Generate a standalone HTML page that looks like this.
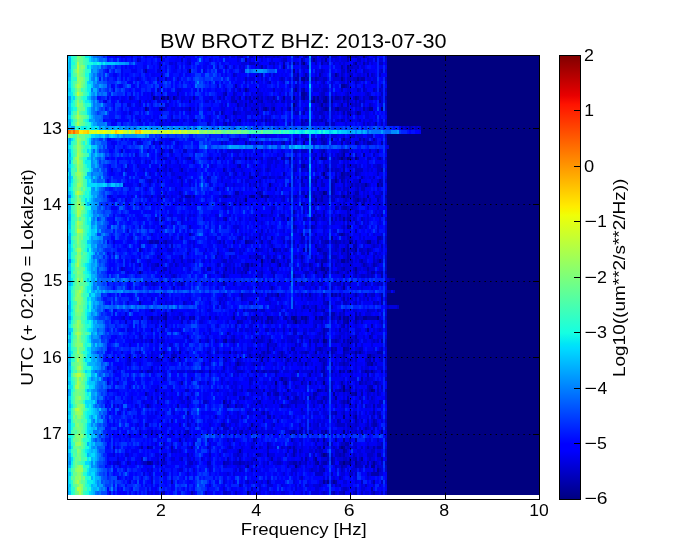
<!DOCTYPE html>
<html><head><meta charset="utf-8"><title>BW BROTZ BHZ spectrogram</title>
<style>html,body{margin:0;padding:0;background:#fff;width:673px;height:554px;overflow:hidden}svg{display:block}</style>
</head><body>
<svg width="673" height="554" viewBox="0 0 673 554">
<defs><clipPath id="dclip"><rect x="67" y="55" width="473" height="440"/></clipPath></defs>
<g clip-path="url(#dclip)">
<rect x="67" y="55" width="473" height="440" fill="#000080"/>
<g stroke-width="3.802" fill="none" shape-rendering="crispEdges"><path stroke="#000097" d="M327 55.86h2m18 0h2m-104 3.8h2m66 0h2m10 0h2m-34 3.8h2m60 0h2m-74 3.81h2m62 0h2m-56 3.8h2m40 3.8h2m-36 3.8h4m36 0h2m14 0h2m-18 7.61h4m-100 3.8h2m48 0h2m4 3.8h4m-144 3.8h4m8 0h2m108 0h2m18 0h2m8 0h2m2 0h2m6 0h2m16 0h2m10 0h2m14 0h2m-62 3.8h2m10 0h4m4 0h2m-12 3.81h2m-178 3.8h2m118 0h2m6 0h2m50 0h2m10 0h2m30 0h4m-16 3.8h2m-120 7.6h2m102 19.02h2m-42 3.8h2m50 0h2m-14 11.4h2m18 0h2m-120 3.81h2m42 0h2m32 0h4m22 0h2m-48 7.6h2m36 7.6h2m-18 3.8h2m8 3.81h2m22 0h2m-92 3.8h2m94 0h2m-42 7.6h2m-102 3.81h2m24 0h4m12 0h2m98 0h2m-54 3.8h2m40 0h2m-72 19.01h2m22 0h2m30 0h2m2 7.6h2m-8 7.61h2m-12 3.8h2m-88 3.8h2m102 0h2m16 0h4m-98 7.6h2m28 0h2m38 0h2m10 0h2m-86 11.41h4m66 0h4m34 0h2m-134 3.8h2m30 0h2m40 0h2m-2 3.8h4m30 0h2m-218 3.81h2m174 0h2m8 0h2m-4 3.8h2m18 0h2m-2 11.4h2m-68 7.61h2m52 0h2m-182 22.81h2m12 0h2m66 0h2m32 0h2m22 0h2m2 0h2m4 0h2m2 0h2m8 0h2m4 0h2m16 0h2m2 0h2m2 0h2m6 0h2m6 0h4m-20 3.8h2m18 7.6h2m-144 11.41h2m98 0h2m16 7.61h2m-182 3.8h2m14 0h2m48 0h2m84 0h2m10 0h2m26 0h2m2 0h2m8 3.8h2m-110 3.8h2m-26 3.8h2m66 0h2m64 0h2m-34 7.61h2m8 0h2m14 0h2m4 0h2m-92 7.6h2m2 3.8h2m22 0h2m-24 7.61h2m28 0h2m54 0h2m-42 3.8h2m20 0h2m-70 3.8h2m46 0h2m-114 3.8h2m122 0h2m6 15.21h2m-106 7.61h2m40 7.6h2m30 0h2m34 0h2m18 0h2m-60 7.6h2m18 0h2m10 0h2m-210 7.61h2m194 0h2m-106 3.8h2m102 0h2m-20 3.8h2m-12 3.8h2m44 0h2m-216 3.81h4m166 0h2m30 0h2m4 0h2m16 0h2m-128 3.8h2m122 0h4m2 3.8h2m-56 11.4h2m2 0h2m4 0h2"/><path stroke="#0000ae" d="M159 55.86h2m136 0h2m6 0h2m42 0h2m4 0h2m-56 3.8h2m44 0h2m-66 3.8h2m16 0h2m18 0h2m40 0h2m-104 3.81h2m78 0h2m-198 3.8h2m200 0h2m-52 3.8h2m6 0h2m12 0h2m46 0h2m-74 3.8h4m8 0h2m6 0h2m44 0h4m6 3.81h2m-138 3.8h2m108 0h2m-44 3.8h2m-80 3.8h2m78 0h2m-114 3.8h2m44 0h2m4 0h2m2 0h2m6 0h2m14 0h2m26 0h2m20 0h2m6 0h2m2 0h4m8 0h2m8 0h2m10 0h2m14 0h2m-198 3.8h2m44 0h2m14 0h2m8 0h2m54 0h2m28 0h2m30 0h2m-144 3.81h2m6 0h2m94 0h2m4 0h2m-190 3.8h4m26 0h2m72 0h2m24 0h2m2 0h2m28 0h2m2 0h2m6 0h2m26 0h2m-144 3.8h2m10 0h2m22 0h2m44 0h2m38 0h2m2 0h4m8 0h2m-136 3.8h2m-34 3.8h2m70 0h2m34 0h2m2 0h2m14 0h2m18 0h2m-118 3.81h2m74 0h2m22 0h2m48 0h2m32 3.8h2m-116 11.41h2m8 0h4m2 0h2m8 0h2m36 0h2m2 0h2m8 0h2m-216 3.8h2m84 0h2m36 0h2m38 0h2m16 0h2m14 0h2m8 0h4m10 0h2m-222 7.6h2m148 0h2m10 0h2m18 0h2m32 0h2m-58 3.8h2m-134 3.81h2m26 0h2m30 0h2m30 0h4m8 0h2m18 0h2m4 0h2m18 0h2m2 0h2m12 0h2m20 0h2m-142 7.6h2m60 0h2m22 0h2m16 0h2m-188 3.8h2m22 0h2m40 0h2m102 0h2m14 0h2m36 0h2m-100 3.8h2m58 0h2m2 0h2m6 0h2m-178 3.8h2m68 0h4m52 0h2m10 0h2m8 0h2m6 0h2m4 0h4m16 0h2m-62 3.81h2m12 0h2m24 0h2m36 0h2m-92 3.8h2m40 0h2m18 0h2m28 0h2m-66 3.8h2m12 0h2m-98 3.8h4m20 0h2m70 0h2m14 0h2m6 0h4m-196 3.81h2m20 0h6m2 0h2m28 0h2m24 0h2m14 0h2m28 0h2m16 0h2m6 0h2m18 0h2m4 0h2m4 0h2m30 0h2m-66 3.8h2m32 0h2m6 0h2m12 0h2m-24 3.8h2m6 0h2m-30 3.8h2m6 0h4m-54 3.8h2m-34 3.8h2m50 0h2m8 0h2m14 0h2m40 0h2m-158 3.81h2m28 0h2m16 0h2m18 0h2m18 0h2m16 0h2m14 0h4m-58 7.6h2m16 0h2m36 0h2m4 3.8h2m-168 3.81h2m110 0h2m36 0h2m2 0h2m-74 3.8h2m104 0h4m-232 3.8h4m2 0h4m6 0h2m66 0h2m12 0h2m12 0h2m62 0h4m6 0h2m14 0h2m2 0h2m20 0h2m-64 3.8h2m30 0h2m4 0h4m-218 3.8h2m166 0h2m8 0h4m26 0h2m18 0h2m-46 3.8h4m20 0h2m18 0h2m-112 3.81h2m24 0h2m16 0h2m22 0h2m20 0h2m-34 3.8h2m4 0h6m20 0h2m12 0h2m-206 3.8h2m86 0h2m4 0h2m8 0h2m46 0h2m52 0h2m8 0h2m-168 3.8h4m14 0h2m20 0h2m78 0h2m14 0h2m22 0h2m-124 3.81h2m90 0h2m8 0h2m6 0h2m14 0h4m6 0h2m2 0h2m-164 3.8h2m68 0h2m86 0h2m6 3.8h6m-214 3.8h2m40 0h2m118 0h2m20 0h2m-96 3.8h2m114 3.8h4m-150 3.81h2m66 0h2m12 0h2m10 0h2m2 0h2m14 0h2m8 0h2m14 0h2m-40 3.8h2m36 0h2m-244 3.8h2m186 0h2m52 0h2m-80 3.8h2m10 0h2m-166 3.8h2m156 0h2m4 0h2m6 0h2m18 0h2m-180 3.81h2m164 0h4m20 0h2m-216 3.8h2m20 0h2m24 0h2m2 0h2m14 0h2m40 0h4m2 0h2m10 0h4m12 0h2m16 0h2m14 0h2m10 0h2m12 0h2m10 0h2m8 0h10m-140 3.8h2m28 0h2m2 0h2m20 0h2m10 0h2m36 0h4m8 0h2m-192 3.8h2m176 0h2m26 0h2m-50 3.8h2m14 0h2m-114 3.81h2m94 0h2m-24 3.8h2m20 0h2m30 0h2m12 0h2m-220 3.8h2m70 0h2m8 0h2m34 0h2m38 0h2m6 0h2m16 0h2m6 0h2m2 0h2m2 0h2m28 0h2m-116 3.8h2m86 0h2m-90 3.81h2m22 0h4m24 0h2m10 0h2m2 0h2m8 0h4m-86 3.8h2m2 0h2m12 0h2m22 0h2m24 0h2m10 0h2m32 0h6m-134 3.8h2m8 0h2m20 0h2m60 0h2m10 0h2m10 0h2m-198 3.8h2m114 0h2m10 0h2m18 0h2m48 0h2m2 0h2m-52 3.8h2m6 0h2m10 0h2m22 0h4m-48 3.8h2m-178 3.81h2m60 0h2m40 0h2m4 0h2m4 0h2m10 0h2m20 0h2m12 0h2m8 0h4m6 0h2m10 0h2m2 0h2m18 0h2m12 0h2m2 0h2m-78 3.8h2m12 0h2m42 0h2m-8 3.8h2m22 0h2m-206 3.8h2m100 0h2m16 0h2m38 0h2m16 0h2m14 0h2m-28 3.81h2m18 0h4m-218 3.8h2m106 0h2m54 0h2m4 0h2m4 0h2m6 0h2m8 0h2m18 0h2m14 0h2m-242 3.8h2m120 0h2m6 0h4m34 0h4m34 0h4m6 0h2m-176 3.8h2m54 0h2m50 0h2m12 0h2m2 0h2m8 0h2m22 0h2m-90 3.8h2m60 0h2m20 0h2m-198 3.81h2m28 0h2m48 0h2m6 0h2m44 0h2m40 0h2m24 0h2m4 0h2m16 0h2m-188 7.6h2m74 0h2m70 0h2m36 0h2m-108 3.8h4m108 0h2m-44 3.8h2m16 0h2m16 0h2m-154 3.81h4m148 0h4m-128 3.8h2m50 0h2m62 0h2m-216 3.8h2m34 0h2m52 0h2m48 0h2m6 0h2m8 0h2m10 0h2m48 0h2m-194 7.6h2m72 0h2m36 0h2m24 0h2m16 0h2m-10 3.8h2m16 0h4m-208 3.81h2m28 0h2m18 0h2m58 0h2m14 0h2m20 0h2m2 0h2m24 0h2m18 0h2m26 0h2m4 0h2m2 0h4m-88 3.8h2m50 0h2m-90 3.8h2m8 0h2m24 0h2m26 0h2m16 0h2m2 0h2m32 0h4m-218 3.8h2m106 0h2m32 0h2m24 0h2m16 0h2m4 0h2m24 0h2m-232 3.81h2m70 0h2m14 0h2m52 0h4m2 0h2m14 0h2m6 0h4m4 0h2m6 0h4m2 0h4m18 0h2m16 0h2m-46 3.8h2m12 0h2m8 0h2m-44 3.8h2m46 3.8h8m-208 7.6h2m94 0h2m66 0h2m36 0h2m-4 7.61h2m-210 3.8h2m26 0h2m140 0h2m8 0h2m10 0h2m16 0h2"/><path stroke="#0000c5" d="M157 55.86h2m24 0h2m52 0h6m6 0h4m6 0h4m2 0h2m6 0h2m2 0h2m16 0h2m6 0h2m6 0h6m6 0h4m4 0h6m14 0h4m2 0h2m6 0h2m8 0h2m8 0h2m-250 3.8h2m42 0h2m100 0h4m24 0h2m2 0h2m4 0h2m34 0h4m6 0h2m6 0h2m-218 3.8h2m28 0h2m58 0h6m2 0h2m10 0h2m2 0h2m22 0h2m16 0h2m10 0h2m24 0h2m12 0h2m10 0h4m-224 3.81h2m64 0h2m80 0h2m40 0h4m4 0h2m-38 3.8h2m18 0h4m4 0h2m4 0h2m6 0h2m16 0h2m-222 3.8h2m70 0h2m22 0h2m2 0h2m30 0h2m42 0h2m2 0h2m6 0h4m18 0h2m6 0h2m-224 3.8h2m6 0h2m78 0h2m34 0h2m10 0h2m10 0h2m4 0h2m4 0h2m4 0h4m16 0h2m2 0h4m2 0h4m2 0h2m24 0h2m-118 3.81h2m32 0h2m18 0h2m22 0h2m6 0h2m-62 3.8h2m50 0h2m14 0h2m16 0h2m-226 3.8h2m80 0h2m6 0h2m8 0h2m14 0h2m18 0h2m6 0h2m20 0h4m14 0h2m14 0h2m4 0h2m8 0h2m4 0h2m4 0h2m-236 3.8h2m24 0h2m44 0h2m8 0h2m86 0h4m22 0h2m18 0h2m12 0h2m-254 3.8h2m24 0h4m6 0h2m8 0h2m42 0h2m2 0h2m6 0h4m18 0h2m6 0h2m4 0h2m36 0h4m6 0h2m4 0h2m4 0h2m10 0h2m4 0h2m2 0h2m2 0h2m8 0h2m8 0h4m2 0h2m-242 3.8h2m90 0h4m14 0h2m6 0h4m10 0h2m2 0h2m4 0h4m10 0h2m18 0h2m2 0h2m6 0h2m14 0h2m10 0h2m2 0h2m2 0h2m20 0h2m-92 3.81h2m22 0h2m4 0h2m4 0h2m18 0h2m2 0h2m2 0h2m8 0h2m14 0h2m-240 3.8h2m14 0h2m44 0h2m40 0h2m4 0h2m8 0h2m2 0h2m8 0h2m4 0h2m16 0h2m8 0h2m4 0h2m8 0h2m6 0h10m18 0h2m16 0h2m-152 3.8h2m58 0h4m20 0h4m32 0h2m-34 3.8h2m22 0h2m-210 3.8h2m30 0h2m4 0h2m16 0h2m36 0h2m2 0h2m14 0h2m6 0h2m6 0h2m2 0h2m18 0h2m12 0h2m6 0h2m2 0h2m4 0h2m10 0h2m4 0h2m4 0h2m8 0h2m-200 3.81h2m44 0h2m14 0h2m4 0h2m42 0h2m14 0h2m2 0h2m8 0h2m22 0h2m2 0h4m28 0h2m2 0h2m12 0h2m18 3.8h2m2 0h2m4 0h2m2 0h2m2 0h2m-172 7.6h2m50 0h2m18 0h4m26 0h4m16 0h2m12 0h2m-150 3.81h2m74 0h4m6 0h4m14 0h2m6 0h2m-198 3.8h2m66 0h2m26 0h2m6 0h2m2 0h2m8 0h2m8 0h2m6 0h2m4 0h2m16 0h2m6 0h2m2 0h2m20 0h2m14 0h2m6 0h2m-252 7.6h2m46 0h4m10 0h4m74 0h2m30 0h4m4 0h6m14 0h2m18 0h2m2 0h4m20 0h2m-88 3.8h2m30 0h2m8 0h2m10 0h2m2 0h2m6 0h2m4 0h2m16 0h2m-212 3.81h4m8 0h2m10 0h2m20 0h2m12 0h2m8 0h2m4 0h2m20 0h2m8 0h2m2 0h2m24 0h2m2 0h2m26 0h2m2 0h2m6 0h2m4 0h2m14 0h4m6 0h2m6 0h2m-194 3.8h2m38 0h2m54 0h2m-126 3.8h2m70 0h2m56 0h2m8 0h2m40 0h4m4 0h2m20 0h4m-212 3.8h2m62 0h2m32 0h2m24 0h4m4 0h2m4 0h2m6 0h2m8 0h2m4 0h2m2 0h4m16 0h8m14 0h4m-146 3.8h2m6 0h2m4 0h2m6 0h2m62 0h2m12 0h2m8 0h2m2 0h2m6 0h2m18 0h2m-172 3.8h2m54 0h4m2 0h2m8 0h2m12 0h2m2 0h2m2 0h2m12 0h2m22 0h2m8 0h2m22 0h2m-226 3.81h2m6 0h2m22 0h2m76 0h2m50 0h2m8 0h2m8 0h4m2 0h2m4 0h2m2 0h2m32 0h2m2 0h2m-248 3.8h2m40 0h2m42 0h2m22 0h2m4 0h2m44 0h4m10 0h2m4 0h4m8 0h2m8 0h2m10 0h4m2 0h4m2 0h2m10 0h2m-164 3.8h2m56 0h2m56 0h2m8 0h2m2 0h2m8 0h2m2 0h4m-186 3.8h2m76 0h2m2 0h2m38 0h4m2 0h2m4 0h2m4 0h4m10 0h2m6 0h2m30 0h2m6 0h2m-232 3.81h2m28 0h2m44 0h4m14 0h2m12 0h2m2 0h2m18 0h2m4 0h2m2 0h2m12 0h2m6 0h2m10 0h2m2 0h2m2 0h4m6 0h2m2 0h2m4 0h4m16 0h6m-202 3.8h2m54 0h2m28 0h2m16 0h2m4 0h2m28 0h2m10 0h4m10 0h2m6 0h2m4 0h2m4 0h2m2 0h2m14 0h2m-166 3.8h4m8 0h2m4 0h2m60 0h4m6 0h2m2 0h2m26 0h2m16 0h2m22 0h2m-162 3.8h2m46 0h2m32 0h2m4 0h2m22 0h2m2 0h2m4 0h2m2 0h2m14 0h2m8 0h2m-108 3.8h2m30 0h2m10 0h2m6 0h2m22 0h2m6 0h4m-78 3.8h4m32 0h4m26 0h4m22 0h2m2 0h2m-224 3.81h2m4 0h2m60 0h2m58 0h2m18 0h4m8 0h2m6 0h2m10 0h2m2 0h2m12 0h2m6 0h2m22 0h2m-72 3.8h2m30 0h2m6 0h2m-196 3.8h2m26 0h2m104 0h2m8 0h2m6 0h2m28 0h2m14 0h2m-100 3.8h2m-4 3.81h2m46 0h2m6 0h2m30 0h2m-168 3.8h2m56 0h2m18 0h2m40 0h4m16 0h2m24 0h4m30 0h2m2 0h2m-234 3.8h2m8 0h2m54 0h2m2 0h2m24 0h4m16 0h2m12 0h2m4 0h2m2 0h2m6 0h2m4 0h2m2 0h2m8 0h4m6 0h4m2 0h4m2 0h2m20 0h2m18 0h2m-216 3.8h2m98 0h2m24 0h2m24 0h2m10 0h4m34 0h2m6 0h2m-154 3.8h4m24 0h2m16 0h2m2 0h2m4 0h2m34 0h2m12 0h2m4 0h2m8 0h4m4 0h4m6 0h2m-184 3.8h2m28 0h2m122 0h2m10 0h2m6 0h4m10 0h2m-220 3.81h2m22 0h2m32 0h2m12 0h2m18 0h2m4 0h2m2 0h2m6 0h2m4 0h2m20 0h2m14 0h2m2 0h2m6 0h2m6 0h6m12 0h2m22 0h2m10 0h2m-214 3.8h2m6 0h2m10 0h2m28 0h4m50 0h2m8 0h2m12 0h2m14 0h2m18 0h2m6 0h2m4 0h2m6 0h2m12 0h2m2 0h2m2 0h2m2 0h2m-248 3.8h2m14 0h2m18 0h2m40 0h2m22 0h2m34 0h2m8 0h2m14 0h2m6 0h2m18 0h2m2 0h2m28 0h2m8 0h2m8 0h2m-266 3.8h2m40 0h4m66 0h2m8 0h4m24 0h2m28 0h2m8 0h2m2 0h2m2 0h2m4 0h2m14 0h2m10 0h2m30 0h2m-218 3.81h2m46 0h2m4 0h2m8 0h2m6 0h2m18 0h2m8 0h4m30 0h4m14 0h2m6 0h2m2 0h2m30 0h2m8 0h4m-208 3.8h2m86 0h2m10 0h2m30 0h2m48 0h2m4 0h4m2 0h2m2 0h2m14 3.8h2m-244 3.8h2m6 0h2m78 0h2m22 0h2m36 0h2m4 0h4m6 0h2m6 0h4m14 0h4m8 0h2m26 0h2m2 0h2m-210 3.8h2m140 0h2m8 0h2m4 0h2m60 3.8h2m-232 3.81h2m58 0h2m32 0h2m8 0h2m2 0h2m2 0h2m24 0h2m2 0h2m26 0h2m8 0h2m26 0h4m-134 3.8h2m22 0h4m54 0h2m22 0h2m18 0h2m16 0h2m-204 3.8h2m34 0h2m28 0h4m70 0h4m16 0h4m8 0h2m16 0h2m2 0h2m-98 3.8h2m24 0h2m22 0h2m54 0h2m8 0h2m-228 3.8h2m62 0h2m6 0h2m6 0h6m4 0h4m56 0h2m44 0h2m8 0h2m-146 3.81h2m90 0h4m10 0h2m2 0h2m14 0h2m-238 3.8h2m24 0h2m6 0h2m18 0h2m2 0h4m6 0h2m22 0h2m28 0h2m8 0h2m4 0h2m14 0h2m4 0h2m22 0h2m14 0h4m6 0h2m2 0h2m20 0h4m22 0h2m-262 3.8h2m38 0h2m14 0h2m56 0h4m10 0h2m6 0h2m2 0h2m20 0h2m8 0h4m20 0h2m14 0h2m22 0h2m18 0h2m-148 3.8h2m78 0h2m24 0h2m4 0h2m-198 3.8h2m104 0h2m6 0h4m4 0h2m8 0h2m4 0h2m2 0h4m28 0h4m18 0h2m30 0h2m-88 3.81h4m6 0h2m14 0h2m50 0h2m-186 3.8h2m44 0h2m26 0h2m36 0h2m38 0h2m30 0h2m-212 3.8h2m36 0h2m6 0h2m6 0h2m14 0h2m20 0h2m2 0h6m28 0h2m8 0h2m10 0h4m14 0h4m2 0h2m10 0h2m4 0h4m14 0h2m2 0h2m6 0h2m-112 3.8h2m18 0h2m2 0h2m8 0h2m4 0h2m6 0h4m14 0h2m4 0h2m36 0h2m-114 3.81h2m40 0h4m2 0h2m10 0h2m24 0h4m18 0h2m-244 3.8h2m32 0h2m32 0h2m8 0h2m4 0h2m10 0h2m4 0h2m18 0h2m6 0h2m8 0h2m8 0h2m4 0h2m4 0h4m2 0h2m12 0h2m10 0h2m10 0h4m2 0h4m2 0h2m2 0h2m-234 3.8h2m40 0h6m86 0h2m66 0h2m38 0h4m6 0h2m-254 3.8h2m26 0h2m20 0h2m28 0h2m14 0h2m10 0h2m28 0h2m24 0h4m24 0h6m16 0h2m2 0h2m6 0h2m8 0h4m12 0h2m2 0h2m-184 3.8h2m30 0h2m2 0h2m12 0h2m8 0h2m20 0h2m14 0h2m22 0h2m12 0h4m2 0h4m26 0h2m8 0h2m-236 3.8h2m70 0h2m10 0h2m78 0h2m-176 3.81h2m6 0h4m40 0h2m4 0h4m34 0h6m18 0h2m2 0h2m2 0h6m2 0h2m16 0h2m18 0h2m24 0h2m8 0h2m8 0h4m4 0h2m2 0h2m-100 3.8h2m48 0h2m-164 3.8h2m26 0h2m56 0h4m26 0h2m2 0h4m4 0h6m6 0h2m18 0h2m42 0h2m-162 3.8h2m40 0h2m64 0h2m14 0h2m14 0h2m12 0h2m2 0h2m6 0h2m2 0h2m-104 3.81h2m8 0h2m8 0h2m28 0h2m4 0h2m8 0h2m24 0h2m8 0h2m2 0h2m-212 3.8h2m12 0h4m28 0h2m22 0h2m4 0h6m20 0h4m44 0h2m12 0h4m2 0h2m2 0h4m6 0h2m4 0h2m4 0h2m8 0h2m-216 3.8h2m68 0h4m32 0h2m2 0h2m8 0h2m82 0h2m8 0h2m6 0h2m-236 3.8h2m86 0h2m56 0h2m26 0h2m32 0h2m6 0h2m2 0h2m12 0h2m-230 3.8h2m44 0h4m18 0h2m2 0h2m26 0h2m14 0h2m16 0h6m6 0h2m12 0h4m4 0h2m14 0h2m2 0h2m2 0h2m10 0h2m16 0h4m-196 3.81h2m52 0h2m44 0h2m6 0h2m16 0h2m20 0h2m6 0h2m20 0h2m10 0h4m-80 3.8h2m70 0h2m-128 3.8h2m12 0h2m4 0h2m62 0h4m8 0h2m4 0h2m4 0h2m20 0h4m-166 3.8h2m24 0h2m30 0h2m52 0h2m24 0h2m16 0h2m-202 3.8h2m90 0h2m12 0h2m60 0h2m8 0h2m10 0h2m4 0h2m6 0h2m8 0h2m-242 3.81h2m32 0h2m6 0h2m84 0h2m24 0h2m8 0h2m6 0h2m18 0h8m2 0h4m4 0h2m10 0h2m2 0h2m-156 3.8h2m4 0h6m26 0h2m94 0h2m6 0h2m6 0h2m4 0h2m10 0h2m-248 3.8h2m30 0h2m12 0h2m28 0h2m18 0h2m2 0h2m10 0h2m36 0h2m4 0h2m4 0h2m2 0h2m4 0h2m10 0h2m22 0h2m6 0h2m-228 3.8h2m76 3.8h2m18 0h2m4 0h2m20 0h2m56 0h2m34 0h2m26 0h2m6 0h2m-224 3.8h2m28 0h2m72 0h2m46 0h2m6 0h2m6 0h2m8 0h4m36 0h2m-270 3.81h2m34 0h4m8 0h2m44 0h2m20 0h2m28 0h2m20 0h2m4 0h2m28 0h2m14 0h2m12 0h4m4 0h2m4 0h2m18 0h2m-212 3.8h2m94 0h2m18 0h2m6 0h2m2 0h2m14 0h2m2 0h4m12 0h4m32 0h4m10 0h2m-224 3.8h4m20 0h2m20 0h2m26 0h2m20 0h2m24 0h2m26 0h2m12 0h2m2 0h2m2 0h4m2 0h2m10 0h2m12 0h6m12 0h2m-246 3.8h2m38 0h2m44 0h2m10 0h2m12 0h2m46 0h2m10 0h2m12 0h2m4 0h2m8 0h4m6 0h2m4 0h2m8 0h2m-254 3.81h2m8 0h2m14 0h4m10 0h2m2 0h4m24 0h4m14 0h4m14 0h4m4 0h6m2 0h4m2 0h2m2 0h2m14 0h2m8 0h4m8 0h4m12 0h2m14 0h2m10 0h2m22 0h4m10 0h2m2 0h2m4 0h2m-138 3.8h2m40 0h2m8 0h2m20 0h4m12 0h2m6 0h4m10 0h6m4 0h2m8 0h2m6 0h2m-148 3.8h2m10 0h2m58 0h2m6 0h4m18 0h2m30 0h2m4 0h2m4 0h2m-224 3.8h2m150 0h8m8 0h2m16 0h4m2 0h2m10 0h2m-68 3.8h2m36 0h2m-94 3.8h2m76 0h2m4 0h2m28 0h2m18 0h2m-144 3.81h2m78 0h2m14 0h2m2 0h2m24 0h2m-116 3.8h2m90 0h4m8 0h2m-196 3.8h2m42 0h2m16 0h4m8 0h2m12 0h2m72 0h2m6 0h2m6 0h4m10 0h2m6 0h2m8 0h2m8 0h2m2 0h2"/><path stroke="#0000dc" d="M115 55.86h2m4 0h4m6 0h2m12 0h2m6 0h2m6 0h2m2 0h2m10 0h2m40 0h2m4 0h4m2 0h4m32 0h6m2 0h2m2 0h2m2 0h4m6 0h2m12 0h2m10 0h4m14 0h2m2 0h6m12 0h4m4 0h2m4 0h2m-236 3.8h2m20 0h2m24 0h4m18 0h2m26 0h2m10 0h2m10 0h2m8 0h2m8 0h2m20 0h2m18 0h2m6 0h2m2 0h4m2 0h6m16 0h2m4 0h4m6 0h4m2 0h2m-218 3.8h4m2 0h2m10 0h2m52 0h6m24 0h2m4 0h2m10 0h2m4 0h2m8 0h2m16 0h4m6 0h2m4 0h2m2 0h2m14 0h2m4 0h2m4 0h2m12 0h2m-212 3.81h2m40 0h2m14 0h2m4 0h2m2 0h2m10 0h2m2 0h2m4 0h2m6 0h2m26 0h6m36 0h2m8 0h4m4 0h4m-222 3.8h2m12 0h4m26 0h2m14 0h2m36 0h4m52 0h2m4 0h2m10 0h2m2 0h2m2 0h2m40 0h4m10 0h2m4 0h2m-152 3.8h2m32 0h2m2 0h2m20 0h2m6 0h2m2 0h2m6 0h2m4 0h2m8 0h4m8 0h2m2 0h2m8 0h4m2 0h2m8 0h2m-238 3.8h2m38 0h2m70 0h6m6 0h2m2 0h2m12 0h2m2 0h2m4 0h2m22 0h2m4 0h4m10 0h8m10 0h2m14 0h4m2 0h4m-132 3.81h2m10 0h2m8 0h2m14 0h2m12 0h2m16 0h2m4 0h2m8 0h2m8 0h4m12 0h2m14 0h4m8 0h2m-170 3.8h2m70 0h2m6 0h2m20 0h2m2 0h4m4 0h2m22 0h2m-180 3.8h4m44 0h2m6 0h2m2 0h2m4 0h2m36 0h2m14 0h2m14 0h6m2 0h2m4 0h2m18 0h4m8 0h2m4 0h2m8 0h2m4 0h2m-148 3.8h2m14 0h2m4 0h6m16 0h2m6 0h2m4 0h2m2 0h2m8 0h2m10 0h2m10 0h2m2 0h2m8 0h2m18 0h2m2 0h2m14 0h2m-256 3.8h2m18 0h2m16 0h2m6 0h2m2 0h4m4 0h2m18 0h4m4 0h2m18 0h2m8 0h2m6 0h2m2 0h2m4 0h2m2 0h4m2 0h2m4 0h2m4 0h4m4 0h4m12 0h2m6 0h2m12 0h2m6 0h2m16 0h2m4 0h4m12 0h2m-278 3.8h2m14 0h2m22 0h2m2 0h2m6 0h4m8 0h2m10 0h2m22 0h4m4 0h2m24 0h4m2 0h2m20 0h4m6 0h2m8 0h4m2 0h2m2 0h2m4 0h2m16 0h2m10 0h8m4 0h2m2 0h4m8 0h2m18 0h2m-256 3.81h4m8 0h2m24 0h4m52 0h2m2 0h2m12 0h4m6 0h2m2 0h6m2 0h4m6 0h4m12 0h2m26 0h4m4 0h2m2 0h2m10 0h2m12 0h2m2 0h2m4 0h2m6 0h2m8 0h2m-218 3.8h2m4 0h4m6 0h2m2 0h4m4 0h2m2 0h2m8 0h2m12 0h4m8 0h2m2 0h2m4 0h4m6 0h4m4 0h2m34 0h2m4 0h2m2 0h2m2 0h2m6 0h2m12 0h2m20 0h2m2 0h2m4 0h2m-238 3.8h2m58 0h2m24 0h4m4 0h2m12 0h4m4 0h6m2 0h4m14 0h2m2 0h2m4 0h2m10 0h2m6 0h2m10 0h6m4 0h2m2 0h2m2 0h4m2 0h2m2 0h2m8 0h2m12 0h4m4 0h2m10 0h2m-216 3.8h2m36 0h2m24 0h2m8 0h2m14 0h2m2 0h2m2 0h2m44 0h4m2 0h2m8 0h2m10 0h2m12 0h2m6 0h4m6 0h2m-262 3.8h2m34 0h2m8 0h2m2 0h2m6 0h4m6 0h2m24 0h2m6 0h2m4 0h2m4 0h2m14 0h2m2 0h4m6 0h2m6 0h2m6 0h2m6 0h2m18 0h2m6 0h4m2 0h2m4 0h2m6 0h2m2 0h2m2 0h2m6 0h2m2 0h2m4 0h2m4 0h2m4 0h4m8 0h2m2 0h2m-228 3.81h2m8 0h2m38 0h2m6 0h2m16 0h2m2 0h2m24 0h2m2 0h2m6 0h2m26 0h4m2 0h2m4 0h2m26 0h2m22 0h2m2 0h2m10 0h2m16 3.8h2m2 0h2m4 0h2m2 0h2m-154 7.6h2m36 0h4m6 0h2m12 0h2m2 0h6m6 0h2m4 0h2m6 0h6m4 0h4m-202 3.81h4m56 0h2m2 0h4m6 0h2m52 0h2m4 0h2m14 0h2m16 0h2m6 0h4m12 0h2m2 0h4m6 0h2m8 0h2m-250 3.8h4m20 0h2m14 0h2m46 0h2m6 0h4m18 0h2m18 0h2m16 0h2m20 0h2m14 0h6m8 0h2m2 0h2m8 0h2m4 0h2m6 0h4m8 0h2m0 3.8h2m-242 3.8h2m14 0h2m30 0h2m24 0h2m4 0h4m2 0h8m2 0h2m10 0h2m14 0h2m8 0h2m14 0h2m20 0h2m4 0h2m12 0h2m10 0h2m8 0h2m12 0h2m8 0h2m-252 3.8h2m22 0h4m8 0h2m8 0h2m38 0h6m10 0h2m6 0h2m30 0h2m16 0h2m4 0h2m10 0h2m16 0h2m2 0h2m2 0h2m-156 3.81h2m20 0h2m2 0h2m22 0h4m12 0h4m4 0h2m6 0h4m2 0h2m12 0h2m6 0h2m34 0h2m2 0h2m44 0h2m-238 3.8h2m2 0h2m18 0h2m6 0h2m82 0h2m4 0h6m2 0h4m4 0h2m10 0h2m4 0h4m6 0h2m2 0h2m6 0h2m6 0h8m4 0h2m2 0h2m18 0h2m16 0h2m-260 3.8h2m8 0h2m40 0h2m30 0h2m32 0h2m6 0h2m12 0h4m4 0h2m6 0h2m4 0h2m2 0h2m12 0h2m6 0h2m2 0h2m2 0h2m2 0h2m2 0h6m4 0h2m8 0h4m4 0h2m6 0h4m2 0h4m4 0h2m-272 3.8h2m12 0h2m16 0h2m18 0h4m4 0h2m6 0h2m14 0h2m28 0h2m4 0h2m8 0h2m14 0h4m4 0h2m2 0h2m32 0h4m16 0h2m8 0h2m4 0h2m8 0h2m16 0h2m2 0h2m12 0h2m-238 3.8h2m8 0h2m4 0h2m4 0h4m10 0h2m38 0h4m4 0h2m20 0h2m36 0h2m30 0h2m12 0h2m10 0h2m6 0h2m-220 3.8h2m34 0h2m2 0h2m26 0h2m10 0h2m6 0h2m2 0h2m18 0h2m6 0h2m8 0h4m2 0h2m2 0h4m18 0h2m2 0h2m14 0h2m20 0h4m14 0h2m4 0h2m10 0h2m2 0h2m-240 3.81h2m2 0h2m18 0h2m16 0h2m16 0h2m12 0h2m18 0h2m2 0h4m26 0h2m16 0h2m12 0h2m4 0h2m38 0h6m12 0h2m4 0h2m-256 3.8h2m24 0h2m38 0h2m18 0h2m22 0h2m18 0h2m4 0h2m10 0h2m10 0h2m8 0h2m12 0h2m4 0h2m32 0h4m2 0h2m4 0h2m8 0h2m-226 3.8h2m28 0h2m46 0h2m32 0h2m2 0h2m4 0h4m10 0h2m54 0h4m4 0h2m8 0h2m20 0h2m-214 3.8h2m14 0h2m58 0h2m46 0h2m6 0h2m12 0h2m2 0h4m24 0h2m4 0h2m2 0h2m8 0h2m2 0h2m10 0h2m4 0h2m-278 3.81h2m20 0h2m6 0h2m4 0h4m8 0h6m4 0h2m2 0h2m18 0h2m26 0h4m10 0h6m18 0h2m10 0h4m2 0h2m2 0h4m14 0h2m4 0h2m6 0h2m4 0h4m2 0h4m6 0h2m4 0h2m10 0h2m6 0h2m2 0h2m-252 3.8h2m10 0h2m22 0h2m6 0h2m22 0h2m4 0h4m2 0h2m20 0h2m22 0h2m2 0h2m12 0h2m14 0h2m6 0h2m10 0h4m16 0h2m2 0h2m4 0h6m14 0h2m2 0h2m12 0h2m16 0h2m-242 3.8h2m34 0h2m10 0h4m34 0h2m8 0h2m4 0h2m18 0h2m50 0h2m4 0h8m10 0h4m12 0h2m14 0h2m4 0h8m-160 3.8h2m4 0h2m40 0h2m10 0h2m18 0h2m20 0h2m22 0h2m2 0h4m-62 3.8h2m10 0h2m24 0h2m14 0h2m10 0h4m10 0h2m2 0h4m-214 3.8h4m8 0h2m6 0h2m2 0h2m20 0h4m10 0h2m22 0h2m8 0h4m2 0h4m6 0h2m12 0h2m20 0h2m14 0h2m2 0h4m2 0h4m6 0h2m2 0h2m10 0h2m2 0h2m6 0h2m-224 3.81h2m4 0h2m16 0h2m4 0h2m14 0h2m12 0h2m20 0h2m8 0h2m30 0h2m12 0h2m20 0h2m2 0h2m2 0h2m14 0h2m2 0h2m8 0h2m6 0h2m2 0h2m10 0h2m-210 3.8h4m6 0h2m78 0h2m30 0h2m32 0h2m2 0h4m8 0h2m12 0h2m4 0h2m2 0h2m10 0h2m-242 3.8h2m22 0h2m68 0h6m32 0h2m42 0h2m6 0h4m14 0h2m18 0h2m2 0h2m10 0h2m6 0h2m-260 3.8h2m106 0h2m30 0h2m14 0h2m8 0h4m14 0h2m10 0h2m8 0h4m6 0h2m32 0h2m6 0h2m-236 3.81h2m38 0h2m48 0h2m2 0h2m14 0h2m2 0h2m22 0h2m8 0h2m22 0h2m2 0h2m8 0h2m6 0h2m12 0h2m6 0h2m4 0h2m6 0h2m2 0h2m-256 3.8h2m38 0h2m6 0h2m34 0h2m20 0h2m2 0h2m6 0h2m2 0h2m10 0h2m14 0h4m26 0h4m4 0h2m4 0h2m8 0h2m6 0h2m6 0h2m6 0h2m2 0h2m-252 3.8h2m24 0h2m6 0h2m18 0h6m16 0h2m2 0h2m22 0h2m18 0h2m14 0h2m4 0h2m6 0h2m18 0h2m10 0h2m2 0h2m8 0h2m2 0h2m22 0h2m2 0h4m12 0h4m6 0h4m4 0h2m-242 3.8h2m24 0h2m26 0h2m28 0h4m18 0h2m22 0h2m18 0h2m2 0h2m12 0h2m8 0h2m2 0h2m2 0h2m6 0h2m10 0h2m16 0h2m6 0h2m2 0h4m6 0h2m-246 3.8h2m14 0h2m8 0h6m16 0h2m14 0h2m10 0h2m14 0h2m4 0h2m2 0h2m10 0h2m2 0h4m4 0h2m8 0h2m4 0h2m2 0h2m34 0h6m2 0h4m2 0h2m6 0h2m2 0h2m12 0h4m4 0h2m8 0h2m-270 3.8h2m46 0h2m40 0h2m34 0h4m24 0h2m6 0h2m4 0h2m16 0h2m6 0h2m10 0h4m4 0h2m2 0h2m4 0h2m4 0h4m2 0h2m4 0h2m16 0h2m4 0h2m4 0h2m-248 3.81h2m18 0h2m18 0h2m40 0h2m10 0h4m14 0h4m6 0h2m6 0h2m4 0h2m16 0h2m4 0h2m2 0h2m32 0h2m4 0h4m8 0h4m6 0h2m10 0h2m2 0h2m-252 3.8h4m12 0h4m10 0h2m2 0h2m20 0h4m12 0h2m4 0h2m10 0h2m6 0h4m30 0h2m2 0h2m6 0h2m6 0h2m4 0h2m28 0h2m6 0h2m2 0h2m2 0h2m2 0h2m8 0h2m4 0h2m6 0h4m8 0h2m-230 3.8h2m2 0h4m6 0h2m6 0h4m4 0h2m4 0h2m34 0h2m4 0h6m2 0h2m8 0h2m4 0h2m2 0h4m12 0h2m14 0h2m6 0h2m6 0h2m2 0h2m30 0h4m2 0h10m8 0h2m4 0h2m2 0h2m4 0h2m-256 3.8h2m26 0h4m14 0h2m18 0h2m12 0h2m18 0h2m4 0h2m6 0h4m20 0h2m6 0h2m6 0h2m16 0h4m10 0h2m6 0h2m12 0h2m4 0h4m4 0h6m6 0h4m2 0h4m2 0h6m4 0h4m-256 3.81h2m8 0h2m2 0h2m16 0h2m2 0h2m38 0h2m10 0h2m8 0h2m2 0h2m6 0h4m2 0h2m12 0h4m14 0h2m12 0h2m2 0h2m8 0h2m8 0h2m2 0h2m2 0h2m4 0h2m4 0h2m4 0h4m2 0h2m6 0h2m2 0h2m10 0h2m-206 3.8h2m4 0h2m2 0h2m32 0h2m10 0h2m2 0h4m12 0h2m14 0h4m26 0h2m6 0h6m16 0h2m6 0h2m14 0h2m10 0h2m4 0h2m4 0h2m2 0h2m2 0h2m10 0h2m-2 3.8h2m-240 3.8h2m2 0h2m2 0h2m14 0h2m4 0h4m2 0h2m18 0h2m16 0h2m2 0h2m16 0h2m16 0h2m6 0h2m6 0h2m20 0h2m12 0h2m16 0h6m10 0h2m12 0h4m2 0h4m2 0h4m2 0h2m4 0h2m-258 3.8h2m86 0h2m28 0h2m10 0h2m8 0h2m2 0h2m30 0h2m2 0h2m30 0h2m14 0h2m2 0h2m8 0h2m12 3.8h2m-162 3.81h2m12 0h2m2 0h10m8 0h2m6 0h2m2 0h2m6 0h4m12 0h2m12 0h2m2 0h2m8 0h2m10 0h2m8 0h2m4 0h2m2 0h2m4 0h2m4 0h2m8 0h2m4 0h2m-236 3.8h2m36 0h2m28 0h4m2 0h2m6 0h2m8 0h4m30 0h4m20 0h2m4 0h6m2 0h2m24 0h2m8 0h2m2 0h2m2 0h2m2 0h2m6 0h2m-246 3.8h2m36 0h2m4 0h2m12 0h2m4 0h2m16 0h2m12 0h2m44 0h2m22 0h2m40 0h6m6 0h2m4 0h2m4 0h2m14 0h2m8 0h2m-170 3.8h2m4 0h2m50 0h2m16 0h2m6 0h2m2 0h2m4 0h4m6 0h2m2 0h4m60 0h8m-268 3.8h2m18 0h2m2 0h2m52 0h4m36 0h4m8 0h2m10 0h6m2 0h2m6 0h2m6 0h2m4 0h2m14 0h4m26 0h2m4 0h4m12 0h6m4 0h2m4 0h2m-262 3.81h2m36 0h2m14 0h4m72 0h2m8 0h2m14 0h4m6 0h2m2 0h2m16 0h4m6 0h2m10 0h2m4 0h2m22 0h6m10 0h2m2 0h2m-266 3.8h2m6 0h2m16 0h2m4 0h4m2 0h4m10 0h4m24 0h4m12 0h2m12 0h2m8 0h4m14 0h2m12 0h4m10 0h2m8 0h4m16 0h2m16 0h2m4 0h2m6 0h4m26 0h2m-230 3.8h2m4 0h2m28 0h2m10 0h4m24 0h2m22 0h2m16 0h2m2 0h4m12 0h4m10 0h2m2 0h2m4 0h8m4 0h2m4 0h2m6 0h2m12 0h2m2 0h2m20 0h2m4 0h2m-232 3.8h2m60 0h2m30 0h4m30 0h2m28 0h2m6 0h2m32 0h2m24 0h2m2 0h2m-260 3.8h2m32 0h4m6 0h2m6 0h2m28 0h2m24 0h2m2 0h4m2 0h4m2 0h2m2 0h2m14 0h2m4 0h2m24 0h4m2 0h6m6 0h2m12 0h2m6 0h4m8 0h6m4 0h2m6 0h2m2 0h2m2 0h2m2 0h2m-248 3.81h2m40 0h2m20 0h2m4 0h2m18 0h2m20 0h2m30 0h2m20 0h2m10 0h2m2 0h2m2 0h2m12 0h6m2 0h2m6 0h4m14 0h2m-236 3.8h4m64 0h2m16 0h2m4 0h2m8 0h2m12 0h4m4 0h2m4 0h2m16 0h8m10 0h4m6 0h6m14 0h4m4 0h2m2 0h8m8 0h2m12 0h6m2 0h2m-254 3.8h2m6 0h2m2 0h2m2 0h2m6 0h2m4 0h2m24 0h2m14 0h2m10 0h2m10 0h2m4 0h4m12 0h2m10 0h2m2 0h2m2 0h2m8 0h4m2 0h4m2 0h4m24 0h2m4 0h2m10 0h2m4 0h2m6 0h2m8 0h4m4 0h2m2 0h2m-248 3.8h2m38 0h4m60 0h2m34 0h6m68 0h4m2 0h2m10 0h2m8 0h2m-194 3.81h2m28 0h2m6 0h2m28 0h6m6 0h2m26 0h2m20 0h2m12 0h4m22 0h2m4 0h4m14 0h2m4 0h2m4 0h2m-266 3.8h2m28 0h2m8 0h2m2 0h2m20 0h2m20 0h2m4 0h2m8 0h4m4 0h2m12 0h4m6 0h2m6 0h2m10 0h2m4 0h2m8 0h2m4 0h2m12 0h2m4 0h2m4 0h2m8 0h2m12 0h2m12 0h2m2 0h10m8 0h2m-246 3.8h2m8 0h2m10 0h2m44 0h2m36 0h2m2 0h2m2 0h4m2 0h2m2 0h4m4 0h2m2 0h4m2 0h4m6 0h4m4 0h2m2 0h2m4 0h6m2 0h2m2 0h2m2 0h2m6 0h8m2 0h2m28 0h6m4 0h2m-260 3.8h2m22 0h2m2 0h2m2 0h4m6 0h2m2 0h2m48 0h2m14 0h2m18 0h2m20 0h2m2 0h2m2 0h2m16 0h4m24 0h2m4 0h2m6 0h4m26 0h2m-254 3.8h4m8 0h2m46 0h2m20 0h2m12 0h2m4 0h2m10 0h4m6 0h2m2 0h6m12 0h4m14 0h2m4 0h4m6 0h2m2 0h2m8 0h2m12 0h2m18 0h2m8 0h2m6 0h2m-258 3.8h2m114 0h2m46 0h2m38 0h2m10 0h2m8 0h4m8 0h2m4 0h2m2 0h4m8 0h6m2 0h2m-274 3.81h2m24 0h2m4 0h2m10 0h2m4 0h2m6 0h2m4 0h8m2 0h6m4 0h2m4 0h2m12 0h2m2 0h4m10 0h2m6 0h2m8 0h4m2 0h2m6 0h2m14 0h6m4 0h2m6 0h10m8 0h2m4 0h2m6 0h2m20 0h2m18 0h2m-212 3.8h2m42 0h2m14 0h2m6 0h2m2 0h2m8 0h2m6 0h2m34 0h4m12 0h2m6 0h2m14 0h2m2 0h2m2 0h2m10 0h2m8 0h2m10 0h2m10 0h2m-222 3.8h2m54 0h2m32 0h2m16 0h2m12 0h2m8 0h2m18 0h6m20 0h2m4 0h8m8 0h2m2 0h4m-266 3.8h2m8 0h2m60 0h2m18 0h2m20 0h2m4 0h2m4 0h4m14 0h2m10 0h4m4 0h2m14 0h2m4 0h2m8 0h4m4 0h2m8 0h2m2 0h2m6 0h2m4 0h2m2 0h2m10 0h2m6 0h2m2 0h4m8 0h2m-252 3.81h2m26 0h2m72 0h2m2 0h2m4 0h2m6 0h2m4 0h4m10 0h2m26 0h2m6 0h2m20 0h2m18 0h2m2 0h2m2 0h2m-250 3.8h2m48 0h2m56 0h2m16 0h4m2 0h2m12 0h8m8 0h4m16 0h2m14 0h2m16 0h2m2 0h2m30 0h2m4 0h2m14 0h2m-236 3.8h2m32 0h2m8 0h2m34 0h2m22 0h2m4 0h6m22 0h2m4 0h6m4 0h2m6 0h2m6 0h2m8 0h2m8 0h2m4 0h2m2 0h4m18 0h2m2 0h2m4 0h2m-250 3.8h2m24 0h2m4 0h2m6 0h2m6 0h4m42 0h2m14 0h2m4 0h2m12 0h2m6 0h2m4 0h4m6 0h2m6 0h2m6 0h2m2 0h2m4 0h2m2 0h2m4 0h2m4 0h2m4 0h2m8 0h2m16 0h2m10 0h2m-232 3.8h2m36 0h4m2 0h4m16 0h2m28 0h2m14 0h2m22 0h2m10 0h2m6 0h6m8 0h4m16 0h6m2 0h2m14 0h2m12 0h6m10 0h2m-274 3.81h2m2 0h2m16 0h2m8 0h2m2 0h2m48 0h2m22 0h4m2 0h2m6 0h4m10 0h2m2 0h2m4 0h2m2 0h2m12 0h2m2 0h4m2 0h2m14 0h2m34 0h2m8 0h2m8 0h2m4 0h4m-244 3.8h2m120 0h2m6 0h2m60 0h2m2 0h2m18 0h2m-226 3.8h2m34 0h2m6 0h2m8 0h2m52 0h2m8 0h2m10 0h4m48 0h4m4 0h2m2 0h6m4 0h4m14 0h2m10 0h2m4 0h2m4 0h2m2 0h4m12 0h2m-200 3.8h2m36 0h2m2 0h2m6 0h2m18 0h4m20 0h2m4 0h2m4 0h2m14 0h2m14 0h2m4 0h2m2 0h2m12 0h2m8 0h2m6 0h2m4 0h2m2 0h2m6 0h2m-200 3.8h2m2 0h2m30 0h2m6 0h8m62 0h2m2 0h2m6 0h2m2 0h4m2 0h2m8 0h2m10 0h4m8 0h2m12 0h2m8 0h2m-246 3.81h2m8 0h2m18 0h2m20 0h2m4 0h2m12 0h2m14 0h2m2 0h2m4 0h2m16 0h2m2 0h2m12 0h2m32 0h2m6 0h4m4 0h4m10 0h2m14 0h4m2 0h2m6 0h2m10 0h2m6 0h2m-154 3.8h2m2 0h2m4 0h2m2 0h2m12 0h2m8 0h2m12 0h2m12 0h2m4 0h2m6 0h6m24 0h2m2 0h4m2 0h4m6 0h2m4 0h2m6 0h2m2 0h2m-236 3.8h2m6 0h2m22 0h2m26 0h2m10 0h2m2 0h4m2 0h2m2 0h2m10 0h4m4 0h12m2 0h10m8 0h4m28 0h2m8 0h2m2 0h2m2 0h2m4 0h2m8 0h4m4 0h2m4 0h2m6 0h2m4 0h2m4 0h2m-240 3.8h2m6 0h2m12 0h2m12 0h2m2 0h2m196 0h2m-202 3.8h2m6 0h2m98 0h2m4 0h4m8 0h2m12 0h2m38 0h2m2 0h2m-216 3.8h2m14 0h2m8 0h2m26 0h2m18 0h2m8 0h2m10 0h4m14 0h2m22 0h4m4 0h2m22 0h2m12 0h2m12 0h4m10 0h2m8 0h4m-242 3.81h2m22 0h2m22 0h4m18 0h2m16 0h2m2 0h2m8 0h2m10 0h2m6 0h2m6 0h4m2 0h2m6 0h2m6 0h2m2 0h2m4 0h2m6 0h2m2 0h2m16 0h2m2 0h2m8 0h2m4 0h4m10 0h2m2 0h4m2 0h2m8 0h2m-214 3.8h4m2 0h2m28 0h2m12 0h4m10 0h2m2 0h2m58 0h2m6 0h4m4 0h2m20 0h4m4 0h2m8 0h4m4 0h6m6 0h4m-268 3.8h2m10 0h4m26 0h4m32 0h2m26 0h2m12 0h4m2 0h4m4 0h2m12 0h2m6 0h6m16 0h2m2 0h2m2 0h2m4 0h4m10 0h2m24 0h4m6 0h2m2 0h4m10 0h2m-258 3.8h2m38 0h2m12 0h4m4 0h2m6 0h4m2 0h2m6 0h2m6 0h2m24 0h2m14 0h2m2 0h2m12 0h2m6 0h4m26 0h2m12 0h6m10 0h6m4 0h2m2 0h2m14 0h2m2 0h4m2 0h4m4 0h2m-278 3.81h2m2 0h4m2 0h2m8 0h2m4 0h2m4 0h2m12 0h2m8 0h2m20 0h2m6 0h2m32 0h2m14 0h2m2 0h2m4 0h4m4 0h2m8 0h4m4 0h2m4 0h2m8 0h2m2 0h4m4 0h2m2 0h2m12 0h2m22 0h2m8 0h4m12 0h2m-260 3.8h2m66 0h4m16 0h4m12 0h4m10 0h4m14 0h2m6 0h2m34 0h2m4 0h2m6 0h4m20 0h4m12 0h2m24 0h4m-236 3.8h2m2 0h2m26 0h4m10 0h2m14 0h2m24 0h2m4 0h2m48 0h6m12 0h2m2 0h4m18 0h2m6 0h2m2 0h2m2 0h6m2 0h2m20 0h2m-240 3.8h2m4 0h2m14 0h2m20 0h2m38 0h2m4 0h2m48 0h2m6 0h2m2 0h2m44 0h4m24 0h2m8 0h4m-266 3.8h2m32 0h2m146 0h2m22 0h2m2 0h2m4 0h2m6 0h2m12 0h2m10 0h2m-240 3.8h2m20 0h2m70 0h2m8 0h2m10 0h2m6 0h2m6 0h2m6 0h2m22 0h2m24 0h4m20 0h4m8 0h2m14 0h2m12 0h2m-178 3.81h2m30 0h2m16 0h2m6 0h6m8 0h2m12 0h2m2 0h2m4 0h4m4 0h6m2 0h2m8 0h2m4 0h2m22 0h2m10 0h2m4 0h2m-158 3.8h2m34 0h2m6 0h2m26 0h2m18 0h4m22 0h2m4 0h2m12 0h4m-256 3.8h2m36 0h2m2 0h2m2 0h4m34 0h2m32 0h4m22 0h2m2 0h4m8 0h2m2 0h2m6 0h4m8 0h2m6 0h2m2 0h2m4 0h8m2 0h2m2 0h2m8 0h2m28 0h4m6 0h4"/><path stroke="#0000f3" d="M109 55.86h2m2 0h2m10 0h2m10 0h4m14 0h2m24 0h2m2 0h6m2 0h2m26 0h2m20 0h4m6 0h2m2 0h2m4 0h2m16 0h2m6 0h2m80 0h2m-248 3.8h2m4 0h2m30 0h2m10 0h4m32 0h2m8 0h2m2 0h4m10 0h2m6 0h2m4 0h2m10 0h2m12 0h2m12 0h4m20 0h4m6 0h2m4 0h2m4 0h2m10 0h2m2 0h2m4 0h2m-212 3.8h2m4 0h2m14 0h2m6 0h2m2 0h2m18 0h4m8 0h2m2 0h2m6 0h2m6 0h4m6 0h2m6 0h2m2 0h2m14 0h2m34 0h4m20 0h4m2 0h2m2 0h4m8 0h2m2 0h2m10 0h4m-252 3.81h2m16 0h4m18 0h2m14 0h2m4 0h2m14 0h4m4 0h2m14 0h2m12 0h2m14 0h2m4 0h2m16 0h2m2 0h2m6 0h2m20 0h2m4 0h2m12 0h6m4 0h2m28 0h2m2 0h4m2 0h2m-280 3.8h2m12 0h2m8 0h6m10 0h2m24 0h4m4 0h2m34 0h4m10 0h2m6 0h2m42 0h2m4 0h2m10 0h2m14 0h2m6 0h4m2 0h2m12 0h2m4 0h4m14 0h6m-262 3.8h4m4 0h2m28 0h4m24 0h2m4 0h2m34 0h2m2 0h2m12 0h2m8 0h2m2 0h4m2 0h2m14 0h4m2 0h2m2 0h2m36 0h4m12 0h2m14 0h2m4 0h2m2 0h2m8 0h2m4 0h2m2 0h2m-252 3.8h2m2 0h2m6 0h2m12 0h2m6 0h2m62 0h2m2 0h4m2 0h2m2 0h2m8 0h2m8 0h2m4 0h4m10 0h2m38 0h2m2 0h2m12 0h2m18 0h2m4 0h2m8 0h2m-254 3.81h4m48 0h2m32 0h2m4 0h2m14 0h4m8 0h2m2 0h2m6 0h2m2 0h2m8 0h2m4 0h2m22 0h2m4 0h2m20 0h2m4 0h2m18 0h2m2 0h2m4 0h2m-260 3.8h2m6 0h4m10 0h2m4 0h2m20 0h2m60 0h2m8 0h2m2 0h2m6 0h2m12 0h4m2 0h2m12 0h2m12 0h2m8 0h2m8 0h4m4 0h2m4 0h2m6 0h4m10 0h2m16 0h4m4 0h2m2 0h2m4 0h2m-274 3.8h2m44 0h2m6 0h2m6 0h2m4 0h2m12 0h2m2 0h2m14 0h2m14 0h2m16 0h2m8 0h2m2 0h2m2 0h6m4 0h4m2 0h2m20 0h2m12 0h2m10 0h2m6 0h2m4 0h2m6 0h4m-226 3.8h2m10 0h2m2 0h2m4 0h2m6 0h2m4 0h6m8 0h4m32 0h2m2 0h2m18 0h2m2 0h2m6 0h4m8 0h2m16 0h2m26 0h2m12 0h2m10 0h4m2 0h2m4 0h4m2 0h6m2 0h2m14 0h2m-274 3.8h2m4 0h2m2 0h2m2 0h4m8 0h2m4 0h2m6 0h2m10 0h2m10 0h2m12 0h4m2 0h2m2 0h4m4 0h6m12 0h2m12 0h2m14 0h2m10 0h2m14 0h2m4 0h2m74 0h2m-260 3.8h2m18 0h2m4 0h2m6 0h2m46 0h2m6 0h2m16 0h2m8 0h6m2 0h2m12 0h2m10 0h2m6 0h4m6 0h2m26 0h2m2 0h2m34 0h2m10 0h2m2 0h2m6 0h8m-260 3.81h2m20 0h4m12 0h2m22 0h2m20 0h2m20 0h2m10 0h2m2 0h2m6 0h2m2 0h2m2 0h2m6 0h2m4 0h6m4 0h2m6 0h2m4 0h2m6 0h2m2 0h2m2 0h4m4 0h2m22 0h2m4 0h2m4 0h2m16 0h2m4 0h2m4 0h2m-260 3.8h2m8 0h2m4 0h2m4 0h2m8 0h2m2 0h2m16 0h6m2 0h2m6 0h2m12 0h2m12 0h2m4 0h2m2 0h2m8 0h2m8 0h2m18 0h2m4 0h2m2 0h2m2 0h2m10 0h2m16 0h2m2 0h2m30 0h4m4 0h2m2 0h2m10 0h4m2 0h2m-258 3.8h4m4 0h2m6 0h2m30 0h2m2 0h4m8 0h2m4 0h2m34 0h4m8 0h4m6 0h2m6 0h4m10 0h2m2 0h2m28 0h2m16 0h2m8 0h2m8 0h2m6 0h2m6 0h4m4 0h2m-236 3.8h4m14 0h2m2 0h2m30 0h4m14 0h2m18 0h4m2 0h2m6 0h4m6 0h2m14 0h2m20 0h2m4 0h2m28 0h4m4 0h4m4 0h2m6 0h2m18 0h4m6 0h2m4 0h2m-256 3.8h2m4 0h2m4 0h2m4 0h2m8 0h2m24 0h2m2 0h4m14 0h2m2 0h2m2 0h2m18 0h2m4 0h2m12 0h4m4 0h2m6 0h2m4 0h2m2 0h2m6 0h2m4 0h2m56 0h4m8 0h4m6 0h2m2 0h2m-270 3.81h4m24 0h4m20 0h6m6 0h2m4 0h2m6 0h6m32 0h2m2 0h2m4 0h2m14 0h2m2 0h4m10 0h2m2 0h2m10 0h2m8 0h2m14 0h4m2 0h6m10 0h2m6 0h2m2 0h4m4 0h2m4 0h2m2 0h2m4 0h2m6 0h2m18 3.8h2m18 3.8h2m-168 3.8h2m6 0h2m4 0h10m4 0h2m12 0h4m12 0h2m12 0h2m10 0h2m2 0h2m12 0h2m22 0h2m-274 3.81h4m10 0h2m16 0h2m20 0h2m2 0h2m6 0h2m16 0h4m44 0h4m2 0h2m46 0h2m6 0h2m50 0h6m12 0h2m8 0h2m-272 3.8h4m16 0h2m8 0h2m12 0h4m6 0h6m4 0h2m46 0h2m12 0h2m8 0h2m2 0h4m4 0h2m4 0h4m4 0h2m4 0h2m4 0h2m24 0h2m6 0h2m18 0h2m12 0h2m6 0h2m-250 3.8h2m60 0h4m206 0h2m-260 3.8h2m64 0h2m2 0h2m16 0h2m2 0h2m10 0h2m12 0h2m2 0h4m6 0h2m4 0h2m16 0h2m22 0h2m4 0h2m2 0h2m12 0h6m12 0h2m4 0h4m6 0h4m2 0h4m4 0h2m-244 3.8h2m18 0h2m10 0h2m22 0h2m14 0h2m24 0h2m12 0h2m2 0h2m2 0h2m20 0h4m20 0h2m6 0h2m6 0h2m2 0h2m2 0h2m28 0h4m6 0h2m6 0h4m6 0h2m-280 3.81h2m24 0h2m2 0h4m10 0h2m6 0h4m4 0h2m8 0h2m2 0h4m8 0h2m20 0h2m2 0h4m4 0h2m12 0h4m2 0h2m6 0h4m26 0h2m10 0h2m4 0h2m2 0h2m2 0h2m2 0h2m10 0h2m24 0h2m4 0h6m6 0h2m2 0h2m-242 3.8h2m2 0h2m20 0h2m24 0h2m2 0h2m28 0h2m8 0h2m12 0h2m2 0h4m26 0h2m12 0h2m2 0h2m8 0h2m16 0h4m16 0h2m12 0h4m12 0h8m-244 3.8h2m10 0h8m4 0h2m4 0h2m2 0h6m4 0h2m24 0h2m2 0h4m6 0h4m2 0h2m2 0h4m20 0h4m12 0h2m6 0h2m14 0h2m14 0h2m24 0h2m16 0h2m4 0h2m20 0h2m-266 3.8h2m4 0h4m8 0h4m4 0h4m4 0h2m4 0h2m20 0h4m2 0h2m2 0h2m14 0h2m24 0h2m2 0h2m2 0h2m10 0h2m4 0h2m10 0h2m6 0h4m26 0h4m2 0h4m20 0h2m8 0h2m10 0h4m2 0h2m4 0h2m-266 3.8h2m8 0h2m4 0h4m2 0h2m8 0h2m6 0h4m20 0h4m2 0h4m2 0h2m22 0h2m6 0h6m16 0h2m2 0h2m12 0h2m6 0h2m2 0h4m2 0h2m6 0h2m8 0h2m4 0h2m12 0h4m18 0h2m14 0h2m6 0h4m2 0h2m4 0h4m2 0h4m2 0h2m-260 3.8h2m10 0h2m2 0h2m6 0h8m4 0h2m6 0h2m2 0h2m8 0h2m36 0h2m2 0h2m8 0h6m4 0h2m10 0h2m6 0h2m6 0h2m10 0h4m20 0h2m6 0h2m12 0h2m2 0h2m12 0h2m2 0h2m2 0h2m4 0h4m2 0h2m-266 3.81h2m18 0h2m16 0h2m14 0h2m6 0h2m8 0h2m6 0h2m2 0h2m16 0h2m6 0h2m6 0h6m18 0h10m2 0h2m2 0h2m16 0h2m10 0h2m6 0h4m10 0h4m2 0h6m16 0h2m2 0h2m12 0h4m6 0h4m-250 3.8h6m4 0h2m18 0h2m10 0h6m4 0h2m12 0h2m16 0h2m14 0h6m2 0h8m2 0h2m4 0h2m8 0h2m4 0h2m4 0h2m2 0h2m16 0h4m6 0h2m4 0h2m6 0h2m4 0h2m8 0h4m2 0h2m30 0h2m10 0h2m-258 3.8h2m26 0h4m2 0h2m14 0h2m34 0h2m28 0h2m2 0h2m52 0h2m2 0h2m2 0h2m8 0h4m2 0h2m6 0h2m4 0h2m6 0h6m4 0h2m4 0h6m8 0h2m4 0h2m-230 3.8h4m10 0h2m2 0h4m30 0h2m10 0h4m8 0h2m4 0h2m10 0h2m20 0h2m4 0h2m46 0h2m6 0h2m14 0h2m6 0h2m4 0h2m4 0h2m2 0h4m-268 3.81h2m4 0h4m6 0h2m14 0h2m4 0h2m14 0h2m6 0h4m2 0h2m2 0h2m18 0h4m8 0h4m12 0h2m6 0h6m10 0h2m16 0h2m2 0h2m6 0h4m12 0h2m58 0h2m2 0h2m2 0h2m2 0h2m6 0h2m-272 3.8h2m16 0h2m30 0h2m6 0h4m2 0h4m6 0h2m4 0h2m4 0h2m6 0h2m14 0h6m4 0h2m4 0h2m2 0h2m10 0h2m4 0h2m2 0h2m4 0h4m2 0h2m20 0h2m2 0h2m2 0h4m2 0h2m22 0h2m2 0h4m6 0h4m14 0h2m2 0h4m6 0h2m-256 3.8h2m12 0h2m2 0h2m6 0h2m4 0h2m20 0h2m2 0h2m6 0h4m6 0h2m2 0h2m10 0h2m24 0h2m2 0h4m10 0h2m2 0h2m4 0h2m2 0h4m6 0h4m2 0h2m2 0h2m6 0h4m8 0h2m8 0h2m2 0h2m2 0h2m4 0h2m2 0h2m2 0h2m6 0h2m6 0h4m2 0h4m-264 3.8h6m10 0h2m12 0h2m22 0h2m4 0h2m18 0h2m2 0h2m34 0h2m6 0h2m12 0h2m14 0h2m22 0h2m2 0h4m4 0h2m4 0h2m14 0h2m2 0h2m24 0h2m6 0h2m6 0h4m2 0h4m2 0h2m-242 3.8h2m2 0h2m18 0h4m16 0h2m4 0h2m14 0h2m12 0h2m28 0h2m2 0h2m12 0h2m4 0h2m2 0h2m4 0h2m8 0h2m10 0h2m4 0h2m2 0h2m2 0h2m14 0h6m6 0h2m10 0h2m6 0h2m2 0h2m6 0h2m-274 3.8h2m6 0h4m12 0h2m22 0h2m4 0h2m8 0h4m2 0h2m2 0h2m2 0h2m2 0h2m6 0h2m4 0h2m16 0h2m4 0h2m14 0h4m6 0h2m6 0h2m20 0h2m8 0h2m2 0h2m16 0h2m4 0h2m16 0h2m6 0h2m20 0h2m-238 3.81h6m6 0h2m18 0h2m10 0h2m22 0h2m6 0h2m2 0h2m12 0h2m6 0h2m2 0h2m4 0h4m2 0h2m2 0h2m2 0h2m2 0h2m18 0h2m16 0h2m10 0h2m6 0h2m4 0h2m2 0h2m12 0h2m12 0h2m2 0h2m-258 3.8h2m40 0h4m24 0h2m2 0h2m4 0h2m14 0h2m6 0h2m6 0h2m2 0h2m4 0h2m2 0h2m6 0h2m4 0h2m2 0h4m2 0h2m4 0h2m12 0h4m14 0h2m20 0h4m8 0h6m8 0h4m12 0h2m10 0h2m2 0h2m2 0h2m-242 3.8h4m4 0h2m10 0h2m20 0h2m2 0h2m16 0h2m4 0h4m4 0h4m12 0h2m4 0h2m6 0h6m2 0h2m2 0h2m2 0h2m2 0h2m8 0h2m12 0h2m8 0h2m12 0h2m4 0h2m2 0h2m6 0h2m4 0h2m10 0h2m4 0h2m6 0h2m-216 3.8h2m16 0h2m6 0h2m2 0h2m26 0h2m22 0h2m8 0h2m6 0h2m12 0h2m2 0h2m2 0h4m16 0h4m10 0h2m10 0h2m4 0h2m14 0h4m12 0h2m4 0h2m-234 3.81h2m26 0h4m4 0h2m6 0h2m4 0h2m4 0h2m12 0h2m8 0h4m8 0h2m2 0h2m14 0h2m2 0h2m2 0h2m8 0h4m12 0h2m2 0h2m4 0h6m6 0h2m6 0h2m4 0h2m4 0h2m4 0h2m16 0h2m2 0h6m16 0h6m-252 3.8h2m22 0h2m12 0h2m38 0h6m10 0h2m20 0h2m4 0h2m2 0h4m4 0h2m8 0h2m2 0h4m8 0h2m2 0h8m14 0h2m6 0h2m2 0h2m4 0h2m6 0h2m2 0h2m6 0h2m12 0h6m-266 3.8h2m18 0h4m10 0h6m12 0h4m12 0h4m2 0h2m4 0h2m2 0h2m14 0h4m4 0h2m4 0h2m6 0h2m8 0h2m22 0h2m14 0h4m32 0h2m36 0h2m2 0h4m14 0h2m4 0h2m-258 3.8h2m30 0h4m26 0h4m6 0h4m8 0h4m4 0h2m14 0h2m6 0h2m18 0h4m2 0h2m4 0h2m6 0h2m20 0h2m14 0h2m10 0h2m8 0h4m12 0h2m8 0h4m-244 3.8h2m18 0h2m28 0h2m8 0h2m20 0h2m16 0h2m6 0h2m4 0h2m20 0h2m6 0h2m28 0h2m12 0h2m22 0h2m38 0h2m4 0h2m-280 3.8h2m46 0h6m8 0h4m46 0h4m12 0h2m16 0h2m8 0h4m12 0h2m2 0h2m8 0h4m4 0h2m8 0h2m2 0h2m16 0h4m28 0h2m10 0h2m2 0h2m-264 3.81h2m32 0h2m6 0h2m8 0h2m2 0h2m10 0h2m28 0h4m10 0h2m32 0h2m14 0h2m2 0h4m8 0h2m14 0h2m2 0h2m2 0h2m4 0h2m22 0h2m6 0h2m2 0h2m2 0h2m6 0h2m2 0h2m-260 3.8h2m2 0h2m18 0h2m12 0h2m2 0h2m6 0h2m2 0h6m2 0h2m6 0h2m8 0h2m14 0h4m12 0h8m4 0h2m4 0h2m2 0h2m2 0h2m4 0h2m2 0h2m8 0h4m10 0h4m2 0h2m2 0h2m4 0h6m18 0h2m18 0h2m2 0h2m-234 3.8h2m8 0h4m42 0h2m2 0h4m26 0h2m14 0h2m30 0h6m6 0h2m4 0h4m22 0h2m4 0h2m4 0h2m2 0h4m14 0h2m10 0h8m8 0h2m8 0h4m-274 3.8h2m8 0h2m4 0h2m4 0h2m12 0h2m8 0h2m4 0h2m8 0h6m4 0h2m4 0h2m12 0h2m12 0h4m8 0h2m2 0h2m20 0h4m2 0h2m12 0h2m14 0h2m2 0h2m8 0h2m8 0h2m36 0h2m8 0h2m-238 3.81h2m2 0h2m30 0h2m8 0h2m2 0h4m2 0h2m4 0h4m14 0h2m20 0h2m2 0h2m18 0h4m8 0h2m14 0h4m2 0h4m8 0h2m10 0h2m8 0h2m22 0h2m4 0h2m10 0h2m2 0h2m8 0h2m-220 3.8h2m8 0h2m10 0h2m26 0h2m34 0h6m2 0h2m16 0h4m10 0h2m4 0h2m16 0h4m4 0h2m2 0h4m4 0h2m4 0h8m4 0h4m8 0h2m18 0h4m-252 7.6h2m10 0h2m14 0h2m4 0h2m40 0h2m2 0h4m4 0h4m14 0h2m4 0h2m16 0h2m4 0h4m2 0h2m6 0h6m4 0h2m14 0h6m4 0h4m4 0h2m16 0h2m2 0h2m4 0h6m-196 3.8h2m18 0h2m6 0h2m36 0h4m4 0h2m2 0h4m6 0h4m8 0h4m18 0h4m8 0h4m8 0h2m4 0h2m2 0h2m4 0h2m8 0h2m2 0h4m4 0h2m4 0h6m2 0h2m2 0h6m6 0h4m6 0h2m4 3.8h2m-264 3.81h4m6 0h4m4 0h4m4 0h2m8 0h4m16 0h2m2 0h2m12 0h2m4 0h2m10 0h2m10 0h2m18 0h4m2 0h2m34 0h2m2 0h2m2 0h2m2 0h2m4 0h2m2 0h2m2 0h2m18 0h2m2 0h2m2 0h4m6 0h2m6 0h2m8 0h2m-248 3.8h2m10 0h2m18 0h4m4 0h2m2 0h4m8 0h2m12 0h2m4 0h2m8 0h2m4 0h2m2 0h2m18 0h2m4 0h2m14 0h2m4 0h2m4 0h4m4 0h2m2 0h2m10 0h2m6 0h2m6 0h2m10 0h2m10 0h2m2 0h2m10 0h2m2 0h2m6 0h2m-234 3.8h2m8 0h2m6 0h4m4 0h4m16 0h2m32 0h2m18 0h2m16 0h2m4 0h4m2 0h6m2 0h4m6 0h2m12 0h4m2 0h2m2 0h4m2 0h2m10 0h2m16 0h2m12 0h8m8 0h2m-172 3.8h2m10 0h2m2 0h2m42 0h6m2 0h4m2 0h2m4 0h2m4 0h4m10 0h2m6 0h2m4 0h2m8 0h4m48 0h2m-274 3.8h2m30 0h2m18 0h2m6 0h4m10 0h4m2 0h2m4 0h2m28 0h2m14 0h2m18 0h2m2 0h2m6 0h2m10 0h6m2 0h4m2 0h4m4 0h4m10 0h2m4 0h2m2 0h2m2 0h4m2 0h2m10 0h2m2 0h6m-254 3.81h2m30 0h2m10 0h2m8 0h2m2 0h4m2 0h2m12 0h4m4 0h2m8 0h4m2 0h2m8 0h2m12 0h4m6 0h2m6 0h2m4 0h2m2 0h2m6 0h4m10 0h2m2 0h2m4 0h4m8 0h2m24 0h2m10 0h4m4 0h2m2 0h2m8 0h2m2 0h4m-266 3.8h2m2 0h4m10 0h2m4 0h4m26 0h6m12 0h2m12 0h2m4 0h4m4 0h2m6 0h2m4 0h4m4 0h4m10 0h2m12 0h4m22 0h2m22 0h2m12 0h2m52 0h2m-244 3.8h2m6 0h2m4 0h4m6 0h2m4 0h4m6 0h2m8 0h2m12 0h2m20 0h2m8 0h2m6 0h2m2 0h2m6 0h2m2 0h2m16 0h4m2 0h2m16 0h2m24 0h2m4 0h2m6 0h2m16 0h2m2 0h2m6 0h4m2 0h2m-250 3.8h4m6 0h2m66 0h2m6 0h2m12 0h2m12 0h2m24 0h2m4 0h2m8 0h2m4 0h4m4 0h4m20 0h2m6 0h4m4 0h2m12 0h2m2 0h2m8 0h2m4 0h2m4 0h2m-260 3.8h4m4 0h4m8 0h2m34 0h2m28 0h2m20 0h2m2 0h2m14 0h2m28 0h4m2 0h2m10 0h2m16 0h2m2 0h2m10 0h4m2 0h2m2 0h2m26 0h2m4 0h2m-220 3.81h2m2 0h4m18 0h2m32 0h2m14 0h2m12 0h2m24 0h2m60 0h4m6 0h2m2 0h2m10 0h2m4 0h2m6 0h4m2 0h2m2 0h2m-272 3.8h2m10 0h2m18 0h2m2 0h2m2 0h4m2 0h4m2 0h2m14 0h2m20 0h2m6 0h4m4 0h4m10 0h2m2 0h2m12 0h2m10 0h4m14 0h4m8 0h4m4 0h2m4 0h2m2 0h2m6 0h2m2 0h2m6 0h2m6 0h2m2 0h2m10 0h6m4 0h2m-260 3.8h2m18 0h2m4 0h6m6 0h2m18 0h2m6 0h10m2 0h2m2 0h2m8 0h4m4 0h2m10 0h2m4 0h2m12 0h4m2 0h4m4 0h2m8 0h2m10 0h2m20 0h2m4 0h4m2 0h2m6 0h2m20 0h2m16 0h2m6 0h4m-216 3.8h4m4 0h4m12 0h2m4 0h2m28 0h2m24 0h2m4 0h2m2 0h2m4 0h4m4 0h2m14 0h2m4 0h2m2 0h4m2 0h2m2 0h2m24 0h2m2 0h6m2 0h2m10 0h2m28 0h2m-276 3.81h2m46 0h4m12 0h4m6 0h2m20 0h2m2 0h2m6 0h2m6 0h2m4 0h2m2 0h2m6 0h2m14 0h2m2 0h6m2 0h4m2 0h4m2 0h2m12 0h8m4 0h2m18 0h2m10 0h2m10 0h2m14 0h6m-266 3.8h2m4 0h2m20 0h4m14 0h2m2 0h2m8 0h2m2 0h2m2 0h4m6 0h2m12 0h2m4 0h2m12 0h4m14 0h4m4 0h2m4 0h2m2 0h2m14 0h2m14 0h2m20 0h4m10 0h2m-198 3.8h2m18 0h2m4 0h6m20 0h2m6 0h2m10 0h2m6 0h2m2 0h2m2 0h2m6 0h6m4 0h4m2 0h2m12 0h2m16 0h2m2 0h2m10 0h2m2 0h2m4 0h2m10 0h2m6 0h2m2 0h2m2 0h2m20 0h2m4 0h2m4 0h8m-234 3.8h4m2 0h2m6 0h4m2 0h2m26 0h2m44 0h4m4 0h2m4 0h2m22 0h2m8 0h2m2 0h2m22 0h2m12 0h2m18 0h2m6 0h2m6 0h2m16 0h2m4 0h2m-254 3.8h2m26 0h8m2 0h4m4 0h4m6 0h2m6 0h2m10 0h2m4 0h2m16 0h2m18 0h2m2 0h2m14 0h2m4 0h2m10 0h2m2 0h2m14 0h2m4 0h2m4 0h6m16 0h2m10 0h4m4 0h6m14 0h6m-276 3.8h2m10 0h2m36 0h2m4 0h2m44 0h2m14 0h2m2 0h2m6 0h2m4 0h2m4 0h2m2 0h2m16 0h2m2 0h2m8 0h4m10 0h4m2 0h2m10 0h4m4 0h2m4 0h2m6 0h2m6 0h4m2 0h2m8 0h2m6 0h4m-260 3.81h2m8 0h2m2 0h2m2 0h4m16 0h4m4 0h2m2 0h2m6 0h2m20 0h2m8 0h4m2 0h6m12 0h6m14 0h2m28 0h2m8 0h4m6 0h2m12 0h2m2 0h2m8 0h2m6 0h4m6 0h2m6 0h2m2 0h2m18 0h4m-228 3.8h2m8 0h2m24 0h2m28 0h2m14 0h2m22 0h4m4 0h2m8 0h2m4 0h2m10 0h2m14 0h4m2 0h2m14 0h2m2 0h2m2 0h2m2 0h6m4 0h2m6 0h2m6 0h2m8 0h2m-256 3.8h2m10 0h2m6 0h4m20 0h4m34 0h2m12 0h2m8 0h2m10 0h2m6 0h2m2 0h2m4 0h2m2 0h2m2 0h2m2 0h2m22 0h4m2 0h4m2 0h2m12 0h2m4 0h12m4 0h2m14 0h2m8 0h2m2 0h2m2 0h2m-254 3.8h4m6 0h2m48 0h2m10 0h4m4 0h2m14 0h2m2 0h2m6 0h4m14 0h2m2 0h2m6 0h4m2 0h2m2 0h2m2 0h2m12 0h6m12 0h2m4 0h2m16 0h2m10 0h2m6 0h2m12 0h2m8 0h2m2 0h2m-236 3.81h6m12 0h4m36 0h2m12 0h2m4 0h2m2 0h2m32 0h2m4 0h2m2 0h2m4 0h2m6 0h4m4 0h6m4 0h6m2 0h2m2 0h4m14 0h2m4 0h2m10 0h2m2 0h4m20 0h2m-276 3.8h4m2 0h2m20 0h2m22 0h4m26 0h2m14 0h2m8 0h4m2 0h4m8 0h2m6 0h2m14 0h2m18 0h2m10 0h2m4 0h2m2 0h2m10 0h2m34 0h2m4 0h2m20 0h2m-264 3.8h2m12 0h2m18 0h2m2 0h4m6 0h2m4 0h2m2 0h2m16 0h2m8 0h6m4 0h2m8 0h4m2 0h4m6 0h4m10 0h2m24 0h4m4 0h2m10 0h2m4 0h2m4 0h2m6 0h2m2 0h4m4 0h2m2 0h2m2 0h4m2 0h2m10 0h4m4 0h2m4 0h2m2 0h2m-264 3.8h2m32 0h4m10 0h2m2 0h6m6 0h2m6 0h2m2 0h2m12 0h4m8 0h4m4 0h2m4 0h2m2 0h4m8 0h2m2 0h4m18 0h4m6 0h4m4 0h2m8 0h2m18 0h2m10 0h2m4 0h4m8 0h2m4 0h4m6 0h2m2 0h2m4 0h2m4 0h2m-276 3.8h2m18 0h2m2 0h2m8 0h2m2 0h2m2 0h4m10 0h2m14 0h2m38 0h2m30 0h2m2 0h2m4 0h2m4 0h6m32 0h2m8 0h2m6 0h2m2 0h2m28 0h2m8 0h2m6 0h4m-274 3.81h2m14 0h2m14 0h2m12 0h2m4 0h2m2 0h4m6 0h2m12 0h2m16 0h2m4 0h2m20 0h2m10 0h2m4 0h2m2 0h2m4 0h2m6 0h6m2 0h2m14 0h2m4 0h8m4 0h4m2 0h4m14 0h2m2 0h2m8 0h2m4 0h2m16 0h2m2 0h2m8 0h2m-266 3.8h2m6 0h2m6 0h4m30 0h4m50 0h2m20 0h2m14 0h2m10 0h2m14 0h2m6 0h2m24 0h2m12 0h4m10 0h4m4 0h2m2 0h6m10 0h2m-274 3.8h2m6 0h2m18 0h4m6 0h2m2 0h2m4 0h2m12 0h2m6 0h2m2 0h2m4 0h2m10 0h4m2 0h6m12 0h2m6 0h4m2 0h2m12 0h8m4 0h2m2 0h2m4 0h4m6 0h2m8 0h6m4 0h2m14 0h2m4 0h2m8 0h4m4 0h4m2 0h2m22 0h2m-244 3.8h2m2 0h2m8 0h8m22 0h2m10 0h2m18 0h2m2 0h2m16 0h4m8 0h2m4 0h4m8 0h4m10 0h2m2 0h2m2 0h4m2 0h2m22 0h2m2 0h4m2 0h2m12 0h6m2 0h4m2 0h2m8 0h6m14 0h2m-244 3.8h2m6 0h6m6 0h2m18 0h2m2 0h2m18 0h2m2 0h6m34 0h4m4 0h2m12 0h4m18 0h2m10 0h2m4 0h2m4 0h2m4 0h2m2 0h2m4 0h2m2 0h2m6 0h2m8 0h2m4 0h2m16 0h2m-266 3.81h2m16 0h2m2 0h2m20 0h2m6 0h2m4 0h2m38 0h2m6 0h2m16 0h2m4 0h4m2 0h2m4 0h2m2 0h2m6 0h4m6 0h2m14 0h4m4 0h2m8 0h2m14 0h2m2 0h4m10 0h2m12 0h6m4 0h2m-254 3.8h2m16 0h2m2 0h2m8 0h4m10 0h4m6 0h2m8 0h2m18 0h2m2 0h2m32 0h2m8 0h4m2 0h2m4 0h2m2 0h4m10 0h4m2 0h2m4 0h4m6 0h2m4 0h4m6 0h8m4 0h2m4 0h6m2 0h2m-222 3.8h2m14 0h2m6 0h2m2 0h2m2 0h8m12 0h2m4 0h2m4 0h2m6 0h2m10 0h2m20 0h2m10 0h2m20 0h2m30 0h2m14 0h2m4 0h2m12 0h2m2 0h4m4 0h2m10 0h2m4 0h2m2 0h4m-248 3.8h2m2 0h2m10 0h2m10 0h2m4 0h2m12 0h2m6 0h2m4 0h2m2 0h2m2 0h2m-86 3.8h2m8 0h2m8 0h2m20 0h2m4 0h2m18 0h2m2 0h2m4 0h2m2 0h2m2 0h2m14 0h2m10 0h4m2 0h2m4 0h4m8 0h2m12 0h2m26 0h2m4 0h2m12 0h2m4 0h2m2 0h4m10 0h2m2 0h2m6 0h4m2 0h2m14 0h2m4 0h4m2 0h2m-240 3.8h2m8 0h2m12 0h2m46 0h4m6 0h2m2 0h2m14 0h2m4 0h2m12 0h2m6 0h2m2 0h4m4 0h2m12 0h2m22 0h2m26 0h2m6 0h4m4 0h2m2 0h8m8 0h2m-270 3.81h2m18 0h2m16 0h4m10 0h2m6 0h4m54 0h2m6 0h2m4 0h2m22 0h2m4 0h2m4 0h2m10 0h4m2 0h4m4 0h2m2 0h2m4 0h2m2 0h4m30 0h2m-248 3.8h2m10 0h2m4 0h6m24 0h2m14 0h2m2 0h2m6 0h6m22 0h2m8 0h2m4 0h4m10 0h8m8 0h4m12 0h4m20 0h6m4 0h2m8 0h4m4 0h4m18 0h4m4 0h4m10 0h2m4 0h2m-274 3.8h4m4 0h2m12 0h2m6 0h4m4 0h2m22 0h2m2 0h2m2 0h6m4 0h2m14 0h4m42 0h2m2 0h2m6 0h2m12 0h8m4 0h2m10 0h2m8 0h2m4 0h2m14 0h2m16 0h2m4 0h2m4 0h4m8 0h2m4 0h2m-260 3.8h2m2 0h2m8 0h4m6 0h2m2 0h6m4 0h2m40 0h2m2 0h2m8 0h2m4 0h2m4 0h2m2 0h2m6 0h2m4 0h4m12 0h2m2 0h2m4 0h2m12 0h2m2 0h4m4 0h2m34 0h2m20 0h2m4 0h2m-258 3.81h2m30 0h2m12 0h2m16 0h8m2 0h2m10 0h2m22 0h4m10 0h2m20 0h2m6 0h2m2 0h2m18 0h2m24 0h2m6 0h2m32 0h2m10 0h2m2 0h2m8 0h2m-268 3.8h2m10 0h2m18 0h2m4 0h2m2 0h4m2 0h2m2 0h4m12 0h2m2 0h2m4 0h2m18 0h2m14 0h4m4 0h2m4 0h2m6 0h2m16 0h2m6 0h2m12 0h2m2 0h2m28 0h2m8 0h2m12 0h2m26 0h2m-252 3.8h2m14 0h2m6 0h2m10 0h4m6 0h2m4 0h2m8 0h2m22 0h2m20 0h2m8 0h2m4 0h2m4 0h6m4 0h4m8 0h4m16 0h2m2 0h2m2 0h4m8 0h2m6 0h2m12 0h2m20 0h2m2 0h6m4 0h2m-226 3.8h2m18 0h2m20 0h2m14 0h2m8 0h2m2 0h4m2 0h2m4 0h6m2 0h2m2 0h2m2 0h2m4 0h8m8 0h4m4 0h2m6 0h2m10 0h2m6 0h2m12 0h2m10 0h2m2 0h2m6 0h2m4 0h2m6 0h2m2 0h2m18 0h2m-246 3.8h2m22 0h2m4 0h2m50 0h2m16 0h2m8 0h2m14 0h4m6 0h2m14 0h4m34 0h2m2 0h2m12 0h2m2 0h2m10 0h2m2 0h2m14 0h2m-198 3.8h2m26 0h2m6 0h2m14 0h2m6 0h4m2 0h6m4 0h2m8 0h6m2 0h2m10 0h2m10 0h2m28 0h2m18 0h2m18 0h2m-234 3.81h2m4 0h2m4 0h2m12 0h2m50 0h2m22 0h2m8 0h2m24 0h4m22 0h4m10 0h2m18 0h4m2 0h4m10 0h2m2 0h2m12 0h2m2 0h2m-240 3.8h2m2 0h2m2 0h2m14 0h2m58 0h2m14 0h2m6 0h2m4 0h2m28 0h2m6 0h4m6 0h2m8 0h2m30 0h4m10 0h2m14 0h2m2 0h2m-268 3.8h2m2 0h2m4 0h2m4 0h2m12 0h2m28 0h2m8 0h2m16 0h6m4 0h2m14 0h2m2 0h4m14 0h2m6 0h2m2 0h2m2 0h2m2 0h2m2 0h2m4 0h4m10 0h2m18 0h2m6 0h2m8 0h2m6 0h4m2 0h2m6 0h2m2 0h2m4 0h2m8 0h2"/><path stroke="#0000ff" d="M107 55.86h2m2 0h2m4 0h4m6 0h4m12 0h2m2 0h4m20 0h6m2 0h2m10 0h2m4 0h2m4 0h4m4 0h2m10 0h2m10 0h2m50 0h2m10 0h2m16 0h2m20 0h2m28 0h2m8 0h4m-262 3.8h2m22 0h2m4 0h2m4 0h4m8 0h6m4 0h2m4 0h2m4 0h6m6 0h2m10 0h2m2 0h2m8 0h8m14 0h2m6 0h2m2 0h2m4 0h2m2 0h6m8 0h4m6 0h2m50 0h2m2 0h2m10 0h2m-224 3.8h4m14 0h2m30 0h2m8 0h2m18 0h2m6 0h6m24 0h8m12 0h2m34 0h2m30 0h4m16 0h2m12 0h2m-264 3.81h2m6 0h4m2 0h2m16 0h2m2 0h2m12 0h4m2 0h2m6 0h2m2 0h2m6 0h4m8 0h2m12 0h2m10 0h2m14 0h4m14 0h4m2 0h4m16 0h4m12 0h4m2 0h2m4 0h6m2 0h2m26 0h2m4 0h2m4 0h4m-226 3.8h6m6 0h2m2 0h2m4 0h2m24 0h4m4 0h2m14 0h2m2 0h2m2 0h2m46 0h6m4 0h2m6 0h2m8 0h4m2 0h2m20 0h2m2 0h4m16 0h4m14 0h2m-252 3.8h4m10 0h2m4 0h4m6 0h6m8 0h4m8 0h2m4 0h4m40 0h2m4 0h2m2 0h6m4 0h2m12 0h4m10 0h2m2 0h2m2 0h2m12 0h2m8 0h4m2 0h2m26 0h2m6 0h2m14 0h2m12 0h2m-270 3.8h2m4 0h2m2 0h2m4 0h2m16 0h2m8 0h2m6 0h2m2 0h2m6 0h2m50 0h2m8 0h2m16 0h2m10 0h2m4 0h2m100 0h2m-254 3.81h2m12 0h2m6 0h2m6 0h2m12 0h2m2 0h4m10 0h2m18 0h2m6 0h2m12 0h2m2 0h2m4 0h2m16 0h2m12 0h2m4 0h2m8 0h2m2 0h2m6 0h2m4 0h2m4 0h2m4 0h2m4 0h2m18 0h2m2 0h2m2 0h2m12 0h2m10 0h2m-268 3.8h2m16 0h2m26 0h2m10 0h2m2 0h2m14 0h2m46 0h2m2 0h2m4 0h8m6 0h2m10 0h2m4 0h4m2 0h2m12 0h2m4 0h2m8 0h2m42 0h2m2 0h2m4 0h4m-246 3.8h2m4 0h6m10 0h4m8 0h2m4 0h2m12 0h8m2 0h2m8 0h2m2 0h4m6 0h4m2 0h2m16 0h2m8 0h6m4 0h2m2 0h2m8 0h2m10 0h2m18 0h2m26 0h4m4 0h2m6 0h2m14 0h6m-248 3.8h2m12 0h2m4 0h2m2 0h2m22 0h4m2 0h2m6 0h2m4 0h2m8 0h2m14 0h2m8 0h4m4 0h4m6 0h2m14 0h2m2 0h2m4 0h2m2 0h2m2 0h2m12 0h2m16 0h6m8 0h2m4 0h2m6 0h2m10 0h2m6 0h2m12 0h2m-266 3.8h2m2 0h2m8 0h2m14 0h6m2 0h2m28 0h2m46 0h4m12 0h2m106 0h2m24 0h2m-268 3.8h4m4 0h2m4 0h4m2 0h6m6 0h2m2 0h2m2 0h2m10 0h4m4 0h2m2 0h2m6 0h2m2 0h2m14 0h2m32 0h2m8 0h2m4 0h2m24 0h2m4 0h2m20 0h2m66 0h2m-256 3.81h2m18 0h2m2 0h2m22 0h4m16 0h6m16 0h2m10 0h2m4 0h2m2 0h2m42 0h6m20 0h2m6 0h2m20 0h2m10 0h2m18 0h2m8 0h2m-264 3.8h2m14 0h2m2 0h4m2 0h2m10 0h2m2 0h2m10 0h4m32 0h2m8 0h6m8 0h2m2 0h2m14 0h2m10 0h2m16 0h2m6 0h2m14 0h2m-182 3.8h2m20 0h2m8 0h8m8 0h2m10 0h2m2 0h2m4 0h2m2 0h4m4 0h4m4 0h2m12 0h4m40 0h2m8 0h2m2 0h2m4 0h2m14 0h2m32 0h2m30 0h2m4 0h2m2 0h2m-262 3.8h4m6 0h2m6 0h2m4 0h6m4 0h2m12 0h2m10 0h2m10 0h2m10 0h2m4 0h2m8 0h4m12 0h4m16 0h2m20 0h2m12 0h2m2 0h2m2 0h2m4 0h2m4 0h2m22 0h2m6 0h2m4 0h2m2 0h2m2 0h4m10 0h2m-272 3.8h2m6 0h4m2 0h12m16 0h2m6 0h2m2 0h2m4 0h2m2 0h4m8 0h4m18 0h2m2 0h2m36 0h2m2 0h2m30 0h2m6 0h2m8 0h2m46 0h2m14 0h2m10 0h2m-260 3.81h2m4 0h2m22 0h4m6 0h4m12 0h4m2 0h4m14 0h2m18 0h2m2 0h4m10 0h2m6 0h2m2 0h2m2 0h4m14 0h2m10 0h6m10 0h2m2 0h2m36 0h6m8 0h2m6 0h2m48 7.6h2m4 0h4m-198 3.8h2m24 0h2m10 0h2m2 0h2m14 0h2m2 0h6m4 0h2m12 0h2m8 0h4m18 0h2m6 0h2m14 0h4m8 0h4m2 0h2m-258 3.81h2m2 0h8m16 0h2m8 0h2m2 0h2m20 0h2m40 0h2m56 0h2m26 0h2m8 0h2m6 0h2m14 0h2m-238 3.8h2m34 0h2m26 0h4m10 0h6m20 0h2m6 0h2m10 0h6m24 0h2m6 0h2m8 0h2m12 0h2m2 0h4m8 0h2m8 0h2m8 0h2m4 0h2m6 0h2m26 0h2m-258 3.8h2m24 0h2m4 0h2m2 0h2m20 0h2m14 0h2m-90 3.8h4m6 0h2m4 0h2m2 0h2m4 0h4m10 0h2m2 0h2m4 0h2m4 0h4m10 0h2m26 0h2m16 0h2m20 0h2m8 0h2m8 0h2m8 0h4m8 0h2m8 0h2m14 0h2m20 0h2m14 0h2m4 0h2m2 0h2m16 0h2m-232 3.8h4m18 0h2m36 0h2m4 0h2m10 0h2m2 0h2m8 0h2m10 0h2m2 0h4m6 0h2m2 0h4m28 0h4m8 0h2m14 0h2m10 0h4m16 0h2m2 0h2m-260 3.81h4m2 0h6m2 0h6m4 0h2m8 0h2m6 0h2m2 0h2m10 0h6m16 0h2m32 0h2m2 0h2m34 0h2m50 0h2m-202 3.8h2m10 0h2m6 0h2m8 0h2m16 0h4m6 0h2m4 0h2m6 0h2m18 0h2m4 0h2m8 0h2m2 0h2m28 0h2m2 0h4m6 0h2m6 0h2m22 0h2m6 0h2m26 0h2m6 0h6m2 0h2m4 0h4m-258 3.8h2m10 0h2m6 0h4m8 0h8m12 0h2m4 0h2m2 0h2m8 0h2m2 0h4m6 0h4m4 0h2m26 0h2m8 0h4m6 0h2m2 0h2m4 0h2m2 0h2m4 0h2m4 0h4m18 0h2m10 0h2m4 0h2m2 0h2m14 0h2m6 0h2m18 0h2m4 0h2m-264 3.8h2m20 0h2m18 0h4m4 0h2m6 0h2m4 0h6m12 0h2m8 0h2m4 0h2m2 0h4m2 0h6m6 0h2m6 0h2m6 0h6m2 0h2m16 0h2m2 0h6m6 0h2m8 0h2m22 0h2m24 0h2m24 0h2m-266 3.8h2m2 0h2m4 0h2m10 0h2m4 0h6m14 0h2m4 0h2m14 0h2m8 0h8m6 0h4m8 0h2m20 0h2m8 0h2m12 0h2m2 0h2m8 0h2m2 0h2m16 0h2m4 0h2m2 0h2m2 0h2m18 0h2m32 0h2m2 0h4m-248 3.8h2m34 0h2m2 0h4m4 0h2m8 0h2m8 0h4m6 0h2m14 0h2m10 0h2m2 0h2m6 0h4m8 0h4m54 0h2m38 0h2m20 0h2m2 0h2m-250 3.81h2m2 0h4m14 0h2m4 0h2m4 0h4m4 0h4m6 0h2m8 0h2m2 0h2m6 0h2m12 0h2m2 0h2m8 0h4m32 0h2m6 0h6m6 0h2m48 0h2m10 0h2m8 0h2m4 0h4m-246 3.8h2m20 0h2m6 0h2m8 0h4m6 0h4m4 0h6m8 0h2m18 0h2m4 0h2m50 0h2m4 0h2m4 0h2m28 0h2m8 0h2m10 0h2m4 0h2m24 0h2m2 0h2m-234 3.8h2m2 0h2m6 0h2m10 0h2m8 0h2m2 0h2m36 0h4m6 0h2m2 0h2m4 0h2m10 0h2m6 0h2m2 0h2m6 0h4m4 0h2m2 0h8m4 0h4m2 0h2m2 0h2m8 0h2m2 0h2m4 0h2m46 0h2m-248 3.8h2m8 0h4m4 0h2m8 0h2m6 0h2m4 0h2m2 0h2m14 0h4m12 0h2m4 0h2m12 0h2m16 0h8m2 0h4m10 0h6m20 0h4m8 0h2m30 0h2m6 0h2m14 0h2m6 0h2m-264 3.81h2m12 0h4m4 0h2m2 0h2m2 0h2m14 0h4m12 0h2m24 0h6m6 0h4m2 0h2m32 0h2m122 0h2m-258 3.8h2m10 0h2m18 0h2m2 0h2m6 0h2m34 0h2m16 0h2m2 0h2m8 0h4m2 0h2m12 0h6m2 0h2m4 0h2m14 0h4m4 0h2m88 0h2m-252 3.8h2m20 0h2m2 0h2m2 0h4m4 0h2m6 0h4m2 0h4m2 0h2m12 0h6m2 0h2m8 0h4m18 0h2m4 0h2m2 0h2m8 0h4m4 0h2m4 0h2m10 0h4m8 0h2m36 0h2m12 0h2m2 0h2m-224 3.8h2m20 0h4m2 0h2m8 0h4m2 0h2m12 0h4m2 0h2m26 0h2m4 0h2m20 0h2m4 0h8m2 0h4m6 0h2m8 0h4m32 0h4m8 0h2m4 0h2m28 0h4m10 0h2m-256 3.8h12m2 0h2m2 0h2m2 0h4m6 0h2m2 0h2m6 0h4m4 0h4m8 0h2m18 0h6m4 0h2m4 0h4m6 0h2m6 0h2m8 0h2m2 0h10m4 0h2m10 0h2m16 0h2m6 0h2m4 0h2m14 0h2m2 0h2m10 0h2m6 0h2m6 0h2m-234 3.8h2m2 0h4m8 0h4m2 0h2m4 0h2m8 0h4m28 0h2m4 0h4m8 0h4m10 0h6m2 0h2m8 0h4m14 0h4m18 0h2m14 0h2m12 0h2m6 0h2m22 0h2m4 0h4m18 0h2m-274 3.81h2m10 0h2m2 0h2m2 0h2m2 0h2m6 0h2m6 0h2m22 0h4m8 0h2m2 0h4m8 0h2m2 0h2m10 0h2m4 0h2m8 0h2m8 0h2m10 0h2m2 0h2m2 0h2m2 0h2m4 0h4m4 0h2m12 0h2m58 0h2m10 0h2m2 0h4m-252 3.8h4m8 0h2m4 0h4m4 0h2m10 0h4m6 0h2m8 0h2m2 0h4m2 0h2m18 0h2m28 0h2m4 0h2m22 0h2m4 0h2m12 0h4m6 0h4m2 0h4m2 0h2m2 0h2m18 0h2m16 0h2m-228 3.8h2m16 0h2m4 0h4m10 0h2m4 0h2m14 0h6m4 0h2m26 0h2m8 0h2m6 0h2m12 0h2m10 0h2m22 0h4m14 0h4m12 0h6m14 0h4m10 0h2m10 0h4m-228 3.8h2m20 0h2m28 0h2m22 0h4m6 0h2m2 0h2m4 0h2m6 0h2m2 0h2m22 0h4m24 0h2m10 0h2m16 0h2m6 0h2m2 0h2m2 0h2m4 0h2m-246 3.81h2m4 0h4m6 0h2m8 0h2m2 0h4m2 0h4m12 0h2m2 0h2m4 0h2m18 0h2m28 0h2m2 0h2m2 0h2m2 0h2m6 0h2m6 0h2m6 0h4m4 0h4m2 0h2m30 0h2m2 0h2m10 0h2m26 0h6m4 0h2m-262 3.8h4m12 0h2m14 0h2m6 0h2m2 0h2m2 0h8m6 0h2m10 0h4m8 0h2m14 0h2m6 0h2m2 0h2m80 0h2m8 0h2m18 0h2m16 0h4m2 0h2m2 0h2m6 0h4m-262 3.8h8m8 0h2m4 0h2m34 0h2m4 0h2m14 0h2m16 0h2m12 0h2m2 0h2m2 0h2m28 0h2m4 0h2m4 0h2m16 0h4m-186 3.8h2m8 0h2m8 0h2m2 0h2m8 0h4m16 0h2m12 0h2m12 0h2m4 0h2m4 0h2m10 0h4m6 0h2m4 0h4m4 0h2m2 0h4m2 0h2m2 0h2m24 0h2m2 0h2m6 0h2m4 0h2m8 0h4m24 0h2m24 0h2m12 0h2m-264 3.8h4m8 0h2m2 0h2m8 0h2m4 0h2m4 0h2m2 0h8m6 0h2m24 0h6m6 0h2m6 0h4m2 0h2m10 0h2m6 0h2m4 0h2m12 0h2m14 0h2m10 0h4m2 0h2m10 0h4m58 0h2m-246 3.8h2m6 0h4m2 0h2m22 0h2m20 0h2m2 0h2m10 0h4m14 0h2m12 0h2m8 0h6m2 0h4m2 0h2m6 0h6m2 0h2m6 0h6m6 0h2m14 0h2m24 0h2m18 0h2m8 0h2m-262 3.81h2m20 0h4m20 0h2m6 0h2m8 0h2m2 0h2m10 0h2m2 0h2m2 0h2m4 0h2m2 0h4m12 0h2m14 0h10m22 0h2m46 0h2m18 0h4m10 0h2m6 0h2m6 0h4m-264 3.8h2m2 0h2m4 0h2m6 0h2m6 0h2m4 0h4m6 0h8m8 0h2m16 0h2m18 0h4m4 0h4m10 0h2m18 0h4m2 0h2m2 0h2m26 0h2m82 0h4m-264 3.8h6m12 0h2m2 0h2m10 0h4m2 0h2m8 0h2m12 0h2m4 0h2m8 0h2m12 0h4m2 0h2m12 0h2m12 0h2m18 0h2m12 0h4m20 0h2m2 0h2m14 0h2m16 0h2m-222 3.8h2m12 0h4m4 0h2m6 0h2m2 0h2m8 0h4m6 0h2m8 0h4m30 0h2m8 0h2m12 0h2m4 0h2m6 0h4m4 0h2m4 0h4m8 0h2m4 0h2m2 0h2m18 0h2m26 0h4m40 0h2m-272 3.81h8m16 0h4m12 0h2m2 0h4m2 0h2m6 0h4m4 0h2m4 0h2m2 0h2m8 0h4m4 0h2m16 0h2m14 0h2m10 0h2m16 0h6m6 0h2m4 0h2m10 0h2m2 0h4m8 0h2m38 0h2m6 0h2m2 0h2m-240 3.8h2m8 0h2m18 0h2m2 0h4m6 0h2m20 0h2m6 0h4m8 0h4m2 0h4m8 0h12m8 0h2m4 0h2m10 0h2m16 0h2m44 0h2m16 0h2m-182 3.8h2m92 0h2m8 0h2m46 0h2m-216 3.8h2m18 0h2m2 0h2m16 0h2m10 0h2m6 0h2m4 0h2m12 0h2m2 0h2m34 0h4m12 0h6m4 0h2m6 0h2m8 0h2m10 0h4m4 0h2m2 0h2m26 0h2m32 0h2m-248 3.8h2m12 0h2m6 0h2m2 0h2m8 0h2m2 0h2m8 0h4m4 0h2m4 0h2m4 0h2m24 0h2m4 0h2m8 0h2m4 0h4m2 0h2m4 0h4m10 0h2m6 0h4m6 0h2m4 0h2m4 0h2m4 0h2m8 0h2m6 0h2m8 0h2m4 0h2m40 0h2m2 0h2m-266 7.61h2m6 0h2m2 0h4m2 0h2m22 0h4m2 0h2m2 0h2m8 0h2m8 0h2m4 0h2m12 0h2m2 0h4m8 0h4m10 0h2m2 0h4m24 0h2m14 0h2m4 0h2m2 0h2m2 0h2m66 0h2m12 0h2m-248 3.8h2m8 0h2m4 0h2m6 0h2m2 0h6m4 0h2m12 0h6m22 0h2m18 0h2m18 0h4m6 0h6m6 0h2m12 0h2m8 0h6m2 0h2m12 0h4m4 0h4m2 0h2m2 0h2m2 0h2m12 0h2m14 0h2m4 0h2m2 0h2m-272 3.8h2m26 0h2m4 0h8m6 0h2m4 0h2m10 0h4m10 0h2m2 0h2m10 0h4m16 0h2m4 0h4m8 0h4m6 0h2m6 0h4m32 0h6m8 0h2m4 0h2m2 0h2m10 0h2m16 0h2m4 0h2m12 0h2m-174 3.8h2m4 0h2m4 0h2m2 0h2m16 0h4m26 0h2m20 0h2m12 0h2m18 0h2m60 0h2m-278 3.8h2m8 0h2m14 0h2m6 0h2m6 0h2m8 0h4m16 0h10m4 0h2m12 0h2m4 0h2m18 0h4m4 0h4m14 0h2m8 0h2m16 0h2m20 0h2m18 0h2m4 0h2m2 0h2m10 0h4m6 0h2m14 0h2m4 0h2m-264 3.81h2m12 0h6m8 0h6m6 0h4m12 0h2m6 0h2m4 0h2m14 0h2m6 0h2m4 0h2m2 0h2m4 0h4m2 0h2m16 0h2m4 0h2m8 0h2m2 0h2m22 0h2m4 0h8m6 0h4m24 0h4m4 0h2m8 0h2m8 0h2m-264 3.8h2m2 0h2m8 0h4m4 0h4m50 0h2m22 0h2m6 0h2m2 0h4m12 0h2m6 0h2m30 0h2m28 0h4m40 0h2m-244 3.8h2m6 0h2m10 0h2m16 0h2m10 0h2m4 0h2m4 0h6m26 0h2m10 0h6m8 0h4m10 0h2m10 0h2m4 0h2m16 0h2m2 0h2m22 0h4m10 0h2m24 0h4m12 0h6m4 0h2m-242 3.8h2m10 0h2m8 0h2m4 0h2m2 0h2m2 0h2m2 0h2m32 0h2m30 0h2m12 0h2m2 0h4m4 0h2m8 0h2m2 0h2m12 0h2m6 0h10m6 0h2m14 0h2m8 0h2m2 0h4m6 0h4m6 0h2m6 0h2m-260 3.8h2m14 0h2m2 0h2m4 0h6m4 0h2m12 0h2m2 0h4m4 0h2m10 0h2m4 0h6m22 0h2m2 0h2m10 0h2m8 0h2m6 0h4m4 0h2m4 0h2m10 0h2m2 0h2m6 0h4m4 0h2m8 0h2m42 0h4m6 0h2m-244 3.81h2m4 0h4m12 0h2m2 0h2m8 0h2m20 0h2m10 0h2m4 0h2m4 0h6m8 0h2m8 0h2m2 0h4m6 0h2m2 0h2m4 0h4m2 0h2m4 0h2m4 0h2m6 0h2m22 0h2m4 0h2m14 0h2m26 0h2m2 0h2m4 0h2m8 0h2m-270 3.8h4m8 0h2m8 0h2m14 0h2m20 0h2m12 0h2m2 0h2m26 0h2m10 0h2m6 0h2m4 0h2m4 0h2m8 0h2m14 0h6m30 0h2m14 0h2m2 0h2m32 0h2m6 0h4m-266 3.8h4m10 0h4m2 0h2m10 0h2m10 0h2m2 0h2m4 0h2m2 0h6m38 0h2m4 0h2m18 0h2m4 0h2m26 0h2m4 0h2m4 0h2m92 0h2m-258 3.8h2m6 0h6m2 0h4m6 0h4m28 0h2m4 0h2m20 0h2m2 0h2m2 0h2m4 0h2m4 0h4m2 0h2m2 0h2m8 0h2m12 0h2m12 0h2m4 0h2m4 0h2m16 0h2m2 0h4m2 0h6m14 0h2m18 0h4m2 0h8m2 0h8m-272 3.81h2m38 0h4m10 0h4m16 0h2m8 0h2m30 0h4m24 0h4m22 0h2m8 0h2m12 0h2m6 0h4m14 0h2m6 0h2m2 0h2m10 0h2m8 0h2m12 0h2m-270 3.8h2m4 0h2m10 0h4m16 0h2m6 0h2m2 0h2m20 0h2m14 0h2m4 0h2m26 0h2m10 0h2m8 0h2m4 0h2m14 0h2m14 0h2m4 0h2m38 0h6m22 0h2m-254 3.8h2m2 0h2m6 0h2m10 0h2m10 0h2m14 0h4m12 0h4m16 0h4m12 0h2m10 0h2m38 0h2m28 0h2m2 0h2m28 0h2m14 0h2m-246 3.8h10m4 0h2m4 0h2m10 0h2m2 0h2m24 0h2m8 0h2m4 0h2m18 0h2m2 0h2m2 0h2m2 0h4m26 0h2m2 0h2m12 0h2m4 0h2m6 0h2m12 0h2m4 0h2m2 0h2m2 0h2m4 0h6m10 0h2m2 0h4m4 0h2m16 0h8m10 0h2m-264 3.8h10m14 0h2m2 0h2m18 0h2m6 0h2m4 0h2m14 0h2m12 0h2m10 0h2m8 0h2m2 0h4m12 0h2m12 0h2m4 0h4m8 0h4m6 0h2m2 0h4m16 0h2m12 0h2m4 0h2m18 0h2m8 0h2m-244 3.8h2m2 0h2m2 0h2m8 0h2m8 0h2m2 0h2m6 0h2m4 0h2m32 0h4m10 0h2m4 0h2m8 0h2m6 0h2m6 0h2m2 0h2m4 0h4m4 0h6m8 0h2m10 0h8m10 0h6m20 0h2m4 0h2m14 0h4m8 0h2m-252 3.81h2m6 0h2m2 0h2m4 0h2m4 0h2m14 0h2m14 0h2m8 0h2m32 0h2m4 0h2m18 0h2m-132 3.8h6m8 0h2m20 0h2m18 0h6m2 0h4m4 0h2m2 0h4m6 0h4m12 0h2m8 0h2m12 0h2m10 0h2m14 0h2m8 0h4m2 0h6m8 0h4m16 0h2m6 0h2m14 0h2m8 0h2m2 0h4m4 0h2m12 0h2m-274 3.8h2m4 0h2m4 0h2m8 0h2m4 0h4m6 0h2m8 0h2m4 0h2m12 0h2m4 0h4m2 0h4m2 0h2m24 0h2m8 0h4m2 0h4m4 0h2m2 0h2m16 0h2m10 0h2m10 0h2m18 0h2m2 0h2m12 0h2m30 0h2m-248 3.8h4m10 0h2m4 0h2m2 0h2m6 0h4m4 0h6m2 0h6m10 0h2m8 0h2m26 0h2m2 0h2m2 0h2m6 0h2m8 0h8m12 0h2m28 0h2m24 0h2m8 0h2m6 0h2m8 0h2m6 0h2m-242 3.81h2m12 0h2m12 0h2m4 0h2m18 0h2m10 0h2m6 0h2m26 0h2m20 0h2m4 0h6m2 0h4m6 0h4m6 0h2m8 0h2m4 0h2m26 0h2m16 0h4m22 0h2m4 0h2m6 0h2m4 0h2m-272 3.8h2m4 0h2m10 0h2m2 0h4m2 0h2m4 0h2m4 0h6m4 0h4m4 0h4m2 0h2m4 0h6m4 0h2m6 0h4m2 0h2m2 0h2m2 0h4m8 0h2m6 0h2m10 0h2m20 0h4m8 0h2m6 0h2m8 0h4m2 0h2m6 0h2m2 0h2m18 0h2m18 0h2m8 0h2m10 0h2m-258 3.8h2m2 0h2m4 0h2m2 0h4m2 0h6m4 0h2m10 0h2m6 0h2m2 0h2m4 0h2m18 0h2m8 0h2m4 0h2m2 0h2m16 0h2m4 0h2m4 0h2m4 0h2m14 0h2m16 0h2m16 0h2m12 0h2m40 0h2m16 0h2m-262 3.8h2m4 0h4m6 0h4m14 0h2m16 0h4m16 0h2m2 0h4m6 0h4m8 0h4m8 0h2m24 0h2m4 0h2m2 0h2m48 0h2m22 0h2m2 0h2m4 0h2m24 0h4m2 0h2m-262 3.8h2m4 0h2m16 0h2m10 0h2m10 0h4m2 0h2m6 0h2m12 0h2m8 0h2m4 0h4m8 0h2m6 0h2m2 0h6m2 0h4m12 0h4m8 0h2m2 0h4m4 0h2m20 0h2m26 0h2m14 0h2m8 0h4m-258 3.81h2m20 0h2m8 0h2m12 0h2m2 0h2m4 0h2m2 0h2m4 0h2m4 0h4m4 0h4m8 0h2m30 0h2m10 0h2m10 0h2m4 0h2m8 0h2m2 0h2m14 0h2m26 0h2m2 0h4m2 0h2m6 0h2m4 0h2m12 0h2m20 0h2m-270 3.8h2m42 0h4m6 0h2m20 0h2m18 0h2m12 0h2m20 0h2m4 0h2m2 0h2m4 0h2m6 0h4m4 0h2m8 0h2m4 0h6m4 0h4m4 0h2m2 0h2m4 0h2m8 0h2m2 0h4m10 0h2m8 0h2m2 0h2m6 0h2m2 0h2m8 0h2m-274 3.8h2m10 0h2m34 0h2m18 0h2m22 0h2m6 0h2m8 0h2m4 0h2m14 0h2m26 0h2m4 0h4m4 0h2m4 0h2m68 0h2m2 0h2m-230 3.8h4m12 0h2m4 0h4m8 0h4m2 0h2m10 0h2m8 0h4m12 0h2m4 0h2m10 0h2m2 0h2m4 0h2m8 0h2m14 0h2m4 0h2m16 0h2m2 0h4m2 0h2m8 0h2m40 0h2m-252 3.8h2m4 0h2m12 0h4m10 0h2m14 0h2m2 0h2m4 0h2m4 0h2m2 0h2m2 0h2m10 0h2m26 0h2m2 0h2m2 0h2m10 0h2m8 0h4m2 0h6m2 0h4m10 0h2m6 0h4m2 0h2m16 0h2m14 0h2m12 0h2m22 0h2m2 0h2m8 0h2m-272 3.81h2m18 0h2m8 0h4m18 0h4m4 0h2m2 0h6m2 0h2m16 0h2m2 0h6m4 0h2m2 0h2m8 0h2m2 0h4m6 0h2m32 0h2m2 0h4m2 0h4m8 0h2m80 0h2m-260 3.8h2m6 0h2m16 0h2m6 0h2m4 0h2m8 0h2m2 0h8m6 0h2m2 0h2m6 0h2m2 0h2m2 0h2m18 0h2m4 0h2m2 0h2m4 0h2m12 0h2m14 0h6m80 0h2m8 0h2m6 0h2m-268 3.8h2m2 0h2m2 0h4m18 0h4m18 0h2m2 0h2m2 0h2m18 0h4m2 0h2m12 0h2m2 0h2m2 0h2m14 0h2m10 0h2m26 0h2m36 0h2m32 0h2m26 0h2m-270 3.8h2m2 0h8m10 0h8m2 0h2m6 0h2m2 0h2m10 0h4m4 0h2m6 0h2m50 0h2m12 0h2m12 0h4m8 0h6m28 0h2m22 0h2m36 0h2m-258 3.8h2m10 0h2m16 0h2m2 0h2m10 0h2m2 0h4m4 0h6m12 0h2m18 0h2m6 0h2m12 0h2m6 0h2m10 0h2m4 0h2m38 0h2m6 0h2m20 0h2m10 0h4m10 0h2m26 0h2m-276 3.8h2m4 0h2m32 0h2m4 0h2m2 0h2m8 0h2m10 0h2m6 0h2m2 0h2m8 0h2m8 0h2m12 0h2m8 0h4m2 0h2m4 0h2m10 0h2m4 0h2m12 0h2m8 0h4m12 0h6m2 0h2m2 0h4m12 0h4m24 0h4m-258 3.81h2m18 0h4m4 0h2m6 0h4m12 0h2m12 0h2m18 0h2m4 0h2m16 0h4m4 0h2m10 0h4m4 0h4m6 0h4m4 0h4m40 0h2m28 0h2m18 0h2m4 0h2m-238 3.8h2m8 0h2m4 0h2m2 0h2m2 0h8m4 0h4m2 0h2m16 0h2m32 0h2m6 0h4m10 0h4m8 0h8m6 0h8m8 0h2m2 0h4m4 0h2m50 0h2m-244 3.8h2m12 0h2m6 0h2m6 0h2m4 0h2m14 0h4m10 0h2m2 0h2m6 0h2m6 0h2m8 0h2m6 0h4m2 0h2m2 0h2m6 0h2m18 0h2m14 0h2m8 0h2m20 0h2m4 0h2m44 0h2m-244 3.8h2m10 0h4m6 0h2m4 0h2m28 0h2m2 0h2m4 0h4m12 0h2m18 0h2m8 0h2m22 0h2m14 0h2m12 0h2m4 0h2m6 0h2m4 0h4m4 0h2m4 0h4m4 0h4m44 0h2m8 0h2m6 0h2m-274 3.81h2m12 0h2m4 0h4m2 0h2m20 0h2m18 0h2m2 0h2m12 0h2m4 0h4m8 0h2m4 0h2m48 0h2m10 0h2m22 0h2m26 0h4m-234 3.8h2m14 0h4m4 0h6m8 0h2m2 0h4m18 0h6m4 0h2m12 0h2m22 0h2m12 0h4m8 0h2m6 0h2m6 0h4m2 0h2m2 0h4m4 0h4m4 0h2m4 0h2m8 0h2m4 0h6m4 0h2m6 0h2m22 0h4m16 0h2m-258 3.8h4m26 0h4m10 0h2m36 0h2m2 0h2m18 0h2m32 0h2m8 0h2m20 0h2m12 0h2m26 0h2m2 0h4m36 0h2m-260 3.8h2m14 0h4m2 0h2m10 0h2m6 0h6m6 0h2m8 0h2m6 0h2m2 0h2m4 0h2m18 0h2m4 0h2m18 0h2m6 0h2m4 0h2m10 0h4m8 0h2m4 0h2m6 0h2m4 0h2m6 0h2m2 0h2m14 0h2m4 0h2m10 0h2m16 0h2m18 0h2m-266 3.8h2m4 0h2m2 0h4m16 0h2m12 0h2m18 0h2m2 0h2m4 0h2m18 0h2m10 0h2m4 0h4m12 0h2m4 0h4m6 0h2m16 0h2m2 0h4m14 0h2m4 0h2m2 0h10m14 0h2m4 0h2m26 0h4m2 0h2m-252 3.8h2m6 0h2m2 0h4m4 0h4m12 0h4m10 0h2m8 0h2m2 0h2m16 0h2m4 0h2m12 0h2m4 0h2m2 0h2m22 0h2m16 0h2m14 0h2m2 0h2m6 0h2m6 0h2m20 0h4m4 0h8m4 0h2m6 0h2m6 0h2m-252 3.81h2m14 0h2m12 0h2m8 0h2m6 0h2m12 0h2m4 0h2m12 0h2m12 0h2m6 0h2m18 0h2m22 0h4m10 0h2m2 0h4m6 0h2m22 0h2m6 0h2m6 0h2m4 0h2m10 0h2m8 0h4m-266 3.8h2m8 0h2m2 0h2m8 0h2m20 0h2m18 0h2m8 0h2m2 0h2m4 0h2m12 0h2m10 0h4m2 0h2m6 0h4m2 0h4m10 0h2m8 0h4m6 0h4m2 0h2m4 0h2m10 0h2m8 0h2m2 0h4m6 0h2m2 0h4m6 0h4m10 0h2m8 0h2m6 0h4m2 0h2m2 0h4m-268 3.8h2m2 0h2m2 0h2m2 0h2m12 0h2m12 0h2m10 0h2m2 0h4m4 0h2m8 0h2m6 0h2m18 0h2m2 0h2m20 0h2m8 0h2m8 0h2m14 0h2m16 0h4m8 0h2m40 0h2"/><path stroke="#000fff" d="M133 55.86h4m14 0h2m10 0h2m2 0h4m36 0h4m2 0h6m10 0h2m24 0h2m44 0h2m74 0h2m-272 3.8h2m4 0h4m2 0h2m2 0h2m2 0h4m4 0h2m4 0h4m2 0h4m2 0h2m10 0h4m14 0h2m20 0h4m4 0h2m2 0h2m38 0h2m8 0h2m30 0h2m4 0h4m64 0h2m-238 3.8h6m4 0h4m2 0h4m8 0h4m8 0h4m2 0h2m6 0h2m6 0h4m6 0h2m4 0h2m8 0h4m50 0h2m4 0h2m12 0h2m6 0h2m10 0h2m10 0h2m-218 3.81h2m6 0h2m2 0h2m4 0h2m2 0h6m6 0h4m2 0h2m4 0h4m4 0h2m22 0h2m6 0h2m4 0h2m6 0h2m14 0h2m4 0h2m6 0h2m2 0h2m16 0h2m20 0h2m8 0h2m66 0h4m-266 3.8h2m6 0h2m8 0h8m6 0h4m14 0h2m6 0h2m4 0h2m6 0h4m2 0h4m22 0h2m22 0h2m50 0h2m48 0h2m24 0h2m-254 3.8h4m4 0h2m4 0h2m4 0h4m2 0h4m10 0h2m12 0h2m8 0h6m12 0h4m6 0h4m12 0h2m4 0h2m2 0h4m40 0h2m16 0h2m8 0h2m26 0h2m-230 3.8h2m6 0h2m4 0h2m14 0h2m2 0h2m6 0h2m2 0h2m4 0h4m8 0h2m10 0h2m6 0h4m4 0h2m30 0h2m4 0h2m4 0h2m18 0h2m6 0h2m20 0h2m-152 3.81h2m2 0h2m2 0h2m6 0h2m6 0h4m22 0h4m2 0h4m10 0h2m18 0h4m4 0h2m12 0h2m14 0h2m6 0h2m44 0h2m10 0h2m4 0h4m12 0h2m8 0h2m18 0h2m-266 3.8h2m16 0h2m4 0h6m6 0h2m22 0h2m2 0h2m4 0h4m2 0h2m14 0h2m4 0h2m4 0h2m2 0h2m40 0h4m2 0h2m24 0h2m4 0h2m4 0h2m20 0h2m16 0h4m2 0h4m-236 3.8h4m2 0h2m12 0h2m18 0h2m38 0h2m4 0h4m6 0h2m4 0h2m6 0h2m48 0h2m2 0h2m8 0h2m10 0h2m48 0h2m-254 3.8h2m24 0h2m20 0h4m28 0h2m10 0h2m4 0h2m6 0h2m10 0h2m20 0h2m18 0h2m4 0h2m94 0h4m2 0h2m-282 3.8h4m18 0h2m6 0h2m6 0h2m76 0h4m8 0h2m14 0h2m56 0h2m-186 3.8h2m24 0h2m10 0h2m6 0h2m10 0h2m4 0h2m10 0h2m2 0h6m8 0h2m6 0h2m8 0h2m62 0h2m80 0h2m-264 3.81h2m18 0h2m16 0h2m22 0h2m2 0h2m2 0h2m2 0h4m6 0h2m6 0h8m2 0h6m66 0h2m48 0h2m-232 3.8h2m12 0h2m4 0h2m14 0h2m6 0h2m44 0h2m14 0h2m22 0h2m4 0h2m56 0h2m52 0h2m-246 3.8h6m2 0h4m6 0h2m4 0h2m14 0h4m8 0h2m10 0h2m32 0h4m54 0h2m20 0h2m22 0h2m62 0h2m2 0h2m2 0h2m-276 3.8h6m10 0h2m14 0h4m6 0h2m14 0h2m6 0h4m4 0h4m26 0h4m2 0h2m10 0h2m20 0h4m2 0h2m2 0h2m6 0h2m2 0h4m8 0h2m14 0h4m4 0h2m6 0h2m18 0h2m22 0h2m16 0h4m-280 3.8h6m24 0h2m4 0h2m4 0h2m6 0h2m30 0h2m8 0h2m4 0h2m14 0h4m2 0h2m4 0h2m66 0h2m26 0h2m4 0h2m-204 3.81h2m4 0h2m12 0h2m30 0h6m8 0h2m12 0h2m30 0h2m2 0h2m12 0h2m90 0h2m2 0h2m18 0h2m4 0h2m-24 3.8h2m20 0h2m8 0h2m12 3.8h2m2 0h4m-226 3.8h4m16 0h2m16 0h2m10 0h2m10 0h2m2 0h4m18 0h2m10 0h2m54 0h2m-236 3.81h4m22 0h2m4 0h2m2 0h2m10 0h2m14 0h4m4 0h2m2 0h2m18 0h2m38 0h2m50 0h2m32 0h2m42 0h4m-274 3.8h4m8 0h2m6 0h4m4 0h2m26 0h2m6 0h2m10 0h8m20 0h8m10 0h4m30 0h2m32 0h2m78 0h2m-272 3.8h6m12 0h2m30 0h2m6 0h2m2 0h2m2 0h2m4 0h2m12 0h4m160 0h4m6 0h2m-256 3.8h2m16 0h4m8 0h4m4 0h2m4 0h2m16 0h4m2 0h2m4 0h6m6 0h4m6 0h6m8 0h2m16 0h2m20 0h2m4 0h2m2 0h4m8 0h4m38 0h4m-220 3.8h2m14 0h2m2 0h2m16 0h2m12 0h4m8 0h6m2 0h6m18 0h2m4 0h4m2 0h2m6 0h2m10 0h4m4 0h2m2 0h2m12 0h4m2 0h2m20 0h2m2 0h2m52 0h2m8 0h2m8 0h2m6 0h4m-278 3.81h2m2 0h2m12 0h2m6 0h2m8 0h4m2 0h4m28 0h2m20 0h6m6 0h2m16 0h2m30 0h2m12 0h4m18 0h2m64 0h2m6 0h2m-248 3.8h2m4 0h2m8 0h2m8 0h2m2 0h4m10 0h4m4 0h2m4 0h2m8 0h2m10 0h2m4 0h2m8 0h2m10 0h2m4 0h4m2 0h2m4 0h2m2 0h2m58 0h2m2 0h2m16 0h2m14 0h2m12 0h4m10 0h2m-278 3.8h2m8 0h4m14 0h2m56 0h2m4 0h2m4 0h2m10 0h6m4 0h2m20 0h2m12 0h2m20 0h4m72 0h2m-256 3.8h2m4 0h4m6 0h2m10 0h4m6 0h2m40 0h2m8 0h4m2 0h2m10 0h2m10 0h2m22 0h2m10 0h2m20 0h2m2 0h2m54 0h2m6 0h2m-248 3.8h2m6 0h4m28 0h2m12 0h2m4 0h4m26 0h4m8 0h2m6 0h2m12 0h2m6 0h2m10 0h4m8 0h2m4 0h2m10 0h2m4 0h4m14 0h2m12 0h2m6 0h2m4 0h2m-226 3.8h2m2 0h10m8 0h2m2 0h4m6 0h2m12 0h2m8 0h2m16 0h4m6 0h2m6 0h2m10 0h2m6 0h2m58 0h2m8 0h2m24 0h2m8 0h2m24 0h2m18 0h2m-270 3.81h2m6 0h4m4 0h2m2 0h2m2 0h2m20 0h2m6 0h2m12 0h2m20 0h2m30 0h2m6 0h2m2 0h2m18 0h2m2 0h2m2 0h4m22 0h4m-168 3.8h4m4 0h2m2 0h2m4 0h2m6 0h2m30 0h2m22 0h2m2 0h4m20 0h2m2 0h2m8 0h2m4 0h4m12 0h2m-172 3.8h4m8 0h2m8 0h4m4 0h2m12 0h2m6 0h2m2 0h2m4 0h4m8 0h8m6 0h4m6 0h2m4 0h2m10 0h2m8 0h4m2 0h2m4 0h2m4 0h4m8 0h2m10 0h2m14 0h2m18 0h2m56 0h2m2 0h2m4 0h2m-270 3.8h4m2 0h4m6 0h8m6 0h2m2 0h4m16 0h2m14 0h2m2 0h2m4 0h2m4 0h2m6 0h2m4 0h6m8 0h2m2 0h2m32 0h2m8 0h4m4 0h6m50 0h2m-228 3.81h4m8 0h2m14 0h2m34 0h2m22 0h2m96 0h2m-192 3.8h2m10 0h2m8 0h2m6 0h2m2 0h2m8 0h4m8 0h4m30 0h2m6 0h4m56 0h2m34 0h2m32 0h2m-226 3.8h2m4 0h2m14 0h4m10 0h2m16 0h2m22 0h2m34 0h2m2 0h2m20 0h4m24 0h2m76 0h2m-244 3.8h2m6 0h2m4 0h2m6 0h2m2 0h2m10 0h2m2 0h2m2 0h2m10 0h2m4 0h2m2 0h2m16 0h4m6 0h8m14 0h4m2 0h6m32 0h4m6 0h2m4 0h2m18 0h2m2 0h2m38 0h6m-252 3.8h4m4 0h2m34 0h2m4 0h2m14 0h2m4 0h4m2 0h2m4 0h2m4 0h8m24 0h4m2 0h2m2 0h2m2 0h2m2 0h2m22 0h2m2 0h2m2 0h2m10 0h2m28 0h2m2 0h2m4 0h2m30 0h2m-254 3.8h4m4 0h4m2 0h2m32 0h2m18 0h2m10 0h2m2 0h2m4 0h2m22 0h2m2 0h2m6 0h2m2 0h2m36 0h4m12 0h2m2 0h2m52 0h4m6 0h2m12 0h2m-278 3.81h6m10 0h2m6 0h2m2 0h2m12 0h2m14 0h2m24 0h2m18 0h4m16 0h2m10 0h2m30 0h2m20 0h2m2 0h2m6 0h2m46 0h2m14 0h2m6 0h2m-274 3.8h4m2 0h2m2 0h4m2 0h2m4 0h2m4 0h2m2 0h2m8 0h2m10 0h2m4 0h2m34 0h2m6 0h2m4 0h6m2 0h2m2 0h4m2 0h2m2 0h4m4 0h2m4 0h2m8 0h2m4 0h4m2 0h2m20 0h2m18 0h2m24 0h2m6 0h2m14 0h2m2 0h4m-270 3.8h4m8 0h2m6 0h2m2 0h2m10 0h2m4 0h2m4 0h2m12 0h2m4 0h2m22 0h2m20 0h2m6 0h2m12 0h2m6 0h2m6 0h2m6 0h2m12 0h2m2 0h2m2 0h2m12 0h2m24 0h2m42 0h2m8 0h2m-272 3.8h2m10 0h2m4 0h2m14 0h2m10 0h4m18 0h2m6 0h2m2 0h4m6 0h4m2 0h2m6 0h2m10 0h2m12 0h2m2 0h2m4 0h2m10 0h2m2 0h2m2 0h2m2 0h2m6 0h2m10 0h2m18 0h6m16 0h4m8 0h2m6 0h2m4 0h2m4 0h2m2 0h2m2 0h6m-274 3.81h2m8 0h2m12 0h2m10 0h2m8 0h2m4 0h2m6 0h2m10 0h2m18 0h2m4 0h4m10 0h6m8 0h2m12 0h2m22 0h2m34 0h2m22 0h2m14 0h2m16 0h2m-252 3.8h6m14 0h2m4 0h2m10 0h2m10 0h2m4 0h2m6 0h2m4 0h2m4 0h2m2 0h6m22 0h2m2 0h2m2 0h2m10 0h2m12 0h2m4 0h4m4 0h2m-166 3.8h2m12 0h2m6 0h2m68 0h4m4 0h2m12 0h2m14 0h4m10 0h4m14 0h4m8 0h2m18 0h2m12 0h2m8 0h2m-214 3.8h2m2 0h2m4 0h2m6 0h2m8 0h2m4 0h2m8 0h4m10 0h2m6 0h4m4 0h2m10 0h4m8 0h2m10 0h2m26 0h2m8 0h2m8 0h6m18 0h2m26 0h2m20 0h4m6 0h2m22 0h2m-264 3.8h6m4 0h2m2 0h2m8 0h2m6 0h2m20 0h2m2 0h6m6 0h4m12 0h2m4 0h2m8 0h2m24 0h2m18 0h2m18 0h2m66 0h2m16 0h4m4 0h2m-276 3.8h2m8 0h4m4 0h2m2 0h2m12 0h4m14 0h4m8 0h8m2 0h2m4 0h2m16 0h2m2 0h4m26 0h4m12 0h2m42 0h4m10 0h2m32 0h2m4 0h2m12 0h2m10 0h2m-272 3.81h2m10 0h6m4 0h4m4 0h2m4 0h4m12 0h2m18 0h2m4 0h2m2 0h2m2 0h4m22 0h4m8 0h2m38 0h2m10 0h2m14 0h2m-200 3.8h2m2 0h2m4 0h2m10 0h2m38 0h2m24 0h4m12 0h2m28 0h4m52 0h2m6 0h2m60 0h2m-262 3.8h2m6 0h2m2 0h4m40 0h2m2 0h2m22 0h4m2 0h2m8 0h2m2 0h4m20 0h2m2 0h2m18 0h2m66 0h2m-222 3.8h2m6 0h2m20 0h2m10 0h2m34 0h2m4 0h2m12 0h2m6 0h2m4 0h2m46 0h2m10 0h2m2 0h2m2 0h2m10 0h2m6 0h2m-194 3.81h6m14 0h2m6 0h4m2 0h2m34 0h2m10 0h2m8 0h6m8 0h2m-116 3.8h2m2 0h2m6 0h6m2 0h2m8 0h4m6 0h4m12 0h2m12 0h2m2 0h6m6 0h2m2 0h2m16 0h2m36 0h2m8 0h4m10 0h6m18 0h2m8 0h2m38 0h2m-194 3.8h4m20 0h2m12 0h2m10 0h2m4 0h2m12 0h2m2 0h2m32 0h2m10 0h6m4 0h2m2 0h2m14 0h2m4 0h4m14 0h4m2 0h4m2 0h2m4 0h2m4 0h2m2 0h4m2 0h2m-256 3.8h2m4 0h2m18 0h2m2 0h2m14 0h2m4 0h4m18 0h2m6 0h2m4 0h2m4 0h2m4 0h4m10 0h2m8 0h4m10 0h4m20 0h2m50 0h2m42 0h2m-242 3.8h2m4 0h2m2 0h2m4 0h2m2 0h2m2 0h4m8 0h2m6 0h2m2 0h2m4 0h4m4 0h2m8 0h2m6 0h2m6 0h4m32 0h2m20 0h2m20 0h4m32 0h2m12 0h2m30 0h2m-144 3.8h2m8 0h2m4 0h2m6 0h2m6 0h2m12 0h2m6 0h2m4 0h2m8 0h2m20 0h2m6 0h4m30 0h2m-268 3.81h2m2 0h4m10 0h2m6 0h2m2 0h2m4 0h4m26 0h8m2 0h2m6 0h2m2 0h6m10 0h2m2 0h2m10 0h2m36 0h2m20 0h2m30 0h2m6 0h2m-226 3.8h4m6 0h2m4 0h2m12 0h2m6 0h2m4 0h4m18 0h2m2 0h2m4 0h2m10 0h6m6 0h4m8 0h2m14 0h2m2 0h2m2 0h2m14 0h2m16 0h2m12 0h2m48 0h2m18 0h2m18 0h2m4 0h2m-280 3.8h4m4 0h2m4 0h4m2 0h2m2 0h8m36 0h2m4 0h4m16 0h2m2 0h2m6 0h2m4 0h2m10 0h2m4 0h6m6 0h2m8 0h2m24 0h2m2 0h2m6 0h2m10 0h2m32 0h2m18 0h2m-166 3.8h2m2 0h4m2 0h2m18 0h4m6 0h2m48 0h2m48 0h4m22 0h2m2 0h2m4 0h2m8 0h2m-278 3.8h2m12 0h2m18 0h4m10 0h2m6 0h2m4 0h2m24 0h2m6 0h2m16 0h2m2 0h4m8 0h2m42 0h2m-176 3.81h4m6 0h2m2 0h4m2 0h2m10 0h6m8 0h4m12 0h2m14 0h4m6 0h4m2 0h4m2 0h2m8 0h2m2 0h2m4 0h2m22 0h2m8 0h2m8 0h2m14 0h2m32 0h2m56 0h2m-238 3.8h4m32 0h2m14 0h2m84 0h2m-170 3.8h2m6 0h4m2 0h4m28 0h2m22 0h4m6 0h2m2 0h2m8 0h2m2 0h6m6 0h2m4 0h2m18 0h2m84 0h2m-222 3.8h2m10 0h2m20 0h6m6 0h2m6 0h2m8 0h6m14 0h8m12 0h2m4 0h2m6 0h2m2 0h2m8 0h2m4 0h2m10 0h2m4 0h4m14 0h2m6 0h2m18 0h2m18 0h2m24 0h2m10 0h2m-270 3.8h2m4 0h2m2 0h2m14 0h2m18 0h2m4 0h2m6 0h2m20 0h2m14 0h2m4 0h2m2 0h4m2 0h6m32 0h2m88 0h6m28 0h2m-258 3.81h2m2 0h2m8 0h4m2 0h4m20 0h2m6 0h2m4 0h2m2 0h4m8 0h2m4 0h2m14 0h2m6 0h2m4 0h2m4 0h4m16 0h2m4 0h2m4 0h2m2 0h4m4 0h2m2 0h2m6 0h4m4 0h2m2 0h4m18 0h2m16 0h2m12 0h2m-250 3.8h4m4 0h2m2 0h4m4 0h2m6 0h2m18 0h2m2 0h2m2 0h10m10 0h2m6 0h4m4 0h4m6 0h2m6 0h2m18 0h2m24 0h2m-158 3.8h6m30 0h2m38 0h2m80 0h2m26 0h2m56 0h2m-256 3.8h4m8 0h4m2 0h4m16 0h2m6 0h2m12 0h2m4 0h2m20 0h4m4 0h2m20 0h2m16 0h4m6 0h2m6 0h2m16 0h2m4 0h2m66 0h2m-244 3.81h4m2 0h2m10 0h2m8 0h2m4 0h4m12 0h2m12 0h2m8 0h2m2 0h2m14 0h2m4 0h2m6 0h4m12 0h6m2 0h4m36 0h4m18 0h2m58 0h2m16 0h2m-280 3.8h2m10 0h4m2 0h4m14 0h2m2 0h2m2 0h2m18 0h2m12 0h2m4 0h4m8 0h2m8 0h2m72 0h2m30 0h2m-214 3.8h2m12 0h2m10 0h2m6 0h2m2 0h2m24 0h2m6 0h2m6 0h2m2 0h6m10 0h2m6 0h2m4 0h4m8 0h2m8 0h2m2 0h2m42 0h2m16 0h2m42 0h2m4 0h2m24 0h2m-282 3.8h2m16 0h4m6 0h2m10 0h4m16 0h4m20 0h4m2 0h4m8 0h2m6 0h2m16 0h2m10 0h2m2 0h2m2 0h8m12 0h4m8 0h2m-176 3.8h2m12 0h2m6 0h2m2 0h2m6 0h4m4 0h2m14 0h2m8 0h2m6 0h2m90 0h2m-170 3.8h2m2 0h4m6 0h2m18 0h6m6 0h2m8 0h2m8 0h2m4 0h4m4 0h2m20 0h2m4 0h4m6 0h2m12 0h2m2 0h2m16 0h2m8 0h2m2 0h2m10 0h2m12 0h2m2 0h2m28 0h2m12 0h2m22 0h2m-260 3.81h2m50 0h2m56 0h2m18 0h2m32 0h2m76 0h2m22 0h2m-272 3.8h2m22 0h2m6 0h4m6 0h2m4 0h2m48 0h2m2 0h2m4 0h4m4 0h2m8 0h2m2 0h4m2 0h4m4 0h2m4 0h2m6 0h4m28 0h4m62 0h2m4 0h4m4 0h2m-276 3.8h2m12 0h2m6 0h2m10 0h2m6 0h4m2 0h4m16 0h4m20 0h4m2 0h2m16 0h4m10 0h4m16 0h4m52 0h2m28 0h2m28 0h2m2 0h2m-272 3.8h2m8 0h4m26 0h2m8 0h2m6 0h2m6 0h2m6 0h2m12 0h2m6 0h2m4 0h2m4 0h2m34 0h2m2 0h2m20 0h2m26 0h2m42 0h2m-228 3.81h2m4 0h2m2 0h2m2 0h2m4 0h2m2 0h2m8 0h4m12 0h4m2 0h4m6 0h2m6 0h2m2 0h6m4 0h2m4 0h2m4 0h2m12 0h2m18 0h2m4 0h2m12 0h2m38 0h2m16 0h2m14 0h2m20 0h2m-258 3.8h8m2 0h2m4 0h2m4 0h2m2 0h4m26 0h4m12 0h2m2 0h2m8 0h2m22 0h2m48 0h2m2 0h2m6 0h2m-186 3.8h2m4 0h4m4 0h2m4 0h2m8 0h2m14 0h2m4 0h2m6 0h2m14 0h2m2 0h4m10 0h2m14 0h2m2 0h2m22 0h2m16 0h4m30 0h2m4 0h2m78 0h2m-280 3.8h2m2 0h4m12 0h2m6 0h4m4 0h4m8 0h2m28 0h2m6 0h2m8 0h2m8 0h2m14 0h2m8 0h2m14 0h4m2 0h2m4 0h2m24 0h2m10 0h2m48 0h2m-250 3.8h2m2 0h2m2 0h2m10 0h2m6 0h4m16 0h2m6 0h2m6 0h2m4 0h2m14 0h2m18 0h4m6 0h2m8 0h2m12 0h2m38 0h2m64 0h2m6 0h2m-254 3.81h2m6 0h2m2 0h2m6 0h4m2 0h2m8 0h2m8 0h2m12 0h2m4 0h2m4 0h2m12 0h2m2 0h2m8 0h2m2 0h2m2 0h4m100 0h2m36 0h2m-252 3.8h2m2 0h2m6 0h2m4 0h2m4 0h2m2 0h2m4 0h2m4 0h2m2 0h2m2 0h2m6 0h4m14 0h2m4 0h2m12 0h4m2 0h2m8 0h2m20 0h2m26 0h2m4 0h2m6 0h6m2 0h2m18 0h2m2 0h2m2 0h2m8 0h2m18 0h2m2 0h2m4 0h2m18 0h4m-274 3.8h2m2 0h2m8 0h2m22 0h2m2 0h2m2 0h2m4 0h2m4 0h2m8 0h4m20 0h2m14 0h2m4 0h2m8 0h2m8 0h4m26 0h2m10 0h2m26 0h2m6 0h2m36 0h2m2 0h2m18 0h2m-276 3.8h2m4 0h8m6 0h4m4 0h2m6 0h4m10 0h4m4 0h8m8 0h2m2 0h2m8 0h2m2 0h2m4 0h4m2 0h2m6 0h4m4 0h2m24 0h2m10 0h2m24 0h2m4 0h2m8 0h2m12 0h2m10 0h2m34 0h2m4 0h2m-260 3.8h2m2 0h4m6 0h2m4 0h2m6 0h2m6 0h4m8 0h2m18 0h2m2 0h2m14 0h2m6 0h4m2 0h2m18 0h2m34 0h2m6 0h4m8 0h2m2 0h2m50 0h2m10 0h2m18 0h2m-278 3.81h2m2 0h2m2 0h4m4 0h2m8 0h2m16 0h2m32 0h2m4 0h4m6 0h2m12 0h2m22 0h2m6 0h2m12 0h4m18 0h2m4 0h2m12 0h2m14 0h2m4 0h2m-222 3.8h6m8 0h2m4 0h4m12 0h2m2 0h2m6 0h2m2 0h2m8 0h2m22 0h2m20 0h4m2 0h2m52 0h2m14 0h4m4 0h2m28 0h2m4 0h4m20 0h2m16 0h2m-270 3.8h6m2 0h2m12 0h4m4 0h2m36 0h2m4 0h2m8 0h2m10 0h4m20 0h2m50 0h2m22 0h2m70 0h2m6 0h2m-264 3.8h2m2 0h2m34 0h4m10 0h4m12 0h2m2 0h6m18 0h2m4 0h2m14 0h2m2 0h2m2 0h2m18 0h2m10 0h2m2 0h4m8 0h2m24 0h2m10 0h2m4 0h2m2 0h4m10 0h2m6 0h2m2 0h2m10 0h2m-280 3.8h4m6 0h4m2 0h4m2 0h2m6 0h8m2 0h2m2 0h2m10 0h2m20 0h2m16 0h2m12 0h2m4 0h2m18 0h2m6 0h2m8 0h2m2 0h2m2 0h2m2 0h4m2 0h8m18 0h2m2 0h2m22 0h2m38 0h2m-264 3.8h2m6 0h2m8 0h2m2 0h2m6 0h2m2 0h4m2 0h2m18 0h2m6 0h2m24 0h2m2 0h2m12 0h2m8 0h2m12 0h2m8 0h4m2 0h2m10 0h2m6 0h2m4 0h2m10 0h2m2 0h2m6 0h2m24 0h2m-234 3.81h2m2 0h2m4 0h2m2 0h2m2 0h4m4 0h4m30 0h2m14 0h6m16 0h4m4 0h2m2 0h2m6 0h2m8 0h2m-130 3.8h6m18 0h2m10 0h2m2 0h2m2 0h2m16 0h2m14 0h2m12 0h4m6 0h2m6 0h2m60 0h2m4 0h2m-170 3.8h2m2 0h2m2 0h2m8 0h4m8 0h2m2 0h2m2 0h2m12 0h2m46 0h2m8 0h4m2 0h2m10 0h4m6 0h2m32 0h2m26 0h2m-208 3.8h8m32 0h2m8 0h2m6 0h2m14 0h4m8 0h4m6 0h2m8 0h2m2 0h2m4 0h2m4 0h2m4 0h2m4 0h2m12 0h4m4 0h2m-146 3.81h2m44 0h4m30 0h2m8 0h2m46 0h2m8 0h2m-164 3.8h4m6 0h2m8 0h2m6 0h2m2 0h2m18 0h2m2 0h2m18 0h2m10 0h2m2 0h8m8 0h2m2 0h2m36 0h2m14 0h2m6 0h4m18 0h2m22 0h2m2 0h2m30 0h2m-242 3.8h2m6 0h2m4 0h4m12 0h4m8 0h6m2 0h4m6 0h2m6 0h2m8 0h4m2 0h2m6 0h4m4 0h10m4 0h2m8 0h2m12 0h2m6 0h6m6 0h4m2 0h4m12 0h2m40 0h2m2 0h2m6 0h2m-252 3.8h2m6 0h4m2 0h2m10 0h2m2 0h4m4 0h2m14 0h2m10 0h4m4 0h4m6 0h2m18 0h4m2 0h2m12 0h2m12 0h2m6 0h2m10 0h2m4 0h2m4 0h2m8 0h2m8 0h2m6 0h2m6 0h2m10 0h2m-206 3.8h2m4 0h2m10 0h2m14 0h4m20 0h4m16 0h2m2 0h2m12 0h2m10 0h2m8 0h2m2 0h2m4 0h2m6 0h2m14 0h2m4 0h2m2 0h2m6 0h2m4 0h2m6 0h4m2 0h2m12 0h2m18 0h4m2 0h2m8 0h4m10 0h2m2 0h2m2 0h2m-262 3.8h2m8 0h2m10 0h2m8 0h4m8 0h4m2 0h2m4 0h4m2 0h2m6 0h2m32 0h2m2 0h2m10 0h2m26 0h4m36 0h6m52 0h2m8 0h2m-268 3.81h2m2 0h2m28 0h4m10 0h4m2 0h2m36 0h2m4 0h2m4 0h4m6 0h2m16 0h2m8 0h2m4 0h2m2 0h2m12 0h2m8 0h2m6 0h2m54 0h4m-238 3.8h2m8 0h2m8 0h6m12 0h2m4 0h2m2 0h4m6 0h2m2 0h2m8 0h2m16 0h6m14 0h2m6 0h2m4 0h2m4 0h2m20 0h2m10 0h2m2 0h4m2 0h2m8 0h2m18 0h2m6 0h4m4 0h2m16 0h2m24 0h2m-278 3.8h2m24 0h2m8 0h2m14 0h2m6 0h2m16 0h2m16 0h2m16 0h2m8 0h2m10 0h4m18 0h2m22 0h4m10 0h2m52 0h2m24 0h2"/><path stroke="#0024ff" d="M103 55.86h2m36 0h2m52 0h2m2 0h4m180 0h2m-276 3.8h2m22 0h2m20 0h2m40 0h2m2 0h2m40 0h2m10 0h2m34 0h2m36 0h2m46 0h2m4 0h2m-250 3.8h2m26 0h2m54 0h2m66 0h2m88 0h2m-272 3.81h4m6 0h4m46 0h2m10 0h2m2 0h2m6 0h2m2 0h2m22 0h4m6 0h2m48 0h2m38 0h2m8 0h2m2 0h2m42 0h2m4 0h2m-282 3.8h2m6 0h2m28 0h2m50 0h4m10 0h2m4 0h2m12 0h2m6 0h4m60 0h2m12 0h2m62 0h2m4 0h2m-282 3.8h2m14 0h2m12 0h2m6 0h4m38 0h2m24 0h4m6 0h2m26 0h2m128 0h2m-276 3.8h2m4 0h4m6 0h2m2 0h2m2 0h2m14 0h2m10 0h2m24 0h2m6 0h2m12 0h2m8 0h8m4 0h2m42 0h2m20 0h2m6 0h2m82 0h2m-278 3.81h8m6 0h4m22 0h2m18 0h2m4 0h2m4 0h2m2 0h2m18 0h2m2 0h2m2 0h2m6 0h2m2 0h2m18 0h2m6 0h2m2 0h2m20 0h2m20 0h2m26 0h2m36 0h2m10 0h2m-272 3.8h2m14 0h2m22 0h4m12 0h2m2 0h4m2 0h2m4 0h2m24 0h4m2 0h4m12 0h6m8 0h2m4 0h2m8 0h2m12 0h2m4 0h2m6 0h2m4 0h2m46 0h2m36 0h2m4 0h2m-278 3.8h2m2 0h2m6 0h2m12 0h2m6 0h4m2 0h4m20 0h2m18 0h2m36 0h2m98 0h2m46 0h2m4 0h2m-278 3.8h2m8 0h6m4 0h4m6 0h2m2 0h2m12 0h2m6 0h2m20 0h2m4 0h2m6 0h2m4 0h2m4 0h4m28 0h2m26 0h2m12 0h2m2 0h2m8 0h2m82 0h2m-284 3.8h4m4 0h2m26 0h2m60 0h4m180 0h2m-286 3.8h2m6 0h2m46 0h2m10 0h2m8 0h2m22 0h2m12 0h2m2 0h2m78 0h2m76 0h2m4 0h2m-278 3.81h4m12 0h4m6 0h2m18 0h2m2 0h2m2 0h2m20 0h2m14 0h2m98 0h2m60 0h2m14 0h2m-272 3.8h2m2 0h2m4 0h2m4 0h2m2 0h2m70 0h4m-88 3.8h2m18 0h4m2 0h2m2 0h2m16 0h6m10 0h2m32 0h2m4 0h2m46 0h2m16 0h2m-184 3.8h6m10 0h2m6 0h4m2 0h2m24 0h4m10 0h2m4 0h2m6 0h2m8 0h4m2 0h2m42 0h4m22 0h2m6 0h4m14 0h2m52 0h2m-226 3.8h2m68 0h2m12 0h2m12 0h2m62 0h2m36 0h2m46 0h2m4 0h2m-278 3.81h4m12 0h4m2 0h2m2 0h4m6 0h2m4 0h2m2 0h2m44 0h8m6 0h2m40 0h2m6 0h2m64 0h2m14 3.8h2m10 0h2m6 0h2m2 0h2m18 0h4m2 0h4m2 3.8h6m-252 3.8h2m2 0h2m6 0h2m6 0h2m4 0h2m12 0h2m8 0h2m4 0h10m2 0h4m2 0h2m4 0h4m2 0h6m52 0h2m14 0h2m12 0h2m42 0h2m8 0h2m-270 3.81h2m2 0h2m2 0h2m2 0h2m12 0h2m2 0h2m2 0h4m4 0h2m20 0h4m12 0h10m4 0h2m4 0h2m38 0h2m82 0h2m28 0h2m-254 3.8h2m2 0h6m16 0h4m56 0h2m2 0h2m90 0h2m82 0h2m-268 3.8h6m4 0h2m2 0h4m8 0h2m6 0h2m10 0h2m18 0h2m2 0h4m18 0h2m130 0h2m6 0h2m14 0h2m8 0h2m2 0h4m-278 3.8h4m8 0h2m4 0h2m14 0h2m32 0h2m28 0h2m12 0h2m34 0h2m-146 3.8h2m2 0h2m4 0h2m2 0h4m12 0h2m2 0h4m8 0h2m10 0h2m20 0h4m10 0h4m56 0h2m20 0h2m2 0h2m8 0h2m28 0h2m52 0h2m-270 3.81h2m38 0h2m42 0h2m182 0h2m-274 3.8h4m4 0h8m4 0h2m8 0h2m8 0h2m10 0h2m18 0h2m12 0h2m4 0h4m4 0h2m4 0h4m6 0h2m8 0h4m14 0h2m30 0h2m30 0h2m8 0h2m42 0h2m-272 3.8h4m4 0h4m8 0h2m8 0h2m24 0h2m28 0h4m190 0h2m-268 3.8h4m12 0h2m194 0h2m-206 3.8h2m8 0h2m18 0h2m50 0h2m4 0h2m14 0h2m68 0h2m82 0h2m-278 3.8h2m14 0h2m22 0h4m60 0h4m84 0h2m82 0h2m-280 3.81h2m6 0h4m6 0h2m18 0h2m40 0h2m8 0h2m6 0h2m6 0h6m20 0h2m144 0h2m-242 3.8h2m8 0h2m8 0h2m38 0h2m2 0h2m4 0h2m84 0h2m82 0h2m-280 3.8h4m4 0h2m2 0h4m6 0h2m12 0h2m6 0h2m42 0h2m8 0h4m2 0h2m20 0h2m10 0h2m54 0h2m82 0h2m-274 3.8h2m4 0h2m4 0h4m14 0h2m10 0h2m42 0h2m2 0h2m16 0h2m8 0h2m32 0h2m118 0h2m-174 3.81h2m116 0h2m52 0h2m-278 3.8h2m8 0h2m4 0h2m10 0h4m6 0h2m26 0h2m8 0h2m18 0h2m6 0h2m6 0h2m66 0h2m10 0h2m82 0h2m-280 3.8h4m2 0h2m8 0h2m6 0h4m10 0h2m16 0h2m2 0h2m2 0h2m38 0h2m58 0h2m4 0h2m106 0h2m-280 3.8h2m2 0h2m24 0h2m8 0h4m12 0h2m14 0h4m2 0h2m16 0h2m4 0h6m20 0h2m12 0h2m2 0h2m24 0h2m50 0h2m-220 3.8h2m4 0h2m4 0h2m2 0h2m12 0h2m12 0h2m2 0h2m6 0h2m8 0h2m40 0h4m10 0h2m66 0h2m68 0h2m-264 3.8h4m2 0h2m12 0h2m2 0h2m8 0h2m2 0h4m8 0h2m38 0h2m20 0h2m54 0h2m18 0h2m30 0h2m-210 3.81h2m24 0h2m20 0h2m2 0h4m8 0h2m10 0h6m26 0h2m4 0h2m146 0h2m-262 3.8h2m8 0h4m12 0h2m8 0h4m16 0h2m16 0h2m4 0h2m2 0h2m2 0h2m54 0h2m20 0h2m70 0h2m8 0h2m-248 3.8h2m2 0h2m4 0h4m28 0h2m10 0h4m2 0h2m14 0h2m4 0h2m2 0h4m12 0h2m18 0h2m28 0h4m6 0h2m20 0h2m40 0h2m16 0h2m4 0h2m-260 3.8h6m10 0h4m2 0h2m12 0h2m8 0h2m4 0h4m12 0h2m26 0h2m6 0h8m8 0h2m16 0h2m48 0h4m-200 3.81h2m2 0h2m4 0h2m4 0h4m12 0h2m2 0h2m22 0h2m6 0h2m16 0h2m16 0h4m4 0h2m8 0h2m44 0h2m-172 3.8h4m14 0h2m6 0h2m2 0h2m2 0h2m6 0h2m26 0h2m12 0h2m12 0h2m10 0h4m8 0h2m2 0h2m8 0h2m40 0h4m16 0h2m76 0h2m-276 3.8h2m12 0h2m10 0h2m48 0h2m10 0h2m2 0h2m180 0h2m-274 3.8h2m2 0h2m2 0h2m10 0h2m20 0h2m14 0h2m2 0h2m2 0h4m32 0h2m16 0h2m6 0h2m10 0h2m6 0h2m24 0h2m74 0h2m-258 3.8h6m2 0h4m34 0h2m32 0h2m10 0h2m16 0h2m30 0h2m4 0h2m42 0h2m-188 3.8h2m4 0h2m4 0h2m8 0h4m4 0h2m6 0h2m2 0h2m18 0h2m8 0h2m12 0h6m8 0h2m12 0h10m-132 3.81h2m2 0h2m12 0h4m16 0h2m2 0h2m20 0h4m12 0h2m26 0h2m50 0h2m14 0h2m26 0h2m74 0h2m-270 3.8h2m22 0h2m58 0h2m106 0h2m20 0h2m-226 3.8h2m10 0h2m10 0h2m2 0h2m6 0h2m78 0h2m66 0h2m26 0h2m-208 3.8h2m20 0h2m4 0h4m40 0h2m8 0h2m2 0h4m128 0h2m44 0h2m-272 3.81h2m48 0h2m34 0h2m6 0h2m12 0h2m34 0h2m4 0h2m72 0h2m52 0h2m-272 3.8h2m14 0h2m2 0h2m6 0h6m6 0h2m32 0h2m14 0h2m70 0h2m26 0h2m8 0h2m60 0h2m6 0h2m-242 3.8h10m14 0h2m2 0h2m2 0h2m8 0h6m2 0h2m4 0h2m2 0h2m2 0h2m8 0h2m4 0h6m2 0h2m2 0h6m2 0h2m4 0h2m2 0h2m2 0h4m8 0h2m4 0h4m8 0h2m6 0h2m4 0h2m4 0h2m2 0h4m8 0h2m2 0h2m8 0h2m8 0h2m10 0h2m4 0h2m4 0h2m2 0h8m-274 3.8h4m2 0h4m2 0h2m2 0h2m8 0h4m34 0h2m10 0h2m4 0h2m4 0h2m158 0h2m24 0h2m-274 3.8h2m2 0h2m8 0h2m18 0h2m22 0h2m28 0h4m2 0h4m4 0h2m38 0h2m24 0h2m8 0h2m28 0h2m26 0h2m30 0h2m-192 3.8h2m12 0h2m4 0h2m8 0h2m6 0h4m4 0h4m6 0h4m2 0h2m4 0h4m6 0h2m4 0h4m6 0h2m2 0h4m6 0h2m2 0h2m4 0h2m2 0h2m2 0h2m4 0h2m10 0h6m4 0h6m2 0h2m2 0h2m4 0h2m6 0h4m6 0h4m-282 3.81h2m56 0h2m8 0h2m22 0h2m34 0h2m98 0h2m-224 3.8h4m6 0h2m2 0h8m6 0h2m60 0h2m12 0h4m22 0h2m90 0h2m-214 3.8h2m36 0h2m44 0h2m10 0h4m10 0h2m26 0h2m20 0h2m6 0h2m-110 3.8h2m40 0h2m10 0h2m10 0h2m2 0h2m16 0h2m78 0h2m6 0h6m2 0h2m2 0h2m2 0h4m4 0h4m-264 3.8h4m2 0h2m2 0h2m4 0h4m24 0h2m4 0h2m28 0h2m2 0h2m10 0h8m2 0h2m58 0h2m-184 3.81h2m2 0h2m136 0h2m2 0h2m36 0h2m-178 3.8h2m86 0h2m130 0h2m-226 3.8h4m6 0h4m24 0h4m44 0h2m16 0h2m172 0h2m-278 3.8h2m8 0h4m2 0h4m10 0h2m2 0h2m2 0h2m12 0h2m12 0h2m2 0h2m6 0h6m6 0h2m12 0h4m6 0h4m2 0h2m2 0h2m6 0h2m4 0h2m10 0h2m4 0h2m14 0h2m6 0h2m76 0h2m-262 3.8h2m2 0h2m14 0h2m10 0h2m4 0h2m12 0h2m6 0h2m18 0h4m2 0h2m2 0h4m14 0h2m4 0h2m16 0h2m90 0h2m-222 3.81h2m2 0h6m4 0h4m6 0h2m10 0h2m12 0h2m34 0h4m20 0h2m34 0h4m8 0h2m20 0h2m6 0h2m28 0h4m22 0h2m-254 3.8h2m4 0h4m10 0h2m12 0h2m6 0h2m8 0h2m4 0h2m30 0h2m2 0h2m2 0h2m44 0h2m4 0h2m18 0h2m8 0h2m-176 3.8h2m6 0h2m6 0h2m60 0h2m8 0h4m12 0h2m84 0h2m-188 3.8h2m30 0h2m2 0h2m10 0h4m14 0h2m4 0h2m8 0h2m6 0h2m4 0h2m2 0h2m6 0h2m6 0h2m26 0h2m46 0h4m76 0h2m-270 3.81h2m2 0h2m2 0h6m6 0h2m6 0h2m8 0h2m32 0h2m2 0h2m2 0h4m2 0h2m10 0h2m16 0h2m142 0h2m-266 3.8h2m20 0h2m60 0h2m76 0h2m54 0h2m-228 3.8h2m2 0h2m2 0h2m2 0h2m4 0h4m10 0h2m8 0h2m12 0h2m34 0h4m38 0h2m-124 3.8h2m58 0h2m14 0h2m4 0h2m20 0h4m10 0h2m148 0h2m-252 3.8h2m12 0h4m32 0h2m8 0h2m4 0h2m10 0h2m2 0h2m166 0h2m-274 3.8h2m14 0h2m2 0h2m2 0h4m2 0h2m16 0h2m8 0h6m2 0h4m4 0h4m2 0h2m12 0h4m4 0h2m40 0h2m4 0h2m20 0h2m98 0h2m-278 3.81h2m2 0h2m10 0h2m42 0h2m-60 3.8h2m10 0h2m2 0h2m4 0h2m2 0h2m2 0h2m16 0h4m6 0h2m14 0h2m12 0h4m4 0h4m4 0h2m106 0h2m-220 3.8h4m4 0h2m2 0h4m2 0h2m2 0h2m14 0h2m24 0h4m14 0h2m8 0h4m6 0h2m4 0h2m2 0h2m52 0h2m112 0h2m-250 3.8h2m4 0h4m6 0h2m18 0h4m16 0h2m96 0h2m92 0h2m-274 3.81h2m6 0h4m40 0h4m18 0h2m2 0h2m2 0h2m6 0h2m14 0h2m2 0h2m4 0h2m60 0h2m92 0h2m-184 3.8h2m108 0h2m70 0h2m-276 3.8h4m12 0h2m58 0h2m24 0h2m34 0h2m-142 3.8h2m8 0h4m2 0h2m20 0h2m12 0h2m34 0h2m82 0h2m82 0h2m-262 3.8h2m10 0h8m14 0h4m14 0h2m8 0h2m34 0h2m30 0h2m72 0h2m-170 3.81h2m54 0h2m16 0h2m4 0h2m26 0h2m114 0h2m18 0h2m-262 3.8h2m8 0h2m10 0h2m2 0h2m2 0h2m6 0h2m14 0h4m10 0h2m6 0h2m10 0h2m2 0h2m4 0h2m10 0h6m4 0h2m14 0h2m4 0h2m12 0h2m52 0h2m10 0h2m-220 3.8h2m2 0h6m4 0h2m50 0h4m94 0h2m14 0h2m74 0h2m-280 3.8h2m4 0h2m8 0h2m2 0h2m4 0h2m60 0h2m2 0h2m104 0h2m6 0h2m-204 3.8h2m4 0h2m8 0h2m6 0h4m26 0h2m4 0h2m24 0h2m4 0h2m14 0h2m24 0h2m28 0h2m6 0h2m14 0h2m-178 3.81h2m20 0h2m4 0h2m2 0h4m40 0h2m130 0h2m50 0h4m-262 3.8h2m12 0h2m4 0h2m14 0h2m8 0h2m14 0h4m10 0h2m20 0h2m8 0h2m32 0h2m-164 3.8h4m12 0h2m12 0h4m30 0h2m32 0h2m8 0h2m70 0h2m22 0h2m-204 3.8h4m2 0h2m30 0h4m68 0h4m4 0h2m2 0h4m6 0h4m2 0h2m12 0h4m4 0h4m2 0h2m10 0h2m4 0h2m4 0h2m4 0h2m8 0h8m2 0h2m4 0h2m10 0h2m8 0h4m8 0h2m2 0h2m6 0h6m-278 3.8h2m28 0h4m18 0h4m46 0h2m8 0h2m4 0h2m22 0h4m18 0h2m2 0h2m14 0h2m70 0h8m-250 3.8h2m2 0h2m8 0h2m4 0h2m24 0h2m10 0h2m8 0h4m2 0h2m26 0h4m12 0h2m116 0h2m-200 3.81h2m12 0h2m26 0h2m4 0h2m18 0h2m106 0h2m-220 3.8h2m4 0h2m2 0h4m14 0h2m18 0h2m50 0h4m4 0h2m106 0h2m54 0h2m-282 3.8h4m44 0h2m16 0h2m24 0h4m2 0h2m20 0h2m-120 3.8h2m18 0h2m4 0h4m64 0h2m12 0h2m68 0h4m-182 3.81h2m16 0h2m60 0h2m12 0h2m12 0h2m-100 3.8h2m24 0h2m32 0h4m34 0h2m6 0h2m30 0h2m-148 3.8h2m10 0h2m8 0h2m2 0h4m22 0h2m24 0h2m2 0h2m6 0h2m22 0h2m52 0h2m60 0h2m24 0h2m18 0h2m-274 3.8h2m14 0h2m12 0h2m26 0h2m26 0h2m2 0h2m4 0h2m94 0h2m24 0h2m28 0h2m-254 3.8h2m14 0h2m10 0h2m6 0h2m2 0h2m4 0h2m4 0h4m4 0h2m4 0h4m24 0h2m2 0h8m2 0h2m4 0h2m4 0h2m32 0h2m2 0h2m8 0h2m-164 3.8h2m6 0h2m2 0h2m4 0h2m26 0h4m20 0h2m10 0h2m10 0h2m2 0h2m8 0h2m62 0h2m2 0h4m6 0h2m2 0h4m22 0h2m32 0h4m-248 3.81h2m6 0h6m6 0h2m2 0h2m8 0h2m4 0h2m8 0h2m8 0h2m8 0h4m2 0h2m18 0h2m8 0h2m4 0h8m4 0h2m6 0h2m10 0h2m12 0h2m24 0h2m22 0h2m28 0h2m16 0h4m4 0h2m-272 3.8h2m10 0h4m16 0h2m2 0h2m10 0h2m2 0h2m12 0h2m4 0h2m2 0h2m14 0h2m8 0h2m10 0h2m16 0h2m10 0h2m10 0h2m34 0h2m68 0h2m-262 3.8h2m10 0h2m2 0h2m4 0h2m2 0h2m2 0h2m26 0h2m8 0h2m28 0h2m94 0h2"/><path stroke="#0038ff" d="M105 55.86h2m140 0h2m80 0h2m-220 3.8h2m128 0h2m-114 3.8h2m64 0h4m12 0h4m76 0h2m36 0h2m-218 3.81h2m32 0h2m138 0h2m-172 3.8h4m46 0h2m22 0h2m18 0h2m10 0h2m66 0h2m36 0h2m-232 3.8h2m6 0h2m56 0h2m28 0h6m14 0h2m46 0h2m-160 3.8h2m10 0h2m54 0h2m12 0h2m4 0h2m4 0h4m2 0h6m118 0h2m46 0h2m-264 3.81h2m8 0h2m6 0h2m2 0h2m6 0h2m6 0h2m8 0h2m4 0h2m28 0h2m28 0h2m54 0h2m4 0h2m2 0h2m86 0h2m-276 3.8h2m4 0h2m8 0h2m10 0h2m12 0h2m2 0h4m6 0h2m16 0h4m16 0h2m14 0h2m-122 3.8h2m4 0h2m10 0h2m4 0h2m30 0h2m16 0h2m22 0h2m2 0h2m130 0h2m-222 3.8h4m6 0h2m8 0h2m30 0h2m28 0h4m10 0h2m80 0h2m-188 3.8h2m170 0h2m12 0h2m36 0h2m-230 3.8h2m6 0h2m6 0h2m210 0h2m-226 3.81h2m8 0h6m22 0h2m2 0h2m6 0h2m2 0h2m2 0h2m14 0h2m20 0h2m24 0h2m100 0h2m-230 3.8h2m12 0h2m174 0h2m-196 3.8h2m8 0h2m74 0h2m78 0h2m64 0h2m-216 3.8h4m44 0h4m28 0h2m20 0h2m66 0h2m42 0h2m46 0h2m-246 3.8h2m150 0h2m-170 3.81h4m6 0h2m162 0h2m-40 3.8h6m2 0h2m14 0h2m4 0h4m28 0h2m2 0h2m2 0h2m2 0h2m2 0h12m6 0h2m2 0h4m6 0h2m6 0h2m4 0h6m2 0h4m10 3.8h2m-252 3.8h4m4 0h2m2 0h2m2 0h2m2 0h6m2 0h4m4 0h4m4 0h2m2 0h8m2 0h2m22 0h4m56 0h2m-194 3.81h4m2 0h2m10 0h2m66 0h2m24 0h4m4 0h2m2 0h6m22 0h2m4 0h2m6 0h4m2 0h2m6 0h4m4 0h2m40 0h2m52 0h2m-252 3.8h2m12 0h2m24 0h2m16 0h2m12 0h2m2 0h2m80 0h2m-190 3.8h2m10 0h2m12 0h2m4 0h4m6 0h4m4 0h2m6 0h2m4 0h2m2 0h2m12 0h2m4 0h2m14 0h2m56 0h2m10 0h4m32 0h2m14 0h2m12 0h2m2 0h2m2 0h6m4 0h4m4 0h6m2 0h2m4 0h2m-286 3.8h2m2 0h2m10 0h2m38 0h2m48 0h2m84 0h2m90 0h2m-280 3.8h2m8 0h2m12 0h2m2 0h2m6 0h2m54 0h4m30 0h2m54 0h2m64 0h2m-160 3.81h4m-100 3.8h2m8 0h2m4 0h2m38 0h2m44 0h2m82 0h2m4 0h2m6 0h2m-186 3.8h2m32 0h2m96 0h2m80 0h2m-228 3.8h2m100 0h2m84 0h2m6 0h2m82 0h2m-282 3.8h4m94 0h2m110 0h2m14 0h2m-226 3.8h2m4 0h2m16 0h2m2 0h2m56 0h2m6 0h2m14 0h2m112 0h2m-220 3.81h2m8 0h2m16 0h4m142 0h4m-128 3.8h2m32 0h2m2 0h2m84 0h2m-172 3.8h2m6 0h4m8 0h4m12 0h2m16 0h2m20 0h2m2 0h2m14 0h2m78 0h2m-190 3.8h2m4 0h2m40 0h2m8 0h2m22 0h2m16 0h2m86 0h2m6 0h2m-198 3.81h2m186 0h2m-174 3.8h2m12 0h2m6 0h2m20 0h2m36 0h2m126 0h2m-232 3.8h6m4 0h2m6 0h2m14 0h2m76 0h4m14 0h2m60 0h2m-186 3.8h2m14 0h2m12 0h2m10 0h2m112 0h2m36 0h2m14 0h2m-216 3.8h2m14 0h2m4 0h2m72 0h4m24 0h2m22 0h2m76 0h2m-186 3.8h2m144 0h2m14 0h2m-212 3.81h2m6 0h2m10 0h4m6 0h2m30 0h2m6 0h2m160 0h2m-224 3.8h2m34 0h2m32 0h2m20 0h4m76 0h2m6 0h2m14 0h2m4 0h2m18 0h2m52 0h2m-268 3.8h2m2 0h2m18 0h2m40 0h2m20 0h2m-102 3.8h6m18 0h2m14 0h2m2 0h4m14 0h2m10 0h2m10 0h2m4 0h6m16 0h2m108 0h2m6 0h2m34 0h2m-278 3.81h4m16 0h2m14 0h2m8 0h2m158 0h2m78 0h2m-282 3.8h4m10 0h2m28 0h2m44 0h2m114 0h2m28 0h2m-238 3.8h2m78 0h2m14 0h2m90 0h2m16 0h2m-204 3.8h4m44 0h2m148 0h2m22 0h2m-228 3.8h2m6 0h2m24 0h2m56 0h2m108 0h2m22 0h2m-226 3.8h2m8 0h2m8 0h2m24 0h2m42 0h2m132 0h2m-220 3.81h2m34 0h2m56 0h2m6 0h2m94 0h2m-212 3.8h2m4 0h2m16 0h2m258 0h2m-262 3.8h2m40 0h2m28 0h2m4 0h2m88 0h2m4 0h2m30 0h2m-214 3.8h2m76 0h2m186 0h2m-284 3.81h4m16 0h4m-22 3.8h4m8 0h2m14 0h2m18 0h2m36 0h2m4 0h2m-68 3.8h2m22 0h6m4 0h2m8 0h2m2 0h6m8 0h2m2 0h2m4 0h2m2 0h2m4 0h4m6 0h2m18 0h2m2 0h4m2 0h2m8 0h2m2 0h2m4 0h2m12 0h2m10 0h4m2 0h2m14 0h2m4 0h2m2 0h2m12 0h2m8 0h4m12 0h2m2 0h2m8 0h2m-282 3.8h2m18 0h2m74 0h2m128 0h2m-224 3.8h4m10 0h2m10 0h2m8 0h2m14 0h2m30 0h2m2 0h2m26 0h2m104 0h2m52 0h2m-238 3.8h2m4 0h2m8 0h4m6 0h2m2 0h2m16 0h4m2 0h2m8 0h2m8 0h4m8 0h2m8 0h2m16 0h2m2 0h2m2 0h2m6 0h6m12 0h2m6 0h2m8 0h2m2 0h4m4 0h6m18 0h2m2 0h2m2 0h2m4 0h6m8 0h2m4 0h2m-282 3.81h4m8 0h2m2 0h2m92 0h2m76 0h2m90 0h2m-284 3.8h2m8 0h2m42 0h2m42 0h2m56 0h2m-156 3.8h2m10 0h2m6 0h2m28 0h2m42 0h2m130 0h2m52 0h2m-238 3.8h2m18 0h2m14 0h6m4 0h2m18 0h2m26 0h2m2 0h2m2 0h2m2 0h6m84 0h2m2 0h4m8 0h2m14 0h2m-274 3.8h2m4 0h2m14 0h2m10 0h2m244 0h2m-282 3.81h2m6 0h2m18 0h2m104 0h2m6 0h2m32 0h2m48 0h2m-232 3.8h6m2 0h2m274 0h2m-276 3.8h2m24 0h4m2 0h2m52 0h2m132 0h2m-226 3.8h2m2 0h6m6 0h2m20 0h2m180 0h2m-212 3.8h2m-12 3.81h2m4 0h2m8 0h2m30 0h2m22 0h2m14 0h2m188 0h2m-282 3.8h4m90 0h2m130 0h2m52 0h2m-284 3.8h4m278 0h2m-272 3.8h2m22 0h2m36 0h2m12 0h4m6 0h2m4 0h2m30 0h2m-118 3.81h2m8 0h4m2 0h2m20 0h2m6 0h2m8 0h2m20 0h2m-104 3.8h2m2 0h2m28 0h2m80 0h2m168 0h2m-276 3.8h2m22 0h2m26 0h2m166 0h2m-214 3.8h2m66 0h2m12 0h4m126 0h2m-220 3.8h2m66 0h2m14 0h4m20 0h4m-118 3.8h2m26 0h2m58 0h2m2 0h2m128 0h2m-226 3.81h4m2 0h2m10 0h2m-12 3.8h2m10 0h2m2 0h2m14 0h2m4 0h2m26 0h2m6 0h2m8 0h2m34 0h2m32 0h2m62 0h2m-198 3.8h2m64 0h2m16 0h2m138 0h2m-248 3.8h2m10 0h4m42 0h2m14 0h2m26 0h2m-108 3.81h2m8 0h2m4 0h2m12 0h2m4 0h2m28 0h2m20 0h2m14 0h2m94 0h2m-204 3.8h2m-6 3.8h2m2 0h2m70 0h2m16 0h2m-94 3.8h2m10 0h2m-20 3.8h2m2 0h2m8 0h2m54 0h2m24 0h6m84 0h2m-184 3.81h2m102 0h2m14 0h2m84 0h2m20 0h2m-162 3.8h2m12 0h4m6 0h4m8 0h2m6 0h2m12 0h4m10 0h2m10 0h2m52 0h2m20 0h2m52 0h2m-270 3.8h2m6 0h2m4 0h2m12 0h2m22 0h4m14 0h2m4 0h2m24 0h4m68 0h2m38 0h2m-230 3.8h2m20 0h2m122 0h2m134 0h2m-280 3.8h2m4 0h2m6 0h2m22 0h2m30 0h2m22 0h2m26 0h2m16 0h2m60 0h2m-206 3.81h4m20 0h2m30 0h2m22 0h2m80 0h2m24 0h2m14 0h2m-198 3.8h6m14 0h4m60 0h2m14 0h2m94 0h2m20 0h2m52 0h2m-258 3.8h2m152 0h2m46 0h2m-232 3.8h2m58 0h2m40 0h4m4 0h2m20 0h2m2 0h2m16 0h2m24 0h2m12 0h2m4 0h2m4 0h2m2 0h2m22 0h2m2 0h2m4 0h2m8 0h6m22 0h2m-280 3.8h2m6 0h2m54 0h4m104 0h2m10 0h2m40 0h2m52 0h2m-280 3.8h2m4 0h2m8 0h6m6 0h2m2 0h2m20 0h2m14 0h2m20 0h4m84 0h2m96 0h2m-274 3.81h2m8 0h2m52 0h2m36 0h2m168 0h2m-200 3.8h2m8 0h2m4 0h6m144 0h2m-44 3.8h2m72 0h2m-240 3.8h2m182 0h2m-228 3.81h2m278 0h2m-286 3.8h6m6 0h2m24 0h2m14 0h2m42 0h2m130 0h2m52 0h2m-276 3.8h2m6 0h2m2 0h2m4 0h2m84 0h2m30 0h2m-144 3.8h2m4 0h2m8 0h2m2 0h2m28 0h2m24 0h2m18 0h2m2 0h4m130 0h2m18 0h2m-250 3.8h2m22 0h2m2 0h2m6 0h2m22 0h2m6 0h2m6 0h2m2 0h4m2 0h2m22 0h2m14 0h2m22 0h2m10 0h2m16 0h2m38 0h2m26 0h4m20 0h2m-274 3.8h2m6 0h4m22 0h2m8 0h2m20 0h2m22 0h2m12 0h2m168 0h2m-280 3.81h6m10 0h4m8 0h2m2 0h2m38 0h2m2 0h4m14 0h4m10 0h2m38 0h2m-120 3.8h4m36 0h2m18 0h2m4 0h4m12 0h2m58 0h2m2 0h2m-172 3.8h2m62 0h2m4 0h2m14 0h4"/><path stroke="#004dff" d="M101 55.86h2m188 0h2m-176 3.8h2m104 0h2m-94 3.8h2m-32 3.81h2m2 0h2m4 0h2m100 0h2m32 0h2m-150 3.8h4m6 0h2m4 0h2m84 0h2m12 0h2m52 0h6m-178 3.8h2m2 0h2m64 0h2m36 0h4m4 0h2m76 0h2m36 0h2m-136 3.8h4m12 0h2m8 0h2m4 0h2m-126 3.81h4m12 0h2m34 0h2m8 0h2m28 0h2m4 0h2m10 0h2m72 0h2m-160 3.8h2m66 0h6m126 0h2m-228 3.8h2m4 0h2m4 0h2m4 0h2m38 0h2m128 0h2m36 3.8h2m-228 11.41h2m186 0h2m90 0h2m-286 3.8h2m2 0h2m4 0h2m218 0h2m46 0h2m4 0h2m-286 3.8h2m46 0h2m50 0h4m88 0h2m6 0h2m-100 3.8h2m88 0h2m-8 7.61h2m-74 3.8h2m18 0h2m14 0h2m8 0h2m8 0h2m2 0h4m2 0h4m4 0h2m4 0h4m4 0h6m4 0h4m2 0h2m2 0h2m2 0h2m16 0h2m2 0h2m2 0h2m6 0h2m6 0h2m4 0h2m-222 7.6h2m8 0h2m18 0h2m-30 3.81h2m48 0h2m10 0h2m2 0h2m26 0h2m2 0h2m4 0h2m12 0h6m4 0h2m6 0h2m-192 3.8h6m42 0h2m48 0h4m-64 3.8h2m70 0h2m4 0h2m34 0h4m6 0h2m20 0h4m30 0h2m2 0h4m4 0h2m4 0h4m-240 3.8h2m4 3.8h2m8 0h2m2 0h2m72 0h2m4 0h2m88 0h2m-194 3.81h2m190 0h2m-190 3.8h2m2 0h2m90 0h2m-102 3.8h4m22 0h2m74 0h2m4 0h2m82 0h2m-192 3.8h2m2 0h2m38 3.8h2m144 0h2m-194 3.8h2m2 0h2m96 3.81h2m88 0h2m36 0h2m-126 3.8h2m84 0h2m36 0h2m-228 3.8h2m96 0h2m24 0h2m100 0h2m-230 3.8h2m4 0h2m86 0h2m84 0h2m-178 3.81h2m28 0h2m-34 3.8h4m184 0h2m-170 3.8h2m174 0h2m28 0h2m-232 3.8h2m2 0h2m28 0h2m62 0h4m90 0h2m-192 3.8h2m2 0h6m132 0h2m46 0h2m90 0h2m-282 3.8h4m48 0h2m62 0h2m-122 3.81h2m14 0h2m-12 3.8h2m10 0h2m172 0h2m-190 3.8h4m6 0h2m58 0h2m44 0h2m-120 3.8h4m6 0h2m2 0h2m6 0h2m12 0h2m2 0h4m28 0h2m36 0h2m78 0h2m10 0h2m-198 3.81h2m6 0h2m80 0h2m110 0h2m18 0h2m-216 3.8h2m18 0h2m154 0h2m36 0h2m-230 7.6h2m26 0h2m10 0h2m148 0h2m16 3.8h2m-212 3.8h4m206 0h2m-206 3.81h2m10 0h2m210 0h2m-230 3.8h4m32 0h2m-40 3.8h2m2 0h2m94 0h2m182 0h2m-288 3.8h2m6 0h2m-10 3.81h2m0 3.8h4m6 0h2m218 0h2m-216 3.8h2m2 0h2m14 0h6m24 0h2m52 0h2m84 0h2m24 0h2m16 0h2m-250 3.8h2m2 0h2m26 0h2m-30 3.8h2m10 0h4m18 3.8h4m2 0h2m4 0h2m26 0h4m4 0h2m4 0h2m10 0h4m4 0h6m12 0h2m8 0h2m62 0h2m52 0h2m14 0h2m-242 3.81h2m-26 7.6h2m82 0h2m-84 3.8h2m12 0h2m6 0h2m8 0h2m6 0h4m6 0h2m16 0h2m6 0h4m2 0h2m42 0h2m10 0h2m6 0h4m4 0h2m60 0h2m10 0h2m8 0h2m-24 3.8h2m-232 3.81h2m14 0h2m266 0h2m-288 3.8h2m6 0h2m-4 3.8h2m28 0h2m-2 3.8h2m56 0h6m130 0h4m52 0h2m-274 3.8h2m70 0h2m-78 3.81h2m10 0h2m46 0h4m2 0h2m46 0h2m-118 7.6h2m222 0h2m-226 3.8h2m10 0h2m102 0h2m106 0h2m-230 3.81h2m2 0h2m34 0h2m-44 3.8h2m42 0h2m48 0h2m-96 3.8h2m142 0h2m-144 7.6h2m4 0h2m104 0h2m114 0h2m-136 3.8h2m2 0h2m128 0h2m-230 3.81h2m226 0h2m-232 3.8h2m4 0h4m24 0h2m6 0h2m26 0h2m126 0h2m-86 3.8h2m-110 3.8h2m86 0h4m132 0h2m-230 3.81h2m6 0h2m4 0h2m16 0h2m62 0h2m130 0h2m-232 3.8h6m202 0h2m-206 3.8h2m92 0h2m130 0h2m-118 3.8h2m92 0h2m20 0h2m-232 3.8h2m228 0h2m52 0h2m-286 3.81h2m2 0h2m6 0h2m-4 3.8h2m4 0h4m24 0h2m30 0h2m42 0h2m10 0h2m-130 3.8h4m2 3.8h2m72 0h2m144 0h2m-228 3.8h2m92 0h2m130 0h2m-232 3.81h2m24 0h2m70 3.8h2m-96 7.6h2m106 0h2m8 0h2m28 0h2m2 0h2m34 0h2m10 0h2m14 0h2m8 0h2m32 0h2m14 0h2m-286 3.8h2m100 0h4m4 0h2m-104 3.8h2m90 0h2m8 0h2m122 0h2m-232 7.61h6m10 0h2m2 0h2m-20 3.8h2m96 0h2m128 0h2m-228 3.8h2m38 0h2m-46 3.81h4m226 0h2m-228 7.6h4m98 0h2m122 0h2m-232 3.8h4m2 0h2m-4 3.8h4m4 0h6m80 0h2m38 0h2m6 0h2m-146 3.8h2m2 0h4m2 0h2m2 0h2m20 0h2m58 0h2m4 0h4m12 0h2m16 0h2m48 0h2m-154 3.81h2m38 0h2m8 0h2m16 0h2m124 0h2m-222 3.8h2m4 0h2m6 0h2m8 0h2m24 0h2m36 0h4m128 0h2m-230 3.8h6m94 0h2m126 0h2"/><path stroke="#0061ff" d="M97 55.86h4m-2 3.8h4m2 0h2m-4 7.61h2m186 0h2m-44 3.8h2m16 0h2m-168 7.6h2m-6 3.81h6m14 0h2m8 3.8h2m-28 3.8h2m-6 3.8h2m2 0h2m8 0h2m-20 3.8h2m2 3.8h2m210 0h2m-216 11.41h2m4 0h4m-4 3.8h2m-4 3.8h4m84 7.61h2m4 0h2m16 0h2m4 0h2m12 0h2m10 0h2m2 0h2m14 0h6m20 0h4m4 0h4m28 0h2m44 0h2m-10 3.8h2m16 0h6m-298 7.61h2m2 0h2m162 0h4m4 0h2m14 0h2m-194 3.8h2m234 0h2m-232 3.8h2m4 0h2m92 0h6m8 0h4m2 0h4m2 0h2m40 0h2m2 0h2m48 0h2m4 0h2m4 0h4m8 0h2m-254 3.8h2m46 0h2m4 3.8h2m160 0h2m-214 3.81h2m4 0h2m224 0h2m-230 3.8h2m2 0h2m-10 7.6h2m24 3.8h2m76 3.8h2m88 0h2m-196 3.81h6m-2 7.6h2m-4 3.8h2m4 0h2m222 0h2m-232 3.81h4m-2 3.8h2m12 3.8h2m-20 3.8h2m20 0h4m-26 3.8h4m6 3.8h2m182 3.81h2m-190 3.8h2m-6 3.8h4m12 0h2m6 0h2m166 0h2m-128 3.8h2m142 0h2m-206 3.81h2m94 0h2m-104 7.6h2m4 0h2m-10 3.8h4m2 0h4m36 0h2m164 0h2m-214 3.8h2m2 0h2m-8 3.8h2m194 0h2m-200 3.81h2m2 0h2m2 0h2m188 0h2m-196 3.8h2m192 0h2m-192 3.8h2m0 3.8h2m186 0h2m-194 3.81h2m-4 3.8h2m18 0h2m86 0h2m-110 3.8h2m2 0h10m6 0h2m8 0h2m2 0h4m120 0h2m34 0h2m-196 3.8h4m0 3.8h4m18 0h2m72 0h2m92 0h2m-170 3.8h2m4 0h4m4 0h2m4 0h2m4 0h2m4 0h8m4 0h4m4 0h2m6 0h4m4 0h2m6 0h2m24 0h2m26 0h2m68 0h2m-228 7.61h4m14 0h2m20 0h2m152 0h2m-2 3.8h2m-194 3.8h2m2 0h2m4 0h4m2 0h2m2 0h4m2 0h2m2 0h2m8 0h4m6 0h2m6 0h6m2 0h2m4 0h2m2 0h2m2 0h2m110 0h2m-196 3.8h4m10 0h2m16 3.81h2m-36 3.8h2m0 11.4h2m4 0h2m-2 3.81h2m70 0h2m-78 3.8h2m2 7.6h2m10 0h2m-18 3.81h2m2 0h2m64 0h2m-76 3.8h2m6 0h2m-4 3.8h2m-2 3.8h2m0 3.8h2m-4 3.8h2m-8 3.81h2m2 0h2m0 3.8h2m-2 3.8h2m226 0h2m-232 3.8h4m-4 3.81h2m4 0h2m-10 3.8h2m230 0h2m-232 3.8h2m-4 3.8h2m-4 7.61h2m26 0h4m-22 3.8h2m-8 3.8h2m96 0h2m-96 3.8h2m-8 7.61h2m2 0h2m16 0h2m-24 3.8h2m4 0h2m-4 3.8h2m-2 3.8h2m102 0h4m4 0h2m110 0h2m-228 3.8h2m-4 7.61h8m92 0h2m78 0h2m50 3.8h2m-232 7.6h4m-6 3.81h2m-2 3.8h2m2 3.8h2m8 0h2m12 3.8h2m-26 3.8h2m0 3.8h2m96 0h2m-100 3.81h2m6 0h2m2 0h2m-12 3.8h2m-10 3.8h2"/><path stroke="#0075ff" d="M93 55.86h4m6 3.8h2m204 0h2m-178 3.8h2m-38 7.61h2m146 0h2m4 0h2m22 0h2m-184 3.8h2m10 0h2m202 0h2m-218 3.8h2m2 0h2m210 3.81h2m-216 3.8h4m4 0h4m88 0h2m-106 3.8h2m4 0h2m0 3.8h2m2 0h4m-16 3.8h2m2 0h2m-4 3.8h2m-2 3.81h2m2 0h4m-8 3.8h2m2 0h2m-6 3.8h2m0 3.8h6m-6 3.8h4m-2 3.81h8m20 3.8h2m2 0h2m2 0h4m26 0h4m4 0h2m10 0h2m4 0h2m4 0h2m6 0h4m2 0h2m4 0h2m4 0h2m2 0h6m4 0h2m4 0h2m8 0h2m18 0h2m34 0h2m62 3.8h10m2 0h2m-262 3.8h2m20 0h2m-52 3.81h2m6 0h2m-14 3.8h2m4 0h4m0 3.8h2m38 0h2m80 0h2m20 0h2m10 0h6m10 0h4m4 0h2m32 0h4m-222 3.8h2m4 3.8h2m-4 3.81h2m-6 3.8h2m210 0h2m-218 7.6h4m-6 3.8h2m6 0h4m-6 3.8h2m-6 3.81h2m8 0h2m-6 7.6h2m208 0h2m-214 7.61h2m-4 3.8h6m208 3.8h2m-210 3.8h2m-10 3.8h2m4 3.8h4m-10 3.81h2m6 0h4m-8 3.8h4m-4 3.8h2m12 0h2m-16 3.8h2m2 3.81h2m96 0h2m-104 7.6h2m2 0h2m-4 7.6h2m190 0h2m-190 3.8h2m-10 3.81h2m2 0h2m14 0h2m-20 7.6h2m0 3.8h4m188 7.61h2m-194 3.8h2m10 0h2m8 0h2m2 0h2m14 0h2m-50 3.8h2m196 0h2m-200 3.8h4m2 0h2m6 3.8h2m4 0h4m8 0h4m4 0h4m34 0h2m118 0h2m-194 11.41h4m-6 3.8h2m2 0h2m2 0h4m24 0h2m2 0h2m4 0h2m6 0h2m16 0h2m-70 3.8h2m-6 3.81h2m-6 3.8h2m2 3.8h6m0 3.8h2m-6 3.8h4m-6 3.81h2m-6 7.6h6m-2 7.61h2m-6 3.8h2m4 7.6h2m4 3.8h2m-4 3.8h2m-8 3.81h2m-2 3.8h2m-2 7.6h2m4 0h2m-8 3.81h2m4 0h2m-8 7.6h2m0 3.8h4m-6 7.61h2m2 3.8h4m-4 3.8h2m-4 3.8h2m-8 3.8h2m4 7.61h4m-10 3.8h6m-2 3.8h2m-6 3.8h2m2 0h2m2 3.8h2m-6 7.61h2m0 3.8h2m-2 15.21h2m-4 3.8h2m98 11.41h2m-98 3.8h2m-8 3.8h2m2 0h2"/><path stroke="#008aff" d="M97 59.66h2m100 0h2m-76 3.8h4m180 0h2m-214 3.81h2m210 0h2m-220 3.8h2m154 0h2m4 0h4m6 0h4m-172 3.8h2m-6 3.8h2m216 0h2m-218 3.81h2m102 0h2m-106 3.8h2m6 0h2m206 3.8h2m-218 3.8h2m214 0h2m-2 3.8h2m-216 7.61h2m-6 3.8h2m216 0h2m-220 3.8h2m12 0h2m-14 3.8h2m10 7.61h2m202 0h2m-212 3.8h2m4 0h4m10 0h2m6 0h2m2 0h2m16 0h12m8 0h2m4 0h8m2 0h2m14 0h2m4 0h2m14 0h2m12 0h4m68 0h2m44 3.8h2m4 0h2m6 0h2m20 0h6m-290 3.8h2m8 0h2m6 0h12m-46 3.81h2m2 3.8h2m0 3.8h2m128 0h2m10 0h4m4 0h6m16 0h2m12 0h2m6 0h2m8 0h2m2 0h4m2 0h2m-4 3.8h2m-220 3.8h2m6 0h2m-10 3.81h2m2 0h2m212 0h2m-220 3.8h2m-2 3.8h4m2 0h2m0 3.8h2m-8 3.8h6m210 0h2m-220 3.8h2m2 3.81h2m10 3.8h2m10 0h2m80 0h2m106 0h2m-218 3.8h2m2 3.8h2m210 0h2m-244 3.81h4m22 3.8h2m2 3.8h2m-4 7.6h2m212 0h2m-218 3.8h4m212 0h2m-220 7.61h4m6 0h2m0 11.41h2m186 0h2m-194 3.8h4m-10 3.8h4m-4 7.6h4m0 3.8h2m-30 7.61h2m22 0h2m-28 11.41h2m24 0h2m196 0h2m-180 7.6h2m8 0h2m-30 3.8h2m4 7.6h2m2 0h2m2 0h4m4 0h4m-24 3.81h4m-6 3.8h2m-4 7.6h2m22 0h2m4 0h2m6 0h2m40 0h2m-80 3.8h2m-6 3.81h2m6 11.4h4m-4 7.61h4m-12 3.8h2m4 0h2m-8 3.8h2m6 0h2m-8 3.8h2m2 0h2m2 0h2m-8 3.81h2m-6 3.8h2m4 3.8h2m-2 3.8h2m-2 3.8h4m-2 3.8h2m-8 3.81h2m8 3.8h2m-14 3.8h2m4 0h2m-4 7.61h2m-30 3.8h2m24 0h4m-4 7.6h2m-2 7.61h2m2 3.8h2m98 0h2m-102 7.6h2m-2 3.8h2m-8 3.81h2m2 0h2m2 7.6h2m-6 11.4h6m-8 3.81h2m2 7.6h2m-2 3.8h2m-30 3.81h2m20 0h2m2 0h2m-6 3.8h2m2 0h2m0 3.8h2m-2 11.4h2m-2 3.81h2m0 3.8h2m2 0h2m6 0h2"/><path stroke="#009eff" d="M91 55.86h2m216 0h2m-218 3.8h2m24 3.8h6m-32 3.81h4m2 0h2m-8 3.8h4m160 0h6m46 0h2m-244 3.8h2m22 0h2m2 7.61h2m2 3.8h2m-10 7.6h2m-26 3.8h4m20 3.8h2m2 0h2m4 3.81h2m-36 3.8h2m26 0h2m212 3.8h2m-2 3.8h2m-222 3.8h6m214 0h2m-242 3.81h2m22 0h4m-30 3.8h2m2 0h4m34 0h6m6 0h4m12 0h10m14 0h2m4 0h2m4 0h2m16 0h2m4 0h2m20 0h2m24 0h2m104 3.8h2m12 0h2m14 0h2m14 0h2m-294 3.8h2m14 0h2m14 0h8m2 0h2m160 0h2m-242 3.81h2m238 0h2m-2 3.8h2m-106 3.8h2m24 0h8m4 0h2m48 0h2m14 0h2m-220 3.8h2m0 3.8h2m2 0h2m2 0h2m-34 7.61h2m22 0h2m-28 7.6h2m240 0h2m-216 7.6h2m4 0h2m-12 3.81h2m216 0h2m-202 3.8h2m4 0h2m4 0h2m-32 3.8h2m4 0h2m-8 3.8h6m-4 3.81h2m214 0h2m-2 3.8h2m-218 3.8h4m-6 3.8h6m212 0h2m-214 7.6h2m-8 3.81h2m2 0h2m-6 7.6h2m6 3.8h2m-6 3.81h2m-6 3.8h2m4 0h2m-30 3.8h2m20 0h2m-2 3.8h4m-4 11.41h2m-26 7.6h2m22 0h4m-4 3.8h2m2 0h2m-28 3.81h2m20 0h2m2 0h2m-2 3.8h2m-4 3.8h2m-2 11.4h2m2 0h2m22 0h2m-28 3.81h2m-4 7.6h2m2 0h2m-4 3.8h2m-4 7.61h2m-28 3.8h4m20 0h2m0 3.8h2m0 3.8h4m-6 3.8h4m-28 3.81h2m20 0h2m0 3.8h4m2 7.6h2m-10 3.81h4m-2 7.6h4m-4 3.8h2m0 3.8h2m0 3.8h2m-8 3.81h2m0 7.6h2m0 3.8h2m-6 7.61h2m-26 3.8h2m22 0h4m-4 3.8h2m2 0h2m-2 3.8h2m0 11.41h2m-8 3.8h2m-26 3.8h2m22 0h2m6 0h4m-12 19.01h2m-24 7.61h2m20 0h2m2 0h2m-30 7.6h2m0 3.8h2m-4 3.81h2m24 3.8h2m0 7.6h2m2 3.8h2m-2 3.8h2m-2 3.81h4m-36 7.6h2"/><path stroke="#00b2ff" d="M67 55.86h2m0 3.8h2m20 0h2m2 0h2m-28 3.8h2m44 0h4m-50 3.81h2m20 0h2m-26 3.8h2m0 3.8h2m-4 3.8h2m26 0h2m-4 11.41h4m-2 3.8h2m-8 3.8h2m-22 3.8h2m20 3.81h2m-26 7.6h4m20 3.8h2m-26 3.8h4m30 7.61h4m10 0h4m28 0h2m50 0h2m146 3.8h4m2 0h2m2 0h4m2 0h2m-266 3.8h2m14 0h2m2 0h2m-52 7.61h2m158 3.8h2m58 0h2m6 0h4m2 0h2m-238 3.8h2m26 0h2m-28 3.8h2m22 3.81h2m0 3.8h2m-2 3.8h2m212 0h2m-220 3.8h2m-24 3.8h2m16 0h4m-22 3.8h2m238 0h2m-242 3.81h2m46 3.8h2m-52 7.6h2m26 3.81h2m-6 3.8h2m-26 3.8h2m18 0h2m2 0h2m-26 3.8h4m20 3.8h2m-24 3.8h2m-4 3.81h4m24 3.8h2m-4 3.8h2m-26 7.61h2m-4 3.8h4m22 0h4m-2 7.6h2m-6 3.8h2m0 3.8h2m-28 7.61h2m22 0h2m2 0h2m-2 3.8h2m-4 3.8h2m-28 7.61h2m22 0h4m-28 3.8h2m22 0h2m-24 3.8h2m20 3.8h2m4 0h2m-8 3.8h2m6 0h2m2 0h2m-16 3.81h2m0 3.8h4m-26 3.8h2m24 0h2m-30 3.8h4m-2 3.8h2m20 0h4m-28 3.81h2m26 0h2m-8 3.8h2m4 3.8h2m-4 3.8h2m-28 3.8h2m-2 3.81h2m24 0h2m-28 7.6h4m20 3.8h2m-24 11.41h2m20 0h2m-2 3.8h2m2 0h2m-30 3.8h4m18 0h6m-28 3.8h2m24 0h4m-28 3.81h2m20 3.8h4m0 3.8h2m2 0h2m-34 3.8h2m0 7.61h2m16 0h2m-20 3.8h2m24 0h2m-28 11.41h2m24 3.8h2m-30 3.8h2m26 0h2m-28 7.6h2m22 3.81h2m-2 3.8h2m-28 3.8h2m22 3.8h2m2 0h2m-30 3.8h2m0 3.8h2m16 0h2m2 0h2m-26 3.81h2m22 3.8h2m2 0h2m-28 3.8h2m16 0h2m6 0h2m-30 3.8h2m22 0h2m2 0h2m-30 7.61h4m24 3.8h2m-6 7.6h2m2 0h4m-4 3.8h2m-6 3.81h2m-26 3.8h2m24 0h4m-4 3.8h2"/><path stroke="#00c7ff" d="M69 55.86h2m-4 7.6h2m32 0h2m2 0h10m-48 3.81h2m0 3.8h2m18 3.8h2m-22 3.8h2m18 0h2m-2 3.81h4m-2 3.8h2m216 0h2m-244 3.8h4m16 7.6h2m-22 3.8h2m-2 3.81h4m238 0h2m-242 3.8h2m18 0h2m-2 3.8h2m-24 11.41h2m22 0h2m-24 3.8h2m258 3.8h2m6 0h2m2 0h6m-252 3.8h4m2 0h2m6 0h2m2 0h2m-48 3.81h2m-2 3.8h2m22 3.8h6m198 0h2m-228 3.8h2m24 3.8h2m-30 3.81h4m16 0h4m-24 7.6h2m0 3.8h2m-4 7.6h2m20 0h2m2 0h2m-28 7.61h4m26 0h6m2 0h2m4 0h4m-48 3.8h2m26 0h2m-28 3.8h2m20 3.81h2m-26 3.8h2m0 3.8h2m18 0h2m-24 7.6h4m-4 3.8h2m22 0h2m-26 7.61h4m-2 3.8h2m24 0h2m-6 3.8h4m-4 3.81h4m-28 7.6h2m18 0h4m-22 3.8h2m-4 3.8h4m16 0h2m-20 3.8h2m-2 3.81h2m-2 7.6h2m18 0h2m-24 3.8h4m18 0h2m-22 7.61h2m-2 3.8h2m16 0h2m6 0h2m-30 3.8h2m22 0h2m-26 7.6h4m24 0h2m-30 3.81h4m-4 3.8h4m20 3.8h2m-2 3.8h2m-26 3.8h2m0 3.81h2m18 0h2m-4 3.8h2m-22 3.8h4m-4 3.8h2m0 3.8h2m20 0h2m2 3.81h2m-28 3.8h2m18 0h2m4 7.6h2m-30 3.81h2m-2 3.8h4m-4 3.8h2m-2 3.8h4m16 3.8h2m-20 3.8h2m-4 3.81h2m-2 3.8h4m18 3.8h2m-22 3.8h2m18 0h6m-2 3.81h2m-6 3.8h2m-24 7.6h2m-2 3.8h4m20 0h2m-2 3.81h2m0 3.8h2m4 0h2m-32 3.8h2m22 0h2m-6 3.8h2m2 0h2m0 3.8h2m-30 3.81h4m18 0h2m-24 3.8h4m20 0h2m2 0h2m-28 3.8h2m18 0h4m0 3.8h2m-26 3.8h2m-4 3.8h2m24 0h2m-28 7.61h2m20 0h2m2 0h2m-6 3.8h2m2 3.8h2m-6 3.81h2m2 0h2m-6 7.6h6m-28 3.8h4m18 0h2m-24 3.8h2m-2 3.8h2m-2 3.81h4m22 0h4m-6 3.8h2m4 0h2m-30 3.8h2m20 0h2"/><path stroke="#00dbff" d="M89 55.86h2m-24 3.8h2m20 0h2m-4 7.61h2m-20 15.21h2m16 0h2m-22 3.8h4m-4 7.6h4m18 0h2m-18 3.8h2m14 3.8h2m-4 7.61h2m-2 3.8h2m-22 3.8h4m18 0h2m0 11.41h4m2 0h2m202 3.8h2m12 0h2m4 0h2m8 0h2m6 0h2m-250 3.8h4m8 0h2m6 0h2m-42 3.81h2m16 0h2m-2 3.8h2m-24 3.8h2m18 3.8h2m-22 3.8h2m20 0h2m-22 11.41h2m0 11.4h2m12 0h4m-22 3.81h2m18 0h2m-2 3.8h10m6 0h2m-36 15.21h2m14 0h2m2 0h2m-2 11.4h2m-2 3.8h2m-24 11.41h2m-2 3.8h4m24 0h2m-30 3.81h2m20 3.8h2m-24 7.6h2m-2 7.6h2m22 0h2m-26 3.81h2m20 3.8h2m-4 3.8h2m-2 3.8h2m0 3.81h2m-20 11.4h2m-6 3.8h4m20 7.61h4m-8 3.8h2m-2 7.6h2m-2 7.61h2m2 7.6h2m-2 3.8h2m-22 3.8h2m16 0h2m-2 11.41h2m-22 3.8h2m-2 3.81h2m16 0h4m-2 3.8h2m-4 3.8h4m-6 3.8h2m4 7.6h2m-8 3.81h2m8 3.8h2m-30 3.8h4m16 3.8h2m-20 3.81h2m18 0h4m-24 11.4h2m14 3.8h6m2 0h2m-28 3.81h2m18 0h2m-22 3.8h4m20 0h2m-2 3.8h2m-26 3.8h4m24 0h2m-10 7.61h2m-2 3.8h4m-4 3.8h2m0 11.4h2m-2 3.81h2m-22 3.8h2m16 0h2m2 3.8h4m-24 3.8h2m12 3.81h4m0 3.8h2m-24 3.8h2m18 3.8h2m2 0h4m-2 3.8h2m-2 3.8h2m-26 7.61h2m18 3.8h2"/><path stroke="#08f0ef" d="M85 55.86h4m4 7.6h4m2 0h2m2 0h2m-16 3.81h2m-24 15.21h2m18 3.8h4m-4 3.8h4m-20 3.8h2m-2 3.8h2m-2 3.8h2m12 0h4m-18 7.61h2m-2 11.4h2m14 0h2m-8 7.61h6m8 0h2m196 3.8h2m4 0h2m2 0h2m4 0h6m2 0h2m6 0h4m4 0h4m-268 15.21h2m18 3.8h2m-20 7.61h2m-6 3.8h2m16 0h6m-4 3.8h4m-2 3.8h2m-24 3.8h2m2 7.61h2m16 0h2m-22 7.6h2m0 3.8h2m16 0h2m-20 3.81h2m16 0h2m-6 7.6h2m0 7.6h2m-2 3.8h2m-2 3.81h2m-2 3.8h4m-2 3.8h2m-2 3.8h2m-4 3.81h4m-4 11.4h4m-20 3.8h2m16 3.8h2m-2 3.81h2m-20 3.8h2m12 3.8h2m0 7.61h2m0 3.8h2m-20 3.8h2m16 0h2m-2 3.8h2m-4 3.8h4m-4 3.8h2m0 7.61h2m-24 3.8h2m18 0h2m-18 7.6h2m14 0h2m-18 7.61h2m14 3.8h2m-20 3.8h2m16 3.8h2m-22 7.61h2m18 0h2m-2 3.8h2m-22 3.8h2m2 7.61h2m14 0h2m-2 7.6h4m-4 11.41h4m-4 7.6h2m-22 7.61h2m2 0h2m12 3.8h2m0 3.8h2m0 3.8h2m-20 7.61h2m12 0h2m2 0h2m-2 3.8h2m-4 3.8h4m-4 3.8h2m-2 3.8h4m-24 15.21h4m16 0h2m0 3.8h2m-20 7.61h2m12 3.8h2m0 7.6h2m-18 3.81h2m-4 7.6h2m16 0h2m-20 7.6h2m-2 3.8h2m16 0h6m-4 3.81h2"/><path stroke="#19ffde" d="M71 59.66h2m-2 3.8h4m14 0h4m4 0h2m-28 7.61h2m16 0h2m-6 3.8h4m-18 15.21h2m14 3.8h2m-6 3.8h4m-16 7.61h2m16 0h2m-18 3.8h4m-6 3.8h2m12 7.6h2m-16 3.81h2m16 0h2m-14 3.8h2m8 0h4m190 3.8h2m6 0h4m4 0h2m8 0h2m10 0h2m2 0h2m-252 7.61h2m12 0h2m-6 3.8h2m2 0h2m-2 3.8h2m-18 3.8h2m-2 3.8h2m12 3.81h2m-16 7.6h2m-2 19.01h2m-2 3.8h2m14 0h4m-6 3.8h2m-4 3.81h2m2 0h2m-2 3.8h2m-18 3.8h2m14 3.8h4m-20 7.6h2m12 0h2m2 3.81h2m-4 11.4h2m-18 3.81h2m14 3.8h2m-18 3.8h2m-2 3.8h2m12 3.8h2m2 0h2m-4 3.8h2m-2 3.81h2m-16 3.8h2m12 0h2m-18 7.6h2m12 0h2m-16 3.81h2m12 0h2m0 3.8h2m-4 3.8h2m-16 7.6h2m16 3.8h2m-20 11.41h2m-2 3.8h2m16 0h2m-6 3.8h2m2 0h2m-20 3.81h2m12 0h2m-2 7.6h2m2 0h2m-2 3.8h2m-20 7.61h2m-2 3.8h2m12 7.6h2m-2 3.81h2m-4 3.8h2m-14 19.01h2m14 3.8h4m-20 7.6h2m14 3.81h2m-18 3.8h2m16 3.8h2m-4 15.21h2m-4 3.8h2m-2 3.8h2m-16 7.61h2m-2 3.8h2m12 3.8h2m-16 3.8h2m16 0h2m-4 3.8h2m-4 7.61h4m-18 7.6h2m12 0h2m2 3.8h2m-20 7.61h2m12 7.6h2m0 3.8h2m-2 7.61h2m-2 3.8h2m-18 3.8h2m14 0h2"/><path stroke="#29ffce" d="M71 55.86h4m12 3.8h2m-2 3.8h2m-18 3.81h2m12 3.8h4m-18 3.8h2m-2 3.8h6m10 0h2m-18 3.81h2m-2 3.8h2m0 3.8h2m10 0h2m-14 11.4h2m8 0h2m-12 3.81h2m10 0h4m-4 3.8h2m-2 3.8h2m0 11.41h2m-10 3.8h2m192 3.8h2m10 0h2m8 0h2m8 0h2m-218 3.8h2m-20 7.61h2m-2 3.8h2m12 0h2m2 0h2m-8 3.8h2m-2 7.61h2m-14 3.8h2m10 0h2m0 3.8h2m0 3.8h2m-2 22.81h2m-16 3.81h2m10 0h2m-4 3.8h2m0 7.6h2m-16 3.8h2m0 3.8h2m-4 3.81h2m12 0h2m-16 3.8h4m10 0h2m0 3.8h2m-18 3.8h2m12 7.61h2m-2 3.8h2m-2 3.8h2m-16 7.6h2m-2 3.81h2m10 7.6h2m-2 7.61h2m-14 3.8h4m10 0h2m0 7.6h2m-4 3.8h2m-2 3.8h2m-16 3.81h2m14 0h2m-18 3.8h2m16 3.8h2m-6 15.21h2m-16 3.8h2m12 3.8h4m-4 3.8h2m2 3.81h2m-6 3.8h2m-16 3.8h2m12 0h2m0 3.8h4m-20 3.81h2m12 3.8h2m-16 3.8h2m12 0h2m-16 3.8h4m8 0h2m0 3.8h2m-16 3.8h2m12 0h6m-8 3.81h2m-14 7.6h2m12 3.8h2m-2 3.81h2m-16 7.6h2m12 0h2m-16 3.8h2m12 0h4m-18 3.8h2m10 0h2m-14 15.21h2m-2 3.8h2m0 3.81h2m10 0h2m-2 3.8h2m-16 11.4h2m10 0h4m-16 3.8h2m12 0h2m-4 7.61h2m-2 11.41h2m-2 3.8h6m-18 7.6h2m10 0h2m0 3.8h2m2 0h2m-20 3.8h2m-2 3.81h2m12 0h2m-16 3.8h4m14 0h2m-6 3.8h2"/><path stroke="#3affbd" d="M75 55.86h2m-4 3.8h2m10 0h2m-2 3.8h2m-14 3.81h2m10 0h2m-2 11.4h2m-2 3.81h2m-2 3.8h2m-6 3.8h2m-10 3.8h2m10 0h2m-12 3.8h2m4 0h2m0 15.21h2m-14 3.8h2m14 0h2m-16 3.8h2m8 0h2m-12 3.81h2m10 0h2m-12 3.8h2m172 3.8h2m4 0h2m6 0h2m10 0h4m4 0h2m2 0h2m-216 11.41h2m10 7.6h2m-14 3.8h2m12 0h2m-16 11.41h2m-4 3.8h2m2 0h2m8 0h2m-16 3.8h2m12 0h2m-4 3.8h2m-12 3.81h2m10 0h2m-2 3.8h2m-2 3.8h2m-14 3.8h2m-4 7.61h4m6 0h2m-12 7.6h2m12 3.8h2m-4 3.8h2m-12 3.81h2m-4 7.6h4m10 0h2m-14 3.8h2m10 0h2m-14 3.81h2m10 0h2m-16 3.8h2m10 0h2m-12 3.8h2m8 0h2m-12 7.6h2m8 0h2m-12 3.8h4m4 0h2m-10 3.81h2m10 0h2m-2 3.8h2m-16 3.8h4m-2 3.8h2m-2 11.41h2m8 0h2m-12 3.8h2m-4 7.6h2m10 3.81h4m-2 3.8h2m-14 3.8h2m10 0h2m-2 3.8h2m-14 3.8h2m-2 3.81h2m8 7.6h2m-14 3.8h2m-2 19.01h2m10 0h2m-12 3.81h2m8 19h2m-10 3.81h2m8 3.8h2m-14 7.6h2m-2 7.61h2m-2 15.21h2m-4 3.8h2m12 0h2m-16 3.8h2m10 0h2m0 22.81h2m-14 7.6h2m-4 7.61h2m10 3.8h2m-12 3.8h2m6 3.81h2m2 7.6h2m-2 11.4h2m-14 11.41h2m8 0h2"/><path stroke="#4affad" d="M83 55.86h2m-10 3.8h2m6 0h2m-10 3.8h2m6 0h2m-10 3.81h2m-4 7.6h2m-2 7.61h2m-2 3.8h2m8 3.8h2m-2 3.8h2m-2 11.41h2m-12 7.6h4m4 0h2m-8 7.6h2m174 11.41h4m2 0h4m4 0h8m6 0h2m-208 3.8h2m10 0h4m-4 3.81h2m-12 3.8h2m4 0h2m0 3.8h2m-12 3.8h2m10 3.8h2m-4 11.41h2m-12 3.8h2m8 0h2m-12 3.8h2m8 7.61h2m-12 3.8h2m8 0h2m-4 3.8h2m0 3.8h2m-6 3.81h4m-10 7.6h2m8 0h2m-12 3.8h2m-2 3.8h2m0 7.61h2m2 0h2m2 3.8h2m-2 3.8h2m-10 7.61h2m6 0h2m-4 7.6h2m-8 3.8h2m4 0h4m0 7.6h2m-4 3.81h2m-4 3.8h4m-4 3.8h2m0 11.41h2m0 7.6h2m-14 3.8h2m-2 3.8h2m8 0h2m-12 3.81h2m8 3.8h2m-10 3.8h2m-4 3.8h2m8 0h2m-2 3.8h2m-2 3.81h2m-12 3.8h2m6 0h4m-12 3.8h2m6 0h2m0 3.8h2m-2 3.8h2m-2 3.81h2m2 0h2m-16 3.8h2m6 0h4m-2 3.8h2m-10 7.61h2m-4 3.8h2m6 0h2m-10 3.8h2m8 0h2m-14 7.6h2m10 0h2m-12 3.8h2m-2 3.81h2m-4 3.8h2m0 3.8h2m10 0h2m-14 7.61h2m-2 11.4h2m-2 3.8h2m8 15.21h2m-4 3.8h6m-4 3.81h2m-2 3.8h2m-14 3.8h2m2 0h2m6 0h2m-12 3.8h2m8 7.6h2m-2 3.81h2m-12 3.8h4m4 0h2m-8 3.8h2m4 0h2m-2 3.8h6m-14 3.81h2m4 0h2m-8 3.8h2m-4 3.8h2m10 0h2m-2 19.01h4"/><path stroke="#5aff9c" d="M81 55.86h2m-10 15.21h2m8 0h2m-10 3.8h2m6 0h2m-10 7.61h2m6 3.8h2m-10 3.8h2m2 7.6h2m-6 3.8h2m2 0h2m-6 3.81h2m2 7.6h2m-8 3.8h2m10 0h2m-4 7.61h2m138 7.6h2m16 0h2m4 0h2m-174 3.8h2m-2 3.81h2m8 3.8h2m-14 3.8h2m0 3.8h2m4 0h2m-8 3.8h2m6 0h2m-12 3.81h2m6 0h2m-8 7.6h2m6 7.6h2m-12 3.8h4m-2 3.81h2m-2 3.8h2m-4 3.8h2m0 7.61h2m-2 3.8h2m4 3.8h2m0 7.6h2m-10 3.8h2m4 0h2m0 3.81h2m-2 11.4h2m-12 7.61h2m0 3.8h2m-4 3.8h2m6 3.8h2m0 3.8h2m-4 3.81h2m-8 3.8h2m6 7.6h2m-12 3.81h4m-2 3.8h2m-2 3.8h2m-2 3.8h2m2 0h6m-2 3.8h2m-4 7.61h2m-10 3.8h2m8 3.8h2m-4 11.41h2m-8 3.8h2m-4 11.4h2m6 0h2m-10 3.81h2m10 0h2m-12 3.8h2m-4 3.8h2m6 0h2m-10 3.8h2m8 3.81h2m-10 3.8h2m-4 11.4h2m6 7.61h2m0 7.6h2m-2 3.8h2m-2 7.61h2m-12 3.8h2m8 0h2m-2 3.8h2m-4 3.8h2m-8 3.81h2m6 3.8h2m-12 3.8h2m0 3.8h2m-4 3.8h2m-2 7.61h2m-2 3.8h2m6 0h2m0 3.8h2m-4 3.8h2m-10 7.61h2m4 0h2m-8 7.6h2m2 7.61h2m-6 7.6h2m-4 7.6h4m6 3.8h4m-12 3.81h4m6 0h2"/><path stroke="#6bff8c" d="M79 59.66h4m-4 3.8h4m-2 11.41h2m0 3.8h2m-2 3.81h2m-10 11.4h2m0 3.8h2m2 3.8h2m-2 7.61h4m-2 7.6h2m-10 7.61h2m4 0h2m138 7.6h2m2 0h2m2 0h2m2 0h4m6 0h4m14 0h2m-194 3.8h4m6 0h6m-4 3.81h4m-10 7.6h2m4 0h2m-4 11.41h2m-8 3.8h4m4 7.6h2m-8 19.01h2m6 0h2m-10 15.21h2m-2 3.8h2m6 0h2m-10 3.8h2m4 0h2m-2 7.61h2m-8 3.8h2m-2 3.8h2m4 0h2m-8 3.8h2m-2 7.61h2m2 0h2m-2 3.8h2m-2 3.8h2m-6 3.8h2m-2 7.61h2m2 7.6h2m-6 3.8h2m2 0h4m-2 3.81h2m-4 3.8h4m-4 3.8h2m-6 7.6h4m2 15.21h2m-8 3.8h2m2 0h4m-8 7.61h2m0 3.8h4m-6 3.8h2m-4 3.8h2m6 0h2m-8 3.8h2m4 3.81h2m-8 7.6h2m2 7.61h4m-4 3.8h2m-6 3.8h4m-4 3.8h2m4 0h2m-8 3.8h2m4 0h2m-8 3.8h2m-2 11.41h2m2 0h2m-6 3.8h2m4 0h2m0 3.81h2m-10 3.8h2m4 0h2m-8 3.8h2m2 0h4m-2 3.8h2m-4 3.8h2m2 3.81h2m-12 3.8h2m6 7.6h2m-6 3.8h4m-2 3.81h4m-8 3.8h2m4 0h2m-6 3.8h2m-6 7.6h4m4 3.8h2m-8 3.81h4m2 0h2m-4 7.6h2m-6 3.8h4m-4 3.81h2m-2 3.8h2m-4 7.6h4m4 0h2m-2 3.8h2m-10 3.8h2m0 7.61h2m-2 3.8h2"/><path stroke="#7bff7b" d="M77 55.86h4m-4 3.8h2m0 7.61h2m2 0h2m-10 3.8h2m2 0h4m-4 3.8h2m0 7.61h2m-8 3.8h2m4 0h2m-4 3.8h2m0 3.8h2m-4 11.41h4m-6 3.8h4m-6 7.6h2m4 0h2m-4 3.8h4m-4 3.81h2m120 7.6h2m4 0h2m2 0h2m2 0h2m10 0h2m2 0h2m4 0h4m-162 11.41h2m0 11.4h2m-2 7.61h2m-4 3.8h4m-4 3.8h2m-6 3.8h2m4 0h2m-2 3.8h2m-6 3.81h2m2 0h2m-2 3.8h2m-4 3.8h2m0 3.8h2m-4 7.61h2m-4 19.01h2m2 3.8h2m-4 3.8h2m-2 7.61h4m-2 3.8h2m-6 7.6h2m0 7.6h2m-2 7.61h2m-6 3.8h2m0 3.8h2m0 3.81h2m-4 3.8h2m-2 7.6h2m0 3.8h2m-6 3.8h2m4 0h2m-8 3.81h2m4 3.8h2m-8 11.4h2m2 0h4m-6 3.81h4m-6 11.4h2m2 0h2m-2 3.8h2m-2 7.61h2m-2 3.8h2m-6 3.8h2m4 11.41h2m-4 3.8h2m-4 3.8h2m2 3.8h2m-6 3.81h4m-8 3.8h2m8 0h2m-6 11.41h4m-6 3.8h4m-4 3.8h2m-4 3.8h2m-2 3.8h4m2 7.61h2m-10 7.6h2m0 3.8h2m-2 3.81h2m0 3.8h4m-2 3.8h2m-6 3.8h2m2 0h2m-4 3.8h2m0 11.41h2m-4 3.8h2m0 3.8h2m2 19.01h2m-6 3.8h2m-4 3.81h2m-2 7.6h2m2 0h2"/><path stroke="#8cff6b" d="M81 67.27h2m-4 11.4h4m-6 3.81h2m-2 7.6h2m0 3.8h2m-4 7.6h2m0 15.21h2m-4 3.8h2m120 11.41h2m2 0h2m4 0h2m6 0h4m-154 3.8h2m8 0h2m0 3.81h2m-2 7.6h2m-2 3.8h2m-2 3.8h2m-6 3.81h2m2 3.8h2m-4 15.2h4m-2 3.81h2m-4 7.6h2m-4 3.8h2m0 3.81h2m-2 3.8h2m0 3.8h2m-2 3.8h2m-2 7.6h2m-2 7.61h2m-4 11.41h2m-2 3.8h2m-2 3.8h2m-2 11.4h2m-2 3.81h4m-4 15.21h2m2 7.6h2m-2 7.6h2m-6 3.8h2m0 3.81h2m-6 3.8h6m-4 3.8h4m-4 3.8h2m-2 3.8h2m0 11.41h2m-4 7.6h2m-4 3.81h2m0 7.6h2m-2 3.8h6m-6 3.81h2m0 7.6h2m-2 7.6h2m0 11.41h2m-2 3.8h2m-4 3.8h2m-4 15.21h2m-2 7.61h6m-8 7.6h2m4 0h2m-6 3.8h4m-4 7.61h2m-2 11.4h2m2 0h2m-4 3.8h2m-6 3.8h2m0 7.61h2m-2 15.21h2m2 0h2m-8 3.8h2m0 3.8h4m-6 3.8h4m-4 3.8h2m4 3.81h2m-2 3.8h2"/><path stroke="#9cff5a" d="M77 74.87h2m-2 3.8h2m0 3.81h2m-2 3.8h2m-4 19.01h2m-2 7.6h2m126 19.01h2m6 0h2m-138 7.61h2m-2 3.8h2m-2 3.8h2m-2 3.8h2m-2 15.21h2m-2 3.8h2m-2 3.8h4m-4 11.41h4m-2 7.6h2m-4 11.41h2m-2 3.8h2m2 0h2m-4 3.8h2m-4 15.21h2m2 3.8h2m-6 19.01h4m-4 11.41h2m-2 19.01h2m-2 15.21h2m-2 26.61h2m-2 3.8h2m0 7.61h2m-4 3.8h2m-2 15.21h2m-2 15.2h2m-4 7.61h2m0 3.8h2m-4 7.61h2m2 11.4h2m-2 11.41h2m-4 3.8h4m-4 30.41h4m-2 22.82h2m-4 3.8h6m-4 7.6h2m-2 7.61h2"/><path stroke="#adff4a" d="M77 63.46h2m-2 7.61h2m-2 15.21h2m-2 30.41h2m-2 7.61h2m48 7.6h2m2 0h2m18 0h2m4 0h2m12 0h2m8 0h2m4 0h10m-120 22.81h2m-2 3.81h2m-2 3.8h2m-2 49.42h2m-2 3.8h2m-2 7.61h2m0 7.6h2m-4 34.22h2m0 26.61h2m-4 41.83h2m-2 26.61h2m0 7.6h2m-4 15.21h2m-2 3.81h2m-4 22.81h2m0 72.23h2m0 7.61h2m-2 3.8h2"/><path stroke="#bdff3a" d="M77 67.27h2m-2 26.61h2m54 38.02h2m24 0h2m14 0h4m4 0h2m-108 60.83h2m-2 38.02h2m-2 144.48h4m-4 34.22h2m-2 79.84h2"/><path stroke="#ceff29" d="M89 131.9h2m4 0h2m10 0h4m12 0h4m16 0h8m2 0h4m4 0h6m2 0h2m14 0h2m10 0h2"/><path stroke="#deff19" d="M91 131.9h4m4 0h4m2 0h2m6 0h2m14 0h2m36 0h2m4 0h2m4 0h2"/><path stroke="#efff08" d="M97 131.9h2m4 0h2m6 0h2m6 0h4m18 0h2"/><path stroke="#ffec00" d="M79 131.9h4m34 0h2"/><path stroke="#ffd900" d="M83 131.9h4m50 0h2"/><path stroke="#ffc600" d="M87 131.9h2m26 0h2m18 0h2m2 0h2"/><path stroke="#ffa100" d="M71 131.9h2m2 0h4"/><path stroke="#ff7b00" d="M69 131.9h2"/><path stroke="#ff6800" d="M67 131.9h2m4 0h2"/></g>
</g>
<g stroke="#000" stroke-width="1" stroke-dasharray="1.39 4.17"><line x1="161.5" y1="499.5" x2="161.5" y2="55" /><line x1="256.5" y1="499.5" x2="256.5" y2="55" /><line x1="350.5" y1="499.5" x2="350.5" y2="55" /><line x1="445.5" y1="499.5" x2="445.5" y2="55" /></g>
<g stroke="#000" stroke-width="1" stroke-dasharray="1.39 4.17" stroke-dashoffset="-0.5"><line x1="67" y1="128.5" x2="540" y2="128.5" /><line x1="67" y1="204.5" x2="540" y2="204.5" /><line x1="67" y1="281.5" x2="540" y2="281.5" /><line x1="67" y1="357.5" x2="540" y2="357.5" /><line x1="67" y1="434.5" x2="540" y2="434.5" /></g>
<g stroke="#000" stroke-width="1"><line x1="161.5" y1="499" x2="161.5" y2="493"/><line x1="161.5" y1="55" x2="161.5" y2="61"/><line x1="256.5" y1="499" x2="256.5" y2="493"/><line x1="256.5" y1="55" x2="256.5" y2="61"/><line x1="350.5" y1="499" x2="350.5" y2="493"/><line x1="350.5" y1="55" x2="350.5" y2="61"/><line x1="445.5" y1="499" x2="445.5" y2="493"/><line x1="445.5" y1="55" x2="445.5" y2="61"/><line x1="67" y1="128.5" x2="73.5" y2="128.5"/><line x1="539" y1="128.5" x2="533" y2="128.5"/><line x1="67" y1="204.5" x2="73.5" y2="204.5"/><line x1="539" y1="204.5" x2="533" y2="204.5"/><line x1="67" y1="281.5" x2="73.5" y2="281.5"/><line x1="539" y1="281.5" x2="533" y2="281.5"/><line x1="67" y1="357.5" x2="73.5" y2="357.5"/><line x1="539" y1="357.5" x2="533" y2="357.5"/><line x1="67" y1="434.5" x2="73.5" y2="434.5"/><line x1="539" y1="434.5" x2="533" y2="434.5"/></g>
<rect x="67.5" y="55.5" width="472" height="444" fill="none" stroke="#000" stroke-width="1"/>
<defs><linearGradient id="cb" x1="0" y1="1" x2="0" y2="0"><stop offset="0" stop-color="#000080"/><stop offset="0.11" stop-color="#0000ff"/><stop offset="0.125" stop-color="#0000ff"/><stop offset="0.34" stop-color="#00dbff"/><stop offset="0.35" stop-color="#00e5f7"/><stop offset="0.375" stop-color="#15ffe2"/><stop offset="0.64" stop-color="#efff08"/><stop offset="0.65" stop-color="#f7f600"/><stop offset="0.66" stop-color="#ffec00"/><stop offset="0.89" stop-color="#ff1300"/><stop offset="0.91" stop-color="#e80000"/><stop offset="1" stop-color="#800000"/></linearGradient></defs>
<rect x="559.5" y="55.5" width="21" height="444" fill="url(#cb)" stroke="#000" stroke-width="1"/>
<g stroke="#000" stroke-width="1"><line x1="580" y1="443.5" x2="574" y2="443.5"/><line x1="580" y1="388.5" x2="574" y2="388.5"/><line x1="580" y1="332.5" x2="574" y2="332.5"/><line x1="580" y1="277.5" x2="574" y2="277.5"/><line x1="580" y1="221.5" x2="574" y2="221.5"/><line x1="580" y1="166.5" x2="574" y2="166.5"/><line x1="580" y1="110.5" x2="574" y2="110.5"/></g>
<g font-family="Liberation Sans, sans-serif" fill="#000" opacity="0.999"><text x="0" y="48" font-size="20.1" transform="translate(160.030,0) scale(1.0790,1)">BW BROTZ BHZ: 2013-07-30</text><text x="0" y="535" font-size="16.8" transform="translate(240.798,0) scale(1.1054,1)">Frequency [Hz]</text><text x="0" y="134" font-size="16.8" transform="translate(42.177,0) scale(1.0605,1)">13</text><text x="0" y="210" font-size="16.8" transform="translate(42.396,0) scale(1.0286,1)">14</text><text x="0" y="286" font-size="16.8" transform="translate(43.148,0) scale(1.0215,1)">15</text><text x="0" y="363" font-size="16.8" transform="translate(42.332,0) scale(1.0471,1)">16</text><text x="0" y="439" font-size="16.8" transform="translate(42.356,0) scale(1.0429,1)">17</text><text x="0" y="516" font-size="16.8" transform="translate(156.089,0) scale(1.0568,1)">2</text><text x="0" y="516" font-size="16.8" transform="translate(251.240,0) scale(1.0740,1)">4</text><text x="0" y="516" font-size="16.8" transform="translate(343.757,0) scale(1.1619,1)">6</text><text x="0" y="516" font-size="16.8" transform="translate(439.356,0) scale(1.0594,1)">8</text><text x="0" y="516" font-size="16.8" transform="translate(529.254,0) scale(1.0445,1)">10</text><text x="0" y="61" font-size="16.8" transform="translate(584.107,0) scale(1.0624,1)">2</text><text x="0" y="116" font-size="16.8" transform="translate(584.303,0) scale(1.0418,1)">1</text><text x="0" y="172" font-size="16.8" transform="translate(584.096,0) scale(1.0919,1)">0</text><text x="0" y="227" font-size="16.8" transform="translate(584.607,0) scale(1.2768,1)">−</text><text x="0" y="227" font-size="16.8" transform="translate(597.338,0) scale(1.0269,1)">1</text><text x="0" y="283" font-size="16.8" transform="translate(584.607,0) scale(1.2768,1)">−</text><text x="0" y="283" font-size="16.8" transform="translate(597.116,0) scale(1.0634,1)">2</text><text x="0" y="338" font-size="16.8" transform="translate(584.607,0) scale(1.2768,1)">−</text><text x="0" y="338" font-size="16.8" transform="translate(596.927,0) scale(1.0690,1)">3</text><text x="0" y="394" font-size="16.8" transform="translate(584.607,0) scale(1.2768,1)">−</text><text x="0" y="394" font-size="16.8" transform="translate(597.561,0) scale(1.0410,1)">4</text><text x="0" y="449" font-size="16.8" transform="translate(584.607,0) scale(1.2768,1)">−</text><text x="0" y="449" font-size="16.8" transform="translate(596.914,0) scale(1.0564,1)">5</text><text x="0" y="504" font-size="16.8" transform="translate(584.607,0) scale(1.2768,1)">−</text><text x="0" y="504" font-size="16.8" transform="translate(596.846,0) scale(1.1464,1)">6</text><text x="0" y="0" font-size="16.8" transform="translate(33.0,385.648) rotate(-90) scale(1.1251,1)">UTC (+ 02:00 = Lokalzeit)</text><text x="0" y="0" font-size="16.8" transform="translate(625.3,377.075) rotate(-90) scale(1.1314,1)">Log10((um**2/s**2/Hz))</text></g>
</svg>
</body></html>
